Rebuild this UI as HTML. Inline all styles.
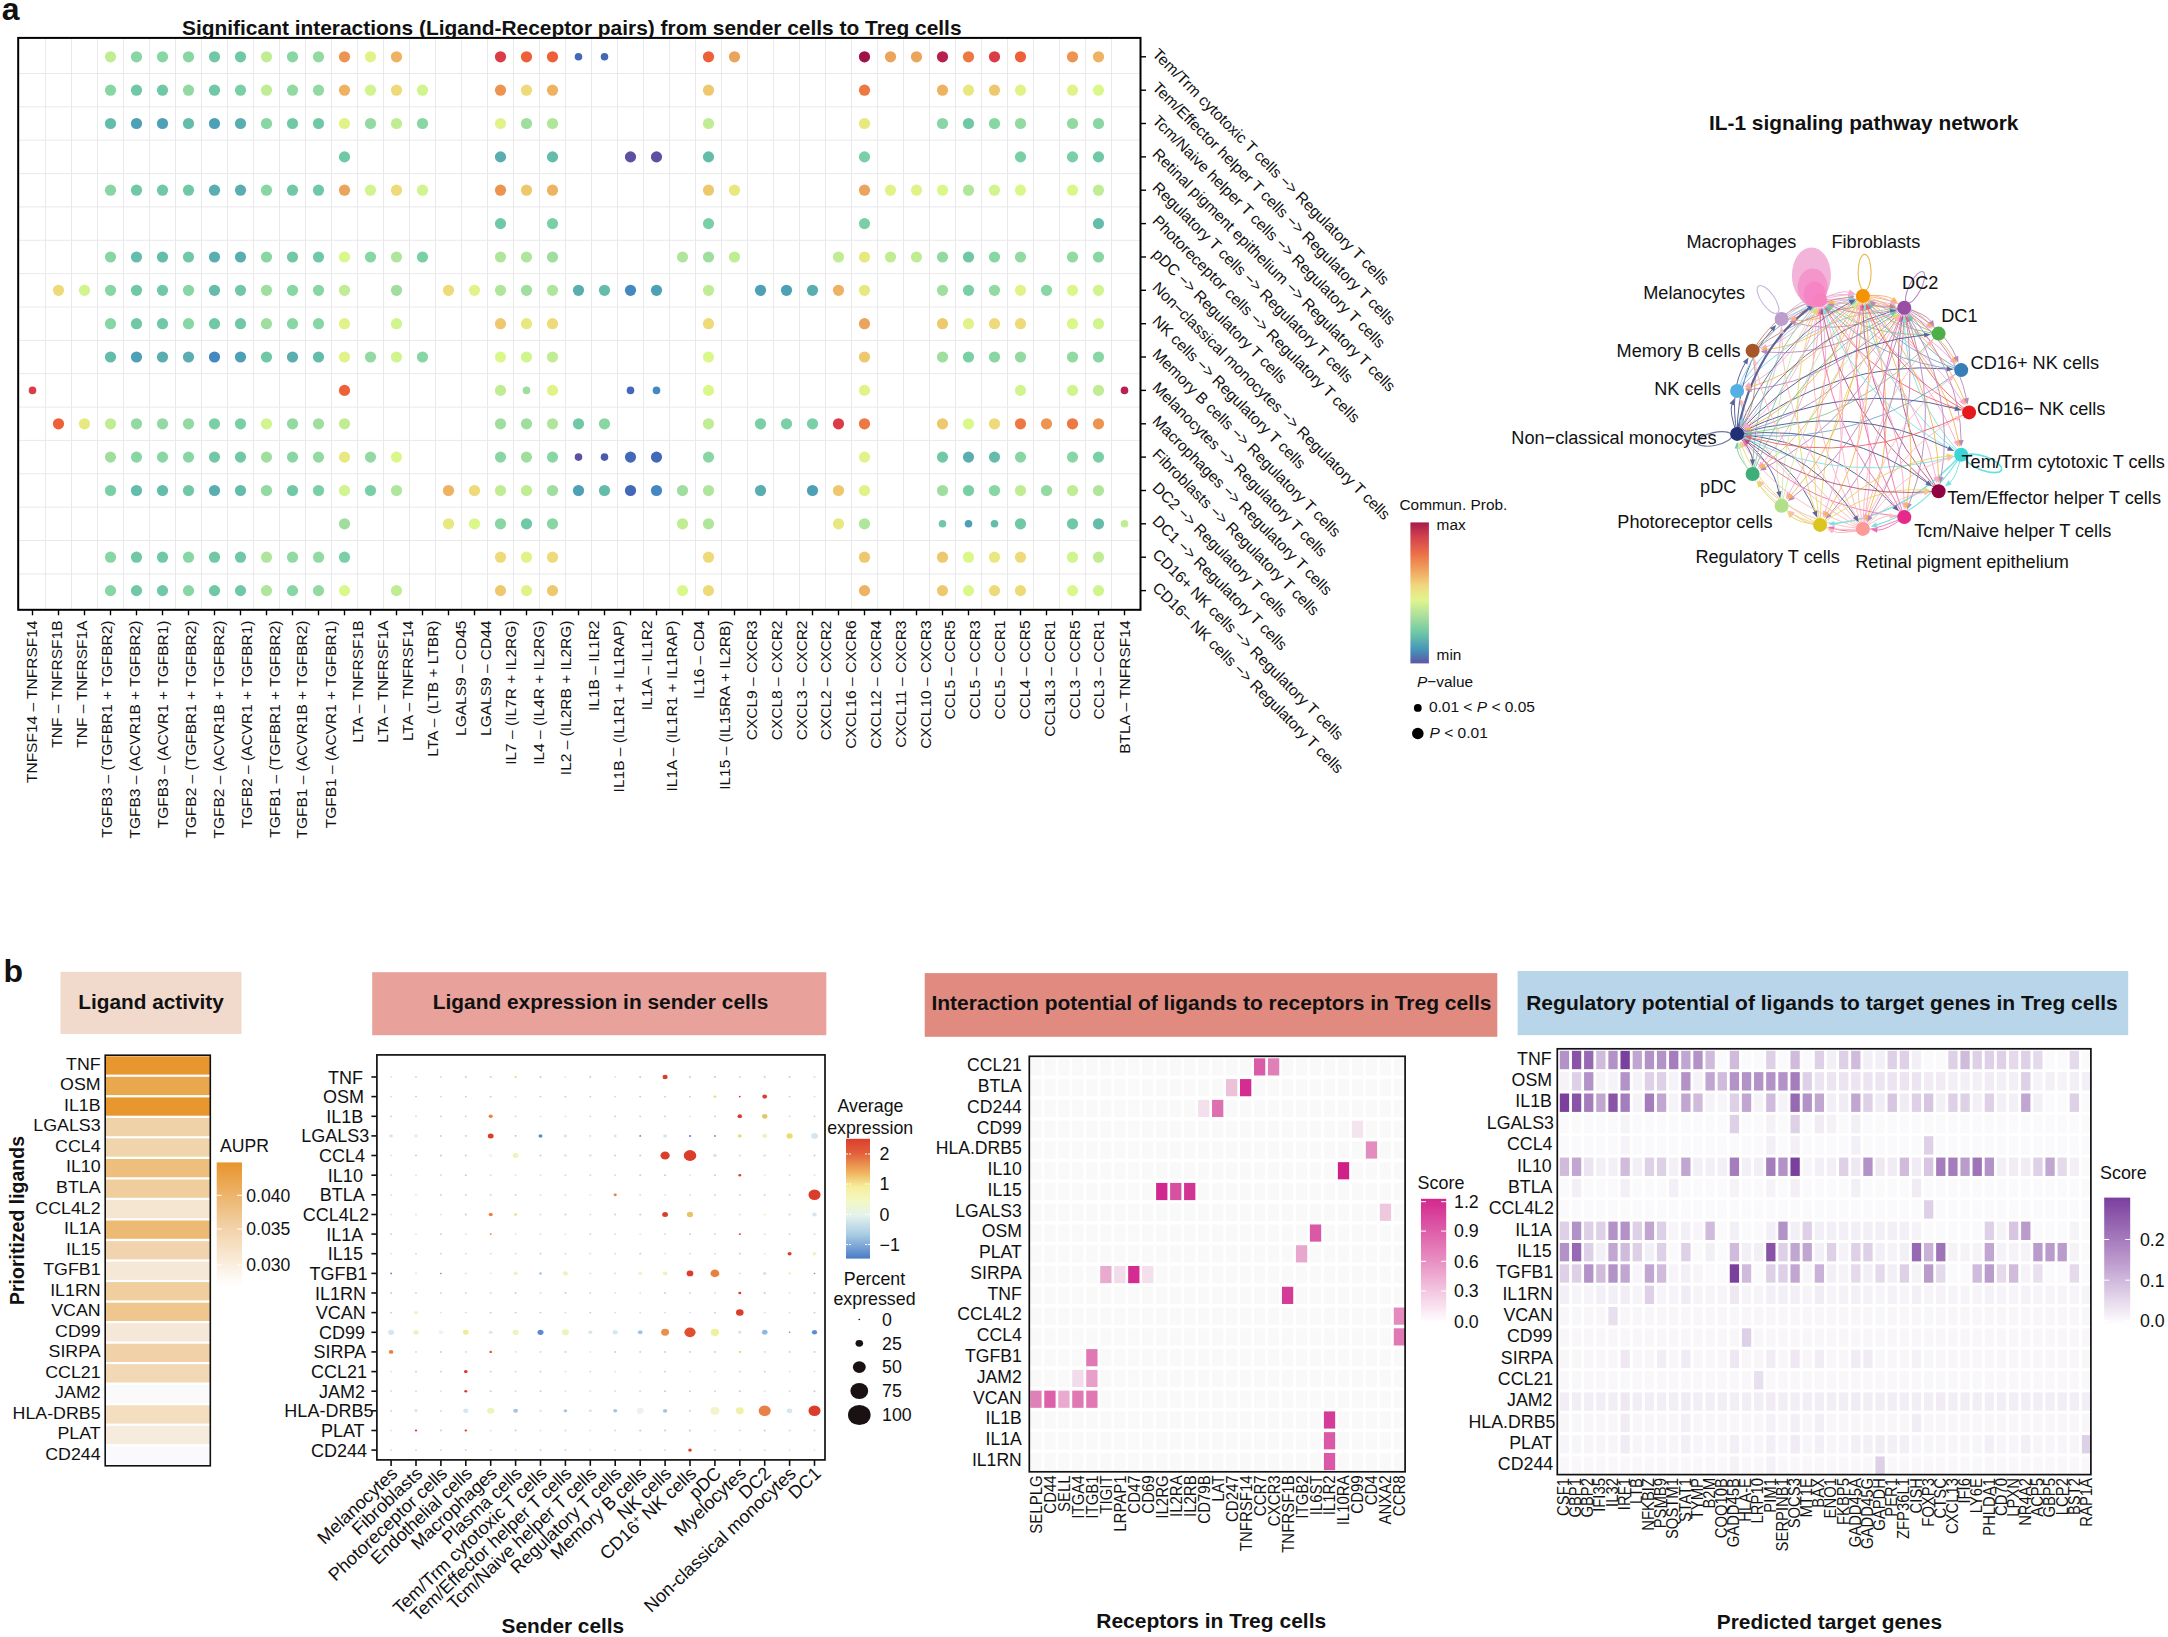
<!DOCTYPE html>
<html lang="en"><head><meta charset="utf-8"><title>Figure</title>
<style>
html,body{margin:0;padding:0;background:#fff}
svg{display:block}
svg text{font-family:"Liberation Sans",sans-serif;fill:#111}
</style></head><body>
<svg width="2168" height="1637" viewBox="0 0 2168 1637">
<rect width="2168" height="1637" fill="#fff"/>
<g id="gen_a">
<g stroke="#e9e9eb" stroke-width="1"><line x1="45.5" y1="37.9" x2="45.5" y2="609.8"/><line x1="71.5" y1="37.9" x2="71.5" y2="609.8"/><line x1="97.5" y1="37.9" x2="97.5" y2="609.8"/><line x1="123.5" y1="37.9" x2="123.5" y2="609.8"/><line x1="149.5" y1="37.9" x2="149.5" y2="609.8"/><line x1="175.5" y1="37.9" x2="175.5" y2="609.8"/><line x1="201.5" y1="37.9" x2="201.5" y2="609.8"/><line x1="227.5" y1="37.9" x2="227.5" y2="609.8"/><line x1="253.5" y1="37.9" x2="253.5" y2="609.8"/><line x1="279.5" y1="37.9" x2="279.5" y2="609.8"/><line x1="305.5" y1="37.9" x2="305.5" y2="609.8"/><line x1="331.5" y1="37.9" x2="331.5" y2="609.8"/><line x1="357.5" y1="37.9" x2="357.5" y2="609.8"/><line x1="383.5" y1="37.9" x2="383.5" y2="609.8"/><line x1="409.5" y1="37.9" x2="409.5" y2="609.8"/><line x1="435.5" y1="37.9" x2="435.5" y2="609.8"/><line x1="461.5" y1="37.9" x2="461.5" y2="609.8"/><line x1="487.5" y1="37.9" x2="487.5" y2="609.8"/><line x1="513.5" y1="37.9" x2="513.5" y2="609.8"/><line x1="539.5" y1="37.9" x2="539.5" y2="609.8"/><line x1="565.5" y1="37.9" x2="565.5" y2="609.8"/><line x1="591.5" y1="37.9" x2="591.5" y2="609.8"/><line x1="617.5" y1="37.9" x2="617.5" y2="609.8"/><line x1="643.5" y1="37.9" x2="643.5" y2="609.8"/><line x1="669.5" y1="37.9" x2="669.5" y2="609.8"/><line x1="695.5" y1="37.9" x2="695.5" y2="609.8"/><line x1="721.5" y1="37.9" x2="721.5" y2="609.8"/><line x1="747.5" y1="37.9" x2="747.5" y2="609.8"/><line x1="773.5" y1="37.9" x2="773.5" y2="609.8"/><line x1="799.5" y1="37.9" x2="799.5" y2="609.8"/><line x1="825.5" y1="37.9" x2="825.5" y2="609.8"/><line x1="851.5" y1="37.9" x2="851.5" y2="609.8"/><line x1="877.5" y1="37.9" x2="877.5" y2="609.8"/><line x1="903.5" y1="37.9" x2="903.5" y2="609.8"/><line x1="929.5" y1="37.9" x2="929.5" y2="609.8"/><line x1="955.5" y1="37.9" x2="955.5" y2="609.8"/><line x1="981.5" y1="37.9" x2="981.5" y2="609.8"/><line x1="1007.5" y1="37.9" x2="1007.5" y2="609.8"/><line x1="1033.5" y1="37.9" x2="1033.5" y2="609.8"/><line x1="1059.5" y1="37.9" x2="1059.5" y2="609.8"/><line x1="1085.5" y1="37.9" x2="1085.5" y2="609.8"/><line x1="1111.5" y1="37.9" x2="1111.5" y2="609.8"/><line x1="18.2" y1="73.5" x2="1140.5" y2="73.5"/><line x1="18.2" y1="106.8" x2="1140.5" y2="106.8"/><line x1="18.2" y1="140.2" x2="1140.5" y2="140.2"/><line x1="18.2" y1="173.6" x2="1140.5" y2="173.6"/><line x1="18.2" y1="206.9" x2="1140.5" y2="206.9"/><line x1="18.2" y1="240.3" x2="1140.5" y2="240.3"/><line x1="18.2" y1="273.6" x2="1140.5" y2="273.6"/><line x1="18.2" y1="307.0" x2="1140.5" y2="307.0"/><line x1="18.2" y1="340.4" x2="1140.5" y2="340.4"/><line x1="18.2" y1="373.7" x2="1140.5" y2="373.7"/><line x1="18.2" y1="407.1" x2="1140.5" y2="407.1"/><line x1="18.2" y1="440.4" x2="1140.5" y2="440.4"/><line x1="18.2" y1="473.8" x2="1140.5" y2="473.8"/><line x1="18.2" y1="507.2" x2="1140.5" y2="507.2"/><line x1="18.2" y1="540.5" x2="1140.5" y2="540.5"/><line x1="18.2" y1="573.9" x2="1140.5" y2="573.9"/></g>
<circle cx="110.5" cy="56.8" r="5.6" fill="#C0EC94"/><circle cx="136.5" cy="56.8" r="5.6" fill="#88D6A3"/><circle cx="162.5" cy="56.8" r="5.6" fill="#88D6A3"/><circle cx="188.5" cy="56.8" r="5.6" fill="#88D6A3"/><circle cx="214.5" cy="56.8" r="5.6" fill="#70C8A6"/><circle cx="240.5" cy="56.8" r="5.6" fill="#70C8A6"/><circle cx="266.5" cy="56.8" r="5.6" fill="#C0EC94"/><circle cx="292.5" cy="56.8" r="5.6" fill="#88D6A3"/><circle cx="318.5" cy="56.8" r="5.6" fill="#92D9A2"/><circle cx="344.5" cy="56.8" r="5.6" fill="#EC9450"/><circle cx="370.5" cy="56.8" r="5.6" fill="#E2F288"/><circle cx="396.5" cy="56.8" r="5.6" fill="#EDB262"/><circle cx="500.5" cy="56.8" r="5.6" fill="#DC3C48"/><circle cx="526.5" cy="56.8" r="5.6" fill="#EE6038"/><circle cx="552.5" cy="56.8" r="5.6" fill="#EE6038"/><circle cx="578.5" cy="56.8" r="3.8" fill="#4468B8"/><circle cx="604.5" cy="56.8" r="3.8" fill="#4468B8"/><circle cx="708.5" cy="56.8" r="5.6" fill="#EE6038"/><circle cx="734.5" cy="56.8" r="5.6" fill="#EAA45C"/><circle cx="864.5" cy="56.8" r="5.6" fill="#9E1248"/><circle cx="890.5" cy="56.8" r="5.6" fill="#EAA45C"/><circle cx="916.5" cy="56.8" r="5.6" fill="#EAA45C"/><circle cx="942.5" cy="56.8" r="5.6" fill="#B82050"/><circle cx="968.5" cy="56.8" r="5.6" fill="#EE7842"/><circle cx="994.5" cy="56.8" r="5.6" fill="#DC3C48"/><circle cx="1020.5" cy="56.8" r="5.6" fill="#EE6038"/><circle cx="1072.5" cy="56.8" r="5.6" fill="#EC9450"/><circle cx="1098.5" cy="56.8" r="5.6" fill="#EDB262"/><circle cx="110.5" cy="90.2" r="5.6" fill="#88D6A3"/><circle cx="136.5" cy="90.2" r="5.6" fill="#70C8A6"/><circle cx="162.5" cy="90.2" r="5.6" fill="#70C8A6"/><circle cx="188.5" cy="90.2" r="5.6" fill="#92D9A2"/><circle cx="214.5" cy="90.2" r="5.6" fill="#70C8A6"/><circle cx="240.5" cy="90.2" r="5.6" fill="#7AD0A6"/><circle cx="266.5" cy="90.2" r="5.6" fill="#C0EC94"/><circle cx="292.5" cy="90.2" r="5.6" fill="#92D9A2"/><circle cx="318.5" cy="90.2" r="5.6" fill="#92D9A2"/><circle cx="344.5" cy="90.2" r="5.6" fill="#EDB262"/><circle cx="370.5" cy="90.2" r="5.6" fill="#D0F48E"/><circle cx="396.5" cy="90.2" r="5.6" fill="#EEDA78"/><circle cx="422.5" cy="90.2" r="5.6" fill="#D0F48E"/><circle cx="500.5" cy="90.2" r="5.6" fill="#EC9450"/><circle cx="526.5" cy="90.2" r="5.6" fill="#EEDA78"/><circle cx="552.5" cy="90.2" r="5.6" fill="#EDB262"/><circle cx="708.5" cy="90.2" r="5.6" fill="#EEC86E"/><circle cx="864.5" cy="90.2" r="5.6" fill="#EE7842"/><circle cx="942.5" cy="90.2" r="5.6" fill="#EDB262"/><circle cx="968.5" cy="90.2" r="5.6" fill="#E8E880"/><circle cx="994.5" cy="90.2" r="5.6" fill="#EEC86E"/><circle cx="1020.5" cy="90.2" r="5.6" fill="#E2F288"/><circle cx="1072.5" cy="90.2" r="5.6" fill="#E2F288"/><circle cx="1098.5" cy="90.2" r="5.6" fill="#DAF88A"/><circle cx="110.5" cy="123.5" r="5.6" fill="#64BCAA"/><circle cx="136.5" cy="123.5" r="5.6" fill="#4EA0B6"/><circle cx="162.5" cy="123.5" r="5.6" fill="#4EA0B6"/><circle cx="188.5" cy="123.5" r="5.6" fill="#64BCAA"/><circle cx="214.5" cy="123.5" r="5.6" fill="#4EA0B6"/><circle cx="240.5" cy="123.5" r="5.6" fill="#5AAEB0"/><circle cx="266.5" cy="123.5" r="5.6" fill="#88D6A3"/><circle cx="292.5" cy="123.5" r="5.6" fill="#70C8A6"/><circle cx="318.5" cy="123.5" r="5.6" fill="#70C8A6"/><circle cx="344.5" cy="123.5" r="5.6" fill="#E2F288"/><circle cx="370.5" cy="123.5" r="5.6" fill="#92D9A2"/><circle cx="396.5" cy="123.5" r="5.6" fill="#C0EC94"/><circle cx="422.5" cy="123.5" r="5.6" fill="#88D6A3"/><circle cx="500.5" cy="123.5" r="5.6" fill="#E2F288"/><circle cx="526.5" cy="123.5" r="5.6" fill="#A0DEA0"/><circle cx="552.5" cy="123.5" r="5.6" fill="#B0E69C"/><circle cx="708.5" cy="123.5" r="5.6" fill="#C0EC94"/><circle cx="864.5" cy="123.5" r="5.6" fill="#E8E880"/><circle cx="942.5" cy="123.5" r="5.6" fill="#88D6A3"/><circle cx="968.5" cy="123.5" r="5.6" fill="#70C8A6"/><circle cx="994.5" cy="123.5" r="5.6" fill="#88D6A3"/><circle cx="1020.5" cy="123.5" r="5.6" fill="#92D9A2"/><circle cx="1072.5" cy="123.5" r="5.6" fill="#92D9A2"/><circle cx="1098.5" cy="123.5" r="5.6" fill="#88D6A3"/><circle cx="344.5" cy="156.9" r="5.6" fill="#70C8A6"/><circle cx="500.5" cy="156.9" r="5.6" fill="#5AAEB0"/><circle cx="552.5" cy="156.9" r="5.6" fill="#64BCAA"/><circle cx="630.5" cy="156.9" r="5.6" fill="#5E4FA2"/><circle cx="656.5" cy="156.9" r="5.6" fill="#5E4FA2"/><circle cx="708.5" cy="156.9" r="5.6" fill="#64BCAA"/><circle cx="864.5" cy="156.9" r="5.6" fill="#7AD0A6"/><circle cx="1020.5" cy="156.9" r="5.6" fill="#7AD0A6"/><circle cx="1072.5" cy="156.9" r="5.6" fill="#7AD0A6"/><circle cx="1098.5" cy="156.9" r="5.6" fill="#70C8A6"/><circle cx="110.5" cy="190.2" r="5.6" fill="#88D6A3"/><circle cx="136.5" cy="190.2" r="5.6" fill="#70C8A6"/><circle cx="162.5" cy="190.2" r="5.6" fill="#70C8A6"/><circle cx="188.5" cy="190.2" r="5.6" fill="#70C8A6"/><circle cx="214.5" cy="190.2" r="5.6" fill="#5AAEB0"/><circle cx="240.5" cy="190.2" r="5.6" fill="#5AAEB0"/><circle cx="266.5" cy="190.2" r="5.6" fill="#88D6A3"/><circle cx="292.5" cy="190.2" r="5.6" fill="#70C8A6"/><circle cx="318.5" cy="190.2" r="5.6" fill="#70C8A6"/><circle cx="344.5" cy="190.2" r="5.6" fill="#EAA45C"/><circle cx="370.5" cy="190.2" r="5.6" fill="#D0F48E"/><circle cx="396.5" cy="190.2" r="5.6" fill="#EEDA78"/><circle cx="422.5" cy="190.2" r="5.6" fill="#D0F48E"/><circle cx="500.5" cy="190.2" r="5.6" fill="#EC9450"/><circle cx="526.5" cy="190.2" r="5.6" fill="#EEC86E"/><circle cx="552.5" cy="190.2" r="5.6" fill="#EDB262"/><circle cx="708.5" cy="190.2" r="5.6" fill="#EEC86E"/><circle cx="734.5" cy="190.2" r="5.6" fill="#E8E880"/><circle cx="864.5" cy="190.2" r="5.6" fill="#EAA45C"/><circle cx="890.5" cy="190.2" r="5.6" fill="#E2F288"/><circle cx="916.5" cy="190.2" r="5.6" fill="#E2F288"/><circle cx="942.5" cy="190.2" r="5.6" fill="#DAF88A"/><circle cx="968.5" cy="190.2" r="5.6" fill="#B0E69C"/><circle cx="994.5" cy="190.2" r="5.6" fill="#D0F48E"/><circle cx="1020.5" cy="190.2" r="5.6" fill="#DAF88A"/><circle cx="1072.5" cy="190.2" r="5.6" fill="#DAF88A"/><circle cx="1098.5" cy="190.2" r="5.6" fill="#C0EC94"/><circle cx="500.5" cy="223.6" r="5.6" fill="#70C8A6"/><circle cx="552.5" cy="223.6" r="5.6" fill="#7AD0A6"/><circle cx="708.5" cy="223.6" r="5.6" fill="#7AD0A6"/><circle cx="864.5" cy="223.6" r="5.6" fill="#7AD0A6"/><circle cx="1098.5" cy="223.6" r="5.6" fill="#64BCAA"/><circle cx="110.5" cy="257.0" r="5.6" fill="#88D6A3"/><circle cx="136.5" cy="257.0" r="5.6" fill="#64BCAA"/><circle cx="162.5" cy="257.0" r="5.6" fill="#64BCAA"/><circle cx="188.5" cy="257.0" r="5.6" fill="#70C8A6"/><circle cx="214.5" cy="257.0" r="5.6" fill="#5AAEB0"/><circle cx="240.5" cy="257.0" r="5.6" fill="#5AAEB0"/><circle cx="266.5" cy="257.0" r="5.6" fill="#88D6A3"/><circle cx="292.5" cy="257.0" r="5.6" fill="#70C8A6"/><circle cx="318.5" cy="257.0" r="5.6" fill="#70C8A6"/><circle cx="344.5" cy="257.0" r="5.6" fill="#DAF88A"/><circle cx="370.5" cy="257.0" r="5.6" fill="#88D6A3"/><circle cx="396.5" cy="257.0" r="5.6" fill="#B0E69C"/><circle cx="422.5" cy="257.0" r="5.6" fill="#7AD0A6"/><circle cx="500.5" cy="257.0" r="5.6" fill="#B0E69C"/><circle cx="526.5" cy="257.0" r="5.6" fill="#B0E69C"/><circle cx="552.5" cy="257.0" r="5.6" fill="#A0DEA0"/><circle cx="682.5" cy="257.0" r="5.6" fill="#B0E69C"/><circle cx="708.5" cy="257.0" r="5.6" fill="#A0DEA0"/><circle cx="734.5" cy="257.0" r="5.6" fill="#C0EC94"/><circle cx="838.5" cy="257.0" r="5.6" fill="#C0EC94"/><circle cx="864.5" cy="257.0" r="5.6" fill="#E8E880"/><circle cx="890.5" cy="257.0" r="5.6" fill="#C0EC94"/><circle cx="916.5" cy="257.0" r="5.6" fill="#C0EC94"/><circle cx="942.5" cy="257.0" r="5.6" fill="#92D9A2"/><circle cx="968.5" cy="257.0" r="5.6" fill="#70C8A6"/><circle cx="994.5" cy="257.0" r="5.6" fill="#88D6A3"/><circle cx="1020.5" cy="257.0" r="5.6" fill="#92D9A2"/><circle cx="1072.5" cy="257.0" r="5.6" fill="#92D9A2"/><circle cx="1098.5" cy="257.0" r="5.6" fill="#88D6A3"/><circle cx="58.5" cy="290.3" r="5.6" fill="#EEDA78"/><circle cx="84.5" cy="290.3" r="5.6" fill="#D0F48E"/><circle cx="110.5" cy="290.3" r="5.6" fill="#88D6A3"/><circle cx="136.5" cy="290.3" r="5.6" fill="#70C8A6"/><circle cx="162.5" cy="290.3" r="5.6" fill="#70C8A6"/><circle cx="188.5" cy="290.3" r="5.6" fill="#88D6A3"/><circle cx="214.5" cy="290.3" r="5.6" fill="#64BCAA"/><circle cx="240.5" cy="290.3" r="5.6" fill="#70C8A6"/><circle cx="266.5" cy="290.3" r="5.6" fill="#A0DEA0"/><circle cx="292.5" cy="290.3" r="5.6" fill="#88D6A3"/><circle cx="318.5" cy="290.3" r="5.6" fill="#88D6A3"/><circle cx="344.5" cy="290.3" r="5.6" fill="#C0EC94"/><circle cx="396.5" cy="290.3" r="5.6" fill="#A0DEA0"/><circle cx="448.5" cy="290.3" r="5.6" fill="#EEDA78"/><circle cx="474.5" cy="290.3" r="5.6" fill="#E2F288"/><circle cx="500.5" cy="290.3" r="5.6" fill="#B0E69C"/><circle cx="526.5" cy="290.3" r="5.6" fill="#A0DEA0"/><circle cx="552.5" cy="290.3" r="5.6" fill="#B0E69C"/><circle cx="578.5" cy="290.3" r="5.6" fill="#5AAEB0"/><circle cx="604.5" cy="290.3" r="5.6" fill="#64BCAA"/><circle cx="630.5" cy="290.3" r="5.6" fill="#4488C2"/><circle cx="656.5" cy="290.3" r="5.6" fill="#4EA0B6"/><circle cx="708.5" cy="290.3" r="5.6" fill="#C0EC94"/><circle cx="760.5" cy="290.3" r="5.6" fill="#4EA0B6"/><circle cx="786.5" cy="290.3" r="5.6" fill="#4EA0B6"/><circle cx="812.5" cy="290.3" r="5.6" fill="#5AAEB0"/><circle cx="838.5" cy="290.3" r="5.6" fill="#EDB262"/><circle cx="864.5" cy="290.3" r="5.6" fill="#E8E880"/><circle cx="942.5" cy="290.3" r="5.6" fill="#A0DEA0"/><circle cx="968.5" cy="290.3" r="5.6" fill="#7AD0A6"/><circle cx="994.5" cy="290.3" r="5.6" fill="#92D9A2"/><circle cx="1020.5" cy="290.3" r="5.6" fill="#E2F288"/><circle cx="1046.5" cy="290.3" r="5.6" fill="#88D6A3"/><circle cx="1072.5" cy="290.3" r="5.6" fill="#DAF88A"/><circle cx="1098.5" cy="290.3" r="5.6" fill="#D0F48E"/><circle cx="110.5" cy="323.7" r="5.6" fill="#88D6A3"/><circle cx="136.5" cy="323.7" r="5.6" fill="#70C8A6"/><circle cx="162.5" cy="323.7" r="5.6" fill="#70C8A6"/><circle cx="188.5" cy="323.7" r="5.6" fill="#88D6A3"/><circle cx="214.5" cy="323.7" r="5.6" fill="#70C8A6"/><circle cx="240.5" cy="323.7" r="5.6" fill="#70C8A6"/><circle cx="266.5" cy="323.7" r="5.6" fill="#A0DEA0"/><circle cx="292.5" cy="323.7" r="5.6" fill="#88D6A3"/><circle cx="318.5" cy="323.7" r="5.6" fill="#88D6A3"/><circle cx="344.5" cy="323.7" r="5.6" fill="#E2F288"/><circle cx="396.5" cy="323.7" r="5.6" fill="#D0F48E"/><circle cx="500.5" cy="323.7" r="5.6" fill="#EEC86E"/><circle cx="526.5" cy="323.7" r="5.6" fill="#E8E880"/><circle cx="552.5" cy="323.7" r="5.6" fill="#EEDA78"/><circle cx="708.5" cy="323.7" r="5.6" fill="#EEDA78"/><circle cx="864.5" cy="323.7" r="5.6" fill="#EAA45C"/><circle cx="942.5" cy="323.7" r="5.6" fill="#EEC86E"/><circle cx="968.5" cy="323.7" r="5.6" fill="#E2F288"/><circle cx="994.5" cy="323.7" r="5.6" fill="#EEDA78"/><circle cx="1020.5" cy="323.7" r="5.6" fill="#EEDA78"/><circle cx="1072.5" cy="323.7" r="5.6" fill="#DAF88A"/><circle cx="1098.5" cy="323.7" r="5.6" fill="#D0F48E"/><circle cx="110.5" cy="357.0" r="5.6" fill="#64BCAA"/><circle cx="136.5" cy="357.0" r="5.6" fill="#4EA0B6"/><circle cx="162.5" cy="357.0" r="5.6" fill="#5AAEB0"/><circle cx="188.5" cy="357.0" r="5.6" fill="#5AAEB0"/><circle cx="214.5" cy="357.0" r="5.6" fill="#4488C2"/><circle cx="240.5" cy="357.0" r="5.6" fill="#4EA0B6"/><circle cx="266.5" cy="357.0" r="5.6" fill="#70C8A6"/><circle cx="292.5" cy="357.0" r="5.6" fill="#5AAEB0"/><circle cx="318.5" cy="357.0" r="5.6" fill="#64BCAA"/><circle cx="344.5" cy="357.0" r="5.6" fill="#E2F288"/><circle cx="370.5" cy="357.0" r="5.6" fill="#92D9A2"/><circle cx="396.5" cy="357.0" r="5.6" fill="#D0F48E"/><circle cx="422.5" cy="357.0" r="5.6" fill="#88D6A3"/><circle cx="500.5" cy="357.0" r="5.6" fill="#DAF88A"/><circle cx="526.5" cy="357.0" r="5.6" fill="#D0F48E"/><circle cx="552.5" cy="357.0" r="5.6" fill="#C0EC94"/><circle cx="708.5" cy="357.0" r="5.6" fill="#DAF88A"/><circle cx="864.5" cy="357.0" r="5.6" fill="#EEC86E"/><circle cx="942.5" cy="357.0" r="5.6" fill="#A0DEA0"/><circle cx="968.5" cy="357.0" r="5.6" fill="#7AD0A6"/><circle cx="994.5" cy="357.0" r="5.6" fill="#88D6A3"/><circle cx="1020.5" cy="357.0" r="5.6" fill="#92D9A2"/><circle cx="1072.5" cy="357.0" r="5.6" fill="#92D9A2"/><circle cx="1098.5" cy="357.0" r="5.6" fill="#88D6A3"/><circle cx="32.5" cy="390.4" r="3.8" fill="#DC3C48"/><circle cx="344.5" cy="390.4" r="5.6" fill="#EE6038"/><circle cx="500.5" cy="390.4" r="5.6" fill="#C0EC94"/><circle cx="526.5" cy="390.4" r="3.8" fill="#A0DEA0"/><circle cx="552.5" cy="390.4" r="5.6" fill="#E2F288"/><circle cx="630.5" cy="390.4" r="3.8" fill="#4468B8"/><circle cx="656.5" cy="390.4" r="3.8" fill="#4488C2"/><circle cx="708.5" cy="390.4" r="5.6" fill="#DAF88A"/><circle cx="864.5" cy="390.4" r="5.6" fill="#E2F288"/><circle cx="1020.5" cy="390.4" r="5.6" fill="#D0F48E"/><circle cx="1072.5" cy="390.4" r="5.6" fill="#D0F48E"/><circle cx="1098.5" cy="390.4" r="5.6" fill="#C0EC94"/><circle cx="1124.5" cy="390.4" r="3.8" fill="#B82050"/><circle cx="58.5" cy="423.8" r="5.6" fill="#EE6038"/><circle cx="84.5" cy="423.8" r="5.6" fill="#E8E880"/><circle cx="110.5" cy="423.8" r="5.6" fill="#C0EC94"/><circle cx="136.5" cy="423.8" r="5.6" fill="#92D9A2"/><circle cx="162.5" cy="423.8" r="5.6" fill="#92D9A2"/><circle cx="188.5" cy="423.8" r="5.6" fill="#92D9A2"/><circle cx="214.5" cy="423.8" r="5.6" fill="#7AD0A6"/><circle cx="240.5" cy="423.8" r="5.6" fill="#7AD0A6"/><circle cx="266.5" cy="423.8" r="5.6" fill="#D0F48E"/><circle cx="292.5" cy="423.8" r="5.6" fill="#92D9A2"/><circle cx="318.5" cy="423.8" r="5.6" fill="#A0DEA0"/><circle cx="344.5" cy="423.8" r="5.6" fill="#C0EC94"/><circle cx="500.5" cy="423.8" r="5.6" fill="#A0DEA0"/><circle cx="526.5" cy="423.8" r="5.6" fill="#A0DEA0"/><circle cx="552.5" cy="423.8" r="5.6" fill="#B0E69C"/><circle cx="578.5" cy="423.8" r="5.6" fill="#70C8A6"/><circle cx="604.5" cy="423.8" r="5.6" fill="#88D6A3"/><circle cx="708.5" cy="423.8" r="5.6" fill="#C0EC94"/><circle cx="760.5" cy="423.8" r="5.6" fill="#7AD0A6"/><circle cx="786.5" cy="423.8" r="5.6" fill="#7AD0A6"/><circle cx="812.5" cy="423.8" r="5.6" fill="#7AD0A6"/><circle cx="838.5" cy="423.8" r="5.6" fill="#DC3C48"/><circle cx="864.5" cy="423.8" r="5.6" fill="#EE7842"/><circle cx="942.5" cy="423.8" r="5.6" fill="#EEC86E"/><circle cx="968.5" cy="423.8" r="5.6" fill="#DAF88A"/><circle cx="994.5" cy="423.8" r="5.6" fill="#EEDA78"/><circle cx="1020.5" cy="423.8" r="5.6" fill="#EE7842"/><circle cx="1046.5" cy="423.8" r="5.6" fill="#EC9450"/><circle cx="1072.5" cy="423.8" r="5.6" fill="#EE7842"/><circle cx="1098.5" cy="423.8" r="5.6" fill="#EC9450"/><circle cx="110.5" cy="457.1" r="5.6" fill="#A0DEA0"/><circle cx="136.5" cy="457.1" r="5.6" fill="#88D6A3"/><circle cx="162.5" cy="457.1" r="5.6" fill="#88D6A3"/><circle cx="188.5" cy="457.1" r="5.6" fill="#88D6A3"/><circle cx="214.5" cy="457.1" r="5.6" fill="#70C8A6"/><circle cx="240.5" cy="457.1" r="5.6" fill="#70C8A6"/><circle cx="266.5" cy="457.1" r="5.6" fill="#A0DEA0"/><circle cx="292.5" cy="457.1" r="5.6" fill="#88D6A3"/><circle cx="318.5" cy="457.1" r="5.6" fill="#92D9A2"/><circle cx="344.5" cy="457.1" r="5.6" fill="#E8E880"/><circle cx="370.5" cy="457.1" r="5.6" fill="#92D9A2"/><circle cx="396.5" cy="457.1" r="5.6" fill="#DAF88A"/><circle cx="500.5" cy="457.1" r="5.6" fill="#88D6A3"/><circle cx="526.5" cy="457.1" r="5.6" fill="#A0DEA0"/><circle cx="552.5" cy="457.1" r="5.6" fill="#88D6A3"/><circle cx="578.5" cy="457.1" r="3.8" fill="#5E4FA2"/><circle cx="604.5" cy="457.1" r="3.8" fill="#4C5AAE"/><circle cx="630.5" cy="457.1" r="5.6" fill="#4468B8"/><circle cx="656.5" cy="457.1" r="5.6" fill="#4468B8"/><circle cx="708.5" cy="457.1" r="5.6" fill="#88D6A3"/><circle cx="864.5" cy="457.1" r="5.6" fill="#E2F288"/><circle cx="942.5" cy="457.1" r="5.6" fill="#70C8A6"/><circle cx="968.5" cy="457.1" r="5.6" fill="#5AAEB0"/><circle cx="994.5" cy="457.1" r="5.6" fill="#64BCAA"/><circle cx="1020.5" cy="457.1" r="5.6" fill="#88D6A3"/><circle cx="1072.5" cy="457.1" r="5.6" fill="#88D6A3"/><circle cx="1098.5" cy="457.1" r="5.6" fill="#7AD0A6"/><circle cx="110.5" cy="490.5" r="5.6" fill="#7AD0A6"/><circle cx="136.5" cy="490.5" r="5.6" fill="#64BCAA"/><circle cx="162.5" cy="490.5" r="5.6" fill="#64BCAA"/><circle cx="188.5" cy="490.5" r="5.6" fill="#70C8A6"/><circle cx="214.5" cy="490.5" r="5.6" fill="#5AAEB0"/><circle cx="240.5" cy="490.5" r="5.6" fill="#64BCAA"/><circle cx="266.5" cy="490.5" r="5.6" fill="#92D9A2"/><circle cx="292.5" cy="490.5" r="5.6" fill="#70C8A6"/><circle cx="318.5" cy="490.5" r="5.6" fill="#7AD0A6"/><circle cx="344.5" cy="490.5" r="5.6" fill="#D0F48E"/><circle cx="370.5" cy="490.5" r="5.6" fill="#7AD0A6"/><circle cx="396.5" cy="490.5" r="5.6" fill="#B0E69C"/><circle cx="448.5" cy="490.5" r="5.6" fill="#EDB262"/><circle cx="474.5" cy="490.5" r="5.6" fill="#EEDA78"/><circle cx="500.5" cy="490.5" r="5.6" fill="#C0EC94"/><circle cx="526.5" cy="490.5" r="5.6" fill="#C0EC94"/><circle cx="552.5" cy="490.5" r="5.6" fill="#A0DEA0"/><circle cx="578.5" cy="490.5" r="5.6" fill="#4EA0B6"/><circle cx="604.5" cy="490.5" r="5.6" fill="#64BCAA"/><circle cx="630.5" cy="490.5" r="5.6" fill="#4468B8"/><circle cx="656.5" cy="490.5" r="5.6" fill="#4488C2"/><circle cx="682.5" cy="490.5" r="5.6" fill="#A0DEA0"/><circle cx="708.5" cy="490.5" r="5.6" fill="#B0E69C"/><circle cx="760.5" cy="490.5" r="5.6" fill="#5AAEB0"/><circle cx="812.5" cy="490.5" r="5.6" fill="#4EA0B6"/><circle cx="838.5" cy="490.5" r="5.6" fill="#EEC86E"/><circle cx="864.5" cy="490.5" r="5.6" fill="#E2F288"/><circle cx="942.5" cy="490.5" r="5.6" fill="#A0DEA0"/><circle cx="968.5" cy="490.5" r="5.6" fill="#7AD0A6"/><circle cx="994.5" cy="490.5" r="5.6" fill="#88D6A3"/><circle cx="1020.5" cy="490.5" r="5.6" fill="#C0EC94"/><circle cx="1046.5" cy="490.5" r="5.6" fill="#92D9A2"/><circle cx="1072.5" cy="490.5" r="5.6" fill="#C0EC94"/><circle cx="1098.5" cy="490.5" r="5.6" fill="#B0E69C"/><circle cx="344.5" cy="523.8" r="5.6" fill="#A0DEA0"/><circle cx="448.5" cy="523.8" r="5.6" fill="#E8E880"/><circle cx="474.5" cy="523.8" r="5.6" fill="#DAF88A"/><circle cx="500.5" cy="523.8" r="5.6" fill="#88D6A3"/><circle cx="526.5" cy="523.8" r="5.6" fill="#70C8A6"/><circle cx="552.5" cy="523.8" r="5.6" fill="#88D6A3"/><circle cx="682.5" cy="523.8" r="5.6" fill="#C0EC94"/><circle cx="708.5" cy="523.8" r="5.6" fill="#B0E69C"/><circle cx="838.5" cy="523.8" r="5.6" fill="#E8E880"/><circle cx="864.5" cy="523.8" r="5.6" fill="#B0E69C"/><circle cx="942.5" cy="523.8" r="3.8" fill="#70C8A6"/><circle cx="968.5" cy="523.8" r="3.8" fill="#4EA0B6"/><circle cx="994.5" cy="523.8" r="3.8" fill="#64BCAA"/><circle cx="1020.5" cy="523.8" r="5.6" fill="#70C8A6"/><circle cx="1072.5" cy="523.8" r="5.6" fill="#70C8A6"/><circle cx="1098.5" cy="523.8" r="5.6" fill="#64BCAA"/><circle cx="1124.5" cy="523.8" r="3.8" fill="#C0EC94"/><circle cx="110.5" cy="557.2" r="5.6" fill="#88D6A3"/><circle cx="136.5" cy="557.2" r="5.6" fill="#70C8A6"/><circle cx="162.5" cy="557.2" r="5.6" fill="#70C8A6"/><circle cx="188.5" cy="557.2" r="5.6" fill="#88D6A3"/><circle cx="214.5" cy="557.2" r="5.6" fill="#70C8A6"/><circle cx="240.5" cy="557.2" r="5.6" fill="#70C8A6"/><circle cx="266.5" cy="557.2" r="5.6" fill="#B0E69C"/><circle cx="292.5" cy="557.2" r="5.6" fill="#92D9A2"/><circle cx="318.5" cy="557.2" r="5.6" fill="#92D9A2"/><circle cx="344.5" cy="557.2" r="5.6" fill="#7AD0A6"/><circle cx="500.5" cy="557.2" r="5.6" fill="#EEDA78"/><circle cx="526.5" cy="557.2" r="5.6" fill="#E2F288"/><circle cx="552.5" cy="557.2" r="5.6" fill="#EEDA78"/><circle cx="708.5" cy="557.2" r="5.6" fill="#EEDA78"/><circle cx="864.5" cy="557.2" r="5.6" fill="#EEC86E"/><circle cx="942.5" cy="557.2" r="5.6" fill="#EEC86E"/><circle cx="968.5" cy="557.2" r="5.6" fill="#DAF88A"/><circle cx="994.5" cy="557.2" r="5.6" fill="#E8E880"/><circle cx="1020.5" cy="557.2" r="5.6" fill="#EEDA78"/><circle cx="1072.5" cy="557.2" r="5.6" fill="#D0F48E"/><circle cx="1098.5" cy="557.2" r="5.6" fill="#C0EC94"/><circle cx="110.5" cy="590.6" r="5.6" fill="#88D6A3"/><circle cx="136.5" cy="590.6" r="5.6" fill="#70C8A6"/><circle cx="162.5" cy="590.6" r="5.6" fill="#70C8A6"/><circle cx="188.5" cy="590.6" r="5.6" fill="#88D6A3"/><circle cx="214.5" cy="590.6" r="5.6" fill="#70C8A6"/><circle cx="240.5" cy="590.6" r="5.6" fill="#70C8A6"/><circle cx="266.5" cy="590.6" r="5.6" fill="#B0E69C"/><circle cx="292.5" cy="590.6" r="5.6" fill="#88D6A3"/><circle cx="318.5" cy="590.6" r="5.6" fill="#92D9A2"/><circle cx="344.5" cy="590.6" r="5.6" fill="#DAF88A"/><circle cx="396.5" cy="590.6" r="5.6" fill="#C0EC94"/><circle cx="500.5" cy="590.6" r="5.6" fill="#EEC86E"/><circle cx="526.5" cy="590.6" r="5.6" fill="#E2F288"/><circle cx="552.5" cy="590.6" r="5.6" fill="#EEC86E"/><circle cx="682.5" cy="590.6" r="5.6" fill="#DAF88A"/><circle cx="708.5" cy="590.6" r="5.6" fill="#EEDA78"/><circle cx="864.5" cy="590.6" r="5.6" fill="#EDB262"/><circle cx="942.5" cy="590.6" r="5.6" fill="#EEC86E"/><circle cx="968.5" cy="590.6" r="5.6" fill="#DAF88A"/><circle cx="994.5" cy="590.6" r="5.6" fill="#EEDA78"/><circle cx="1020.5" cy="590.6" r="5.6" fill="#EEDA78"/><circle cx="1072.5" cy="590.6" r="5.6" fill="#DAF88A"/><circle cx="1098.5" cy="590.6" r="5.6" fill="#D0F48E"/>
<rect x="18.2" y="37.9" width="1122.3" height="571.9" fill="none" stroke="#000" stroke-width="2"/>
<g stroke="#000" stroke-width="1.4"><line x1="32.5" y1="609.8" x2="32.5" y2="615.3"/><line x1="58.5" y1="609.8" x2="58.5" y2="615.3"/><line x1="84.5" y1="609.8" x2="84.5" y2="615.3"/><line x1="110.5" y1="609.8" x2="110.5" y2="615.3"/><line x1="136.5" y1="609.8" x2="136.5" y2="615.3"/><line x1="162.5" y1="609.8" x2="162.5" y2="615.3"/><line x1="188.5" y1="609.8" x2="188.5" y2="615.3"/><line x1="214.5" y1="609.8" x2="214.5" y2="615.3"/><line x1="240.5" y1="609.8" x2="240.5" y2="615.3"/><line x1="266.5" y1="609.8" x2="266.5" y2="615.3"/><line x1="292.5" y1="609.8" x2="292.5" y2="615.3"/><line x1="318.5" y1="609.8" x2="318.5" y2="615.3"/><line x1="344.5" y1="609.8" x2="344.5" y2="615.3"/><line x1="370.5" y1="609.8" x2="370.5" y2="615.3"/><line x1="396.5" y1="609.8" x2="396.5" y2="615.3"/><line x1="422.5" y1="609.8" x2="422.5" y2="615.3"/><line x1="448.5" y1="609.8" x2="448.5" y2="615.3"/><line x1="474.5" y1="609.8" x2="474.5" y2="615.3"/><line x1="500.5" y1="609.8" x2="500.5" y2="615.3"/><line x1="526.5" y1="609.8" x2="526.5" y2="615.3"/><line x1="552.5" y1="609.8" x2="552.5" y2="615.3"/><line x1="578.5" y1="609.8" x2="578.5" y2="615.3"/><line x1="604.5" y1="609.8" x2="604.5" y2="615.3"/><line x1="630.5" y1="609.8" x2="630.5" y2="615.3"/><line x1="656.5" y1="609.8" x2="656.5" y2="615.3"/><line x1="682.5" y1="609.8" x2="682.5" y2="615.3"/><line x1="708.5" y1="609.8" x2="708.5" y2="615.3"/><line x1="734.5" y1="609.8" x2="734.5" y2="615.3"/><line x1="760.5" y1="609.8" x2="760.5" y2="615.3"/><line x1="786.5" y1="609.8" x2="786.5" y2="615.3"/><line x1="812.5" y1="609.8" x2="812.5" y2="615.3"/><line x1="838.5" y1="609.8" x2="838.5" y2="615.3"/><line x1="864.5" y1="609.8" x2="864.5" y2="615.3"/><line x1="890.5" y1="609.8" x2="890.5" y2="615.3"/><line x1="916.5" y1="609.8" x2="916.5" y2="615.3"/><line x1="942.5" y1="609.8" x2="942.5" y2="615.3"/><line x1="968.5" y1="609.8" x2="968.5" y2="615.3"/><line x1="994.5" y1="609.8" x2="994.5" y2="615.3"/><line x1="1020.5" y1="609.8" x2="1020.5" y2="615.3"/><line x1="1046.5" y1="609.8" x2="1046.5" y2="615.3"/><line x1="1072.5" y1="609.8" x2="1072.5" y2="615.3"/><line x1="1098.5" y1="609.8" x2="1098.5" y2="615.3"/><line x1="1124.5" y1="609.8" x2="1124.5" y2="615.3"/><line x1="1140.5" y1="56.8" x2="1146.0" y2="56.8"/><line x1="1140.5" y1="90.2" x2="1146.0" y2="90.2"/><line x1="1140.5" y1="123.5" x2="1146.0" y2="123.5"/><line x1="1140.5" y1="156.9" x2="1146.0" y2="156.9"/><line x1="1140.5" y1="190.2" x2="1146.0" y2="190.2"/><line x1="1140.5" y1="223.6" x2="1146.0" y2="223.6"/><line x1="1140.5" y1="257.0" x2="1146.0" y2="257.0"/><line x1="1140.5" y1="290.3" x2="1146.0" y2="290.3"/><line x1="1140.5" y1="323.7" x2="1146.0" y2="323.7"/><line x1="1140.5" y1="357.0" x2="1146.0" y2="357.0"/><line x1="1140.5" y1="390.4" x2="1146.0" y2="390.4"/><line x1="1140.5" y1="423.8" x2="1146.0" y2="423.8"/><line x1="1140.5" y1="457.1" x2="1146.0" y2="457.1"/><line x1="1140.5" y1="490.5" x2="1146.0" y2="490.5"/><line x1="1140.5" y1="523.8" x2="1146.0" y2="523.8"/><line x1="1140.5" y1="557.2" x2="1146.0" y2="557.2"/><line x1="1140.5" y1="590.6" x2="1146.0" y2="590.6"/></g>
<text transform="translate(37.3,620.5) rotate(-90)" font-size="15.5" text-anchor="end">TNFSF14 – TNFRSF14</text>
<text transform="translate(62.3,620.5) rotate(-90)" font-size="15.5" text-anchor="end">TNF – TNFRSF1B</text>
<text transform="translate(87.1,620.5) rotate(-90)" font-size="15.5" text-anchor="end">TNF – TNFRSF1A</text>
<text transform="translate(111.8,620.5) rotate(-90)" font-size="15.5" text-anchor="end">TGFB3 – (TGFBR1 + TGFBR2)</text>
<text transform="translate(140.2,620.5) rotate(-90)" font-size="15.5" text-anchor="end">TGFB3 – (ACVR1B + TGFBR2)</text>
<text transform="translate(168.0,620.5) rotate(-90)" font-size="15.5" text-anchor="end">TGFB3 – (ACVR1 + TGFBR1)</text>
<text transform="translate(196.1,620.5) rotate(-90)" font-size="15.5" text-anchor="end">TGFB2 – (TGFBR1 + TGFBR2)</text>
<text transform="translate(223.6,620.5) rotate(-90)" font-size="15.5" text-anchor="end">TGFB2 – (ACVR1B + TGFBR2)</text>
<text transform="translate(252.3,620.5) rotate(-90)" font-size="15.5" text-anchor="end">TGFB2 – (ACVR1 + TGFBR1)</text>
<text transform="translate(279.5,620.5) rotate(-90)" font-size="15.5" text-anchor="end">TGFB1 – (TGFBR1 + TGFBR2)</text>
<text transform="translate(307.4,620.5) rotate(-90)" font-size="15.5" text-anchor="end">TGFB1 – (ACVR1B + TGFBR2)</text>
<text transform="translate(335.7,620.5) rotate(-90)" font-size="15.5" text-anchor="end">TGFB1 – (ACVR1 + TGFBR1)</text>
<text transform="translate(363.3,620.5) rotate(-90)" font-size="15.5" text-anchor="end">LTA – TNFRSF1B</text>
<text transform="translate(388.4,620.5) rotate(-90)" font-size="15.5" text-anchor="end">LTA – TNFRSF1A</text>
<text transform="translate(412.8,620.5) rotate(-90)" font-size="15.5" text-anchor="end">LTA – TNFRSF14</text>
<text transform="translate(438.2,620.5) rotate(-90)" font-size="15.5" text-anchor="end">LTA – (LTB + LTBR)</text>
<text transform="translate(466.0,620.5) rotate(-90)" font-size="15.5" text-anchor="end">LGALS9 – CD45</text>
<text transform="translate(490.6,620.5) rotate(-90)" font-size="15.5" text-anchor="end">LGALS9 – CD44</text>
<text transform="translate(515.8,620.5) rotate(-90)" font-size="15.5" text-anchor="end">IL7 – (IL7R + IL2RG)</text>
<text transform="translate(543.9,620.5) rotate(-90)" font-size="15.5" text-anchor="end">IL4 – (IL4R + IL2RG)</text>
<text transform="translate(571.1,620.5) rotate(-90)" font-size="15.5" text-anchor="end">IL2 – (IL2RB + IL2RG)</text>
<text transform="translate(599.0,620.5) rotate(-90)" font-size="15.5" text-anchor="end">IL1B – IL1R2</text>
<text transform="translate(624.2,620.5) rotate(-90)" font-size="15.5" text-anchor="end">IL1B – (IL1R1 + IL1RAP)</text>
<text transform="translate(651.7,620.5) rotate(-90)" font-size="15.5" text-anchor="end">IL1A – IL1R2</text>
<text transform="translate(676.6,620.5) rotate(-90)" font-size="15.5" text-anchor="end">IL1A – (IL1R1 + IL1RAP)</text>
<text transform="translate(703.9,620.5) rotate(-90)" font-size="15.5" text-anchor="end">IL16 – CD4</text>
<text transform="translate(729.6,620.5) rotate(-90)" font-size="15.5" text-anchor="end">IL15 – (IL15RA + IL2RB)</text>
<text transform="translate(756.9,620.5) rotate(-90)" font-size="15.5" text-anchor="end">CXCL9 – CXCR3</text>
<text transform="translate(781.8,620.5) rotate(-90)" font-size="15.5" text-anchor="end">CXCL8 – CXCR2</text>
<text transform="translate(806.6,620.5) rotate(-90)" font-size="15.5" text-anchor="end">CXCL3 – CXCR2</text>
<text transform="translate(831.3,620.5) rotate(-90)" font-size="15.5" text-anchor="end">CXCL2 – CXCR2</text>
<text transform="translate(856.1,620.5) rotate(-90)" font-size="15.5" text-anchor="end">CXCL16 – CXCR6</text>
<text transform="translate(880.7,620.5) rotate(-90)" font-size="15.5" text-anchor="end">CXCL12 – CXCR4</text>
<text transform="translate(905.6,620.5) rotate(-90)" font-size="15.5" text-anchor="end">CXCL11 – CXCR3</text>
<text transform="translate(930.5,620.5) rotate(-90)" font-size="15.5" text-anchor="end">CXCL10 – CXCR3</text>
<text transform="translate(955.1,620.5) rotate(-90)" font-size="15.5" text-anchor="end">CCL5 – CCR5</text>
<text transform="translate(980.3,620.5) rotate(-90)" font-size="15.5" text-anchor="end">CCL5 – CCR3</text>
<text transform="translate(1005.1,620.5) rotate(-90)" font-size="15.5" text-anchor="end">CCL5 – CCR1</text>
<text transform="translate(1030.0,620.5) rotate(-90)" font-size="15.5" text-anchor="end">CCL4 – CCR5</text>
<text transform="translate(1054.6,620.5) rotate(-90)" font-size="15.5" text-anchor="end">CCL3L3 – CCR1</text>
<text transform="translate(1079.5,620.5) rotate(-90)" font-size="15.5" text-anchor="end">CCL3 – CCR5</text>
<text transform="translate(1104.1,620.5) rotate(-90)" font-size="15.5" text-anchor="end">CCL3 – CCR1</text>
<text transform="translate(1129.5,620.5) rotate(-90)" font-size="15.5" text-anchor="end">BTLA – TNFRSF14</text>
<text transform="translate(1155.4,51.2) rotate(45)" y="5.4" font-size="15.65">Tem/Trm cytotoxic T cells −&gt; Regulatory T cells</text>
<text transform="translate(1155.4,84.6) rotate(45)" y="5.4" font-size="15.65">Tem/Effector helper T cells −&gt; Regulatory T cells</text>
<text transform="translate(1155.4,117.9) rotate(45)" y="5.4" font-size="15.65">Tcm/Naive helper T cells −&gt; Regulatory T cells</text>
<text transform="translate(1155.4,151.3) rotate(45)" y="5.4" font-size="15.65">Retinal pigment epithelium −&gt; Regulatory T cells</text>
<text transform="translate(1155.4,184.6) rotate(45)" y="5.4" font-size="15.65">Regulatory T cells −&gt; Regulatory T cells</text>
<text transform="translate(1155.4,218.0) rotate(45)" y="5.4" font-size="15.65">Photoreceptor cells −&gt; Regulatory T cells</text>
<text transform="translate(1155.4,251.4) rotate(45)" y="5.4" font-size="15.65">pDC −&gt; Regulatory T cells</text>
<text transform="translate(1155.4,284.7) rotate(45)" y="5.4" font-size="15.65">Non−classical monocytes −&gt; Regulatory T cells</text>
<text transform="translate(1155.4,318.1) rotate(45)" y="5.4" font-size="15.65">NK cells −&gt; Regulatory T cells</text>
<text transform="translate(1155.4,351.4) rotate(45)" y="5.4" font-size="15.65">Memory B cells −&gt; Regulatory T cells</text>
<text transform="translate(1155.4,384.8) rotate(45)" y="5.4" font-size="15.65">Melanocytes −&gt; Regulatory T cells</text>
<text transform="translate(1155.4,418.2) rotate(45)" y="5.4" font-size="15.65">Macrophages −&gt; Regulatory T cells</text>
<text transform="translate(1155.4,451.5) rotate(45)" y="5.4" font-size="15.65">Fibroblasts −&gt; Regulatory T cells</text>
<text transform="translate(1155.4,484.9) rotate(45)" y="5.4" font-size="15.65">DC2 −&gt; Regulatory T cells</text>
<text transform="translate(1155.4,518.2) rotate(45)" y="5.4" font-size="15.65">DC1 −&gt; Regulatory T cells</text>
<text transform="translate(1155.4,551.6) rotate(45)" y="5.4" font-size="15.65">CD16+ NK cells −&gt; Regulatory T cells</text>
<text transform="translate(1155.4,585.0) rotate(45)" y="5.4" font-size="15.65">CD16− NK cells −&gt; Regulatory T cells</text>
<text transform="translate(182.0,34.6)" font-size="20.92" font-weight="bold">Significant interactions (Ligand-Receptor pairs) from sender cells to Treg cells</text>
<text transform="translate(1.7,20.2)" font-size="32" font-weight="bold" fill="#000">a</text>
<text transform="translate(1399.5,509.5)" font-size="15.4">Commun. Prob.</text>
<defs><linearGradient id="spec" x1="0" y1="0" x2="0" y2="1"><stop offset="0" stop-color="#A51C4C"/><stop offset="0.1" stop-color="#D2404E"/><stop offset="0.22" stop-color="#EC6E48"/><stop offset="0.34" stop-color="#F0A45E"/><stop offset="0.45" stop-color="#F0D880"/><stop offset="0.55" stop-color="#E0F58C"/><stop offset="0.66" stop-color="#ACE09C"/><stop offset="0.78" stop-color="#70C8A6"/><stop offset="0.9" stop-color="#4596B8"/><stop offset="1" stop-color="#5E55A6"/></linearGradient></defs>
<rect x="1410.4" y="522.4" width="18.5" height="141" fill="url(#spec)"/>
<text transform="translate(1436.6,529.8)" font-size="15.4">max</text>
<text transform="translate(1436.6,660.0)" font-size="15.4">min</text>
<text x="1417" y="687.3" font-size="15.4"><tspan font-style="italic">P</tspan>−value</text>
<circle cx="1417.8" cy="707.9" r="3.9" fill="#000"/>
<text x="1428.9" y="712.4" font-size="15.5">0.01 &lt; <tspan font-style="italic">P</tspan> &lt; 0.05</text>
<circle cx="1417.8" cy="733.5" r="5.8" fill="#000"/>
<text x="1429.6" y="737.6" font-size="15.5"><tspan font-style="italic">P</tspan> &lt; 0.01</text>
</g>
<g id="gen_net">
<g fill="none" stroke-linecap="round"><path d="M1820.1 524.9Q1761.3 495.2 1742.4 447.4" stroke="#E8D867" stroke-width="0.9"/><path d="M1737.1 390.9Q1804.9 317.5 1889.8 309.1" stroke="#8BC9ED" stroke-width="0.9"/><path d="M1820.1 299.9Q1804.5 316.8 1796.0 317.6" stroke="#FAA9D3" stroke-width="0.95"/><path d="M1737.1 433.9Q1773.0 461.4 1778.8 491.5" stroke="#5B6599" stroke-width="1.0"/><path d="M1820.1 299.9Q1920.1 350.5 1955.9 441.2" stroke="#FAA9D3" stroke-width="0.95"/><path d="M1781.6 319.0Q1840.8 290.0 1890.3 303.8" stroke="#D1BCDC" stroke-width="0.9"/><path d="M1820.1 299.9Q1819.4 399.7 1762.3 463.2" stroke="#FAA9D3" stroke-width="0.95"/><path d="M1938.6 491.2Q1886.5 406.0 1901.7 321.9" stroke="#B4537E" stroke-width="0.9"/><path d="M1904.3 517.1Q1863.6 537.0 1834.1 528.8" stroke="#EF6DAF" stroke-width="0.9"/><path d="M1862.9 528.9Q1797.3 522.4 1762.5 484.6" stroke="#FCBABA" stroke-width="0.9"/><path d="M1820.1 524.9Q1798.0 402.3 1855.3 308.3" stroke="#E8D867" stroke-width="0.9"/><path d="M1820.1 299.9Q1885.0 406.2 1865.5 514.6" stroke="#FAA9D3" stroke-width="0.95"/><path d="M1752.6 350.8Q1776.7 312.5 1806.2 303.9" stroke="#C28C6D" stroke-width="0.9"/><path d="M1938.6 491.2Q1863.6 407.9 1863.0 310.4" stroke="#B4537E" stroke-width="0.9"/><path d="M1904.3 307.7Q1844.7 402.5 1751.0 429.8" stroke="#B987C0" stroke-width="0.9"/><path d="M1737.1 433.9Q1737.5 368.0 1771.9 329.8" stroke="#5B6599" stroke-width="1.0"/><path d="M1938.6 333.6Q1856.9 422.0 1751.5 432.5" stroke="#86C984" stroke-width="0.9"/><path d="M1862.9 528.9Q1798.0 422.5 1817.5 314.1" stroke="#FCBABA" stroke-width="0.9"/><path d="M1938.6 333.6Q1916.5 327.1 1912.0 319.9" stroke="#86C984" stroke-width="0.9"/><path d="M1820.1 299.9Q1903.4 392.5 1904.2 502.6" stroke="#FAA9D3" stroke-width="0.95"/><path d="M1737.1 433.9Q1795.9 463.6 1814.8 511.4" stroke="#5B6599" stroke-width="1.0"/><path d="M1862.9 295.9Q1826.6 322.9 1796.0 320.3" stroke="#F6B654" stroke-width="0.9"/><path d="M1752.6 350.8Q1760.6 395.3 1744.6 421.5" stroke="#C28C6D" stroke-width="0.9"/><path d="M1904.3 307.7Q1845.1 336.7 1795.6 322.9" stroke="#B987C0" stroke-width="0.9"/><path d="M1737.1 433.9Q1837.0 359.4 1946.8 368.9" stroke="#5B6599" stroke-width="1.0"/><path d="M1961.2 370.1Q1920.9 349.7 1909.6 321.2" stroke="#77A7CF" stroke-width="0.9"/><path d="M1904.3 307.7Q1860.0 419.6 1765.6 467.4" stroke="#B987C0" stroke-width="0.9"/><path d="M1752.6 474.0Q1753.3 374.1 1810.4 310.6" stroke="#7CC8A5" stroke-width="0.9"/><path d="M1781.6 505.8Q1805.3 383.4 1892.7 316.5" stroke="#CBE9AF" stroke-width="0.9"/><path d="M1862.9 528.9Q1840.7 535.1 1833.1 531.3" stroke="#FCBABA" stroke-width="0.9"/><path d="M1862.9 295.9Q1942.2 356.6 1958.4 440.4" stroke="#F6B654" stroke-width="0.9"/><path d="M1969.1 412.4Q1873.2 384.4 1827.8 312.1" stroke="#ED6365" stroke-width="0.9"/><path d="M1862.9 295.9Q1937.8 379.2 1938.5 476.7" stroke="#F6B654" stroke-width="0.9"/><path d="M1862.9 295.9Q1907.2 412.4 1868.0 515.3" stroke="#F6B654" stroke-width="0.9"/><path d="M1862.9 295.9Q1842.2 306.0 1834.1 303.7" stroke="#F6B654" stroke-width="0.9"/><path d="M1737.1 390.9Q1745.3 412.4 1742.2 420.3" stroke="#8BC9ED" stroke-width="0.9"/><path d="M1820.1 299.9Q1840.0 410.1 1789.1 493.4" stroke="#FAA9D3" stroke-width="0.95"/><path d="M1862.9 295.9Q1938.1 334.0 1963.8 398.9" stroke="#F6B654" stroke-width="0.9"/><path d="M1781.6 319.0Q1797.2 302.1 1805.7 301.3" stroke="#D1BCDC" stroke-width="0.9"/><path d="M1752.6 474.0Q1773.9 364.0 1851.4 304.7" stroke="#7CC8A5" stroke-width="0.9"/><path d="M1781.6 319.0Q1781.2 384.9 1746.8 423.1" stroke="#D1BCDC" stroke-width="0.9"/><path d="M1737.1 433.9Q1836.5 443.8 1894.4 506.5" stroke="#5B6599" stroke-width="1.0"/><path d="M1752.6 474.0Q1737.2 456.9 1737.2 448.4" stroke="#7CC8A5" stroke-width="0.9"/><path d="M1820.1 299.9Q1885.7 294.2 1926.9 324.9" stroke="#FAA9D3" stroke-width="0.95"/><path d="M1969.1 412.4Q1916.8 372.4 1907.0 321.9" stroke="#ED6365" stroke-width="0.9"/><path d="M1961.2 454.7Q1881.9 394.0 1865.7 310.1" stroke="#79E3E3" stroke-width="0.9"/><path d="M1820.1 299.9Q1904.0 308.2 1951.4 359.5" stroke="#FAA9D3" stroke-width="0.95"/><path d="M1820.1 299.9Q1916.0 327.8 1961.4 400.1" stroke="#FAA9D3" stroke-width="0.95"/><path d="M1961.2 454.7Q1904.8 392.0 1904.3 322.2" stroke="#79E3E3" stroke-width="0.9"/><path d="M1862.9 295.9Q1841.6 405.9 1764.1 465.2" stroke="#F6B654" stroke-width="0.9"/><path d="M1938.6 333.6Q1893.6 329.1 1872.7 306.6" stroke="#86C984" stroke-width="0.9"/><path d="M1752.6 350.8Q1797.3 302.4 1848.5 297.3" stroke="#C28C6D" stroke-width="0.9"/><path d="M1862.9 295.9Q1926.2 314.3 1953.5 357.9" stroke="#F6B654" stroke-width="0.9"/><path d="M1862.9 528.9Q1781.9 505.3 1744.8 446.2" stroke="#FCBABA" stroke-width="0.9"/><path d="M1781.6 319.0Q1817.8 292.0 1848.4 294.7" stroke="#D1BCDC" stroke-width="0.9"/><path d="M1904.3 307.7Q1960.7 370.3 1961.1 440.2" stroke="#B987C0" stroke-width="0.9"/><path d="M1961.2 454.7Q1904.0 516.6 1834.5 523.5" stroke="#79E3E3" stroke-width="1.6"/><path d="M1781.6 505.8Q1761.7 395.5 1812.5 312.2" stroke="#CBE9AF" stroke-width="0.9"/><path d="M1904.3 307.7Q1836.5 381.0 1751.5 389.5" stroke="#B987C0" stroke-width="0.9"/><path d="M1737.1 390.9Q1781.9 319.5 1849.0 300.0" stroke="#8BC9ED" stroke-width="0.9"/><path d="M1862.9 295.9Q1818.0 367.3 1751.0 386.8" stroke="#F6B654" stroke-width="0.9"/><path d="M1961.2 370.1Q1861.3 444.6 1751.5 435.1" stroke="#77A7CF" stroke-width="0.9"/><path d="M1820.1 299.9Q1840.7 289.7 1848.9 292.0" stroke="#FAA9D3" stroke-width="0.9"/><path d="M1904.3 307.7Q1903.4 432.3 1829.8 514.2" stroke="#B987C0" stroke-width="0.9"/><path d="M1820.1 299.9Q1795.9 361.2 1750.0 384.4" stroke="#FAA9D3" stroke-width="0.95"/><path d="M1904.3 307.7Q1881.3 309.6 1874.5 304.6" stroke="#B987C0" stroke-width="0.9"/><path d="M1781.6 505.8Q1782.4 385.4 1853.2 306.7" stroke="#CBE9AF" stroke-width="0.9"/><path d="M1862.9 295.9Q1907.9 300.4 1928.7 322.9" stroke="#F6B654" stroke-width="0.9"/><path d="M1737.1 433.9Q1796.7 339.0 1890.3 311.7" stroke="#5B6599" stroke-width="0.9"/><path d="M1904.3 307.7Q1944.1 412.4 1909.4 503.6" stroke="#B987C0" stroke-width="0.9"/><path d="M1781.6 505.8Q1745.7 478.3 1739.8 448.1" stroke="#CBE9AF" stroke-width="0.9"/><path d="M1862.9 528.9Q1893.9 450.5 1956.2 418.9" stroke="#FCBABA" stroke-width="0.9"/><path d="M1904.3 517.1Q1820.9 424.5 1820.2 314.4" stroke="#EF6DAF" stroke-width="0.9"/><path d="M1737.1 433.9Q1729.1 389.4 1745.1 363.2" stroke="#5B6599" stroke-width="1.0"/><path d="M1820.1 524.9Q1777.3 412.4 1814.9 313.4" stroke="#E8D867" stroke-width="0.9"/><path d="M1904.3 307.7Q1956.6 347.7 1966.3 398.2" stroke="#B987C0" stroke-width="0.9"/><path d="M1862.9 528.9Q1863.6 416.9 1928.9 344.4" stroke="#FCBABA" stroke-width="0.9"/><path d="M1737.1 433.9Q1849.0 379.1 1955.1 408.5" stroke="#5B6599" stroke-width="1.0"/><path d="M1904.3 517.1Q1841.5 414.4 1860.3 310.2" stroke="#EF6DAF" stroke-width="0.9"/><path d="M1904.3 307.7Q1956.3 392.9 1941.1 477.0" stroke="#B987C0" stroke-width="0.9"/><path d="M1904.3 517.1Q1804.9 507.3 1746.9 444.6" stroke="#EF6DAF" stroke-width="0.9"/><path d="M1820.1 524.9Q1877.3 463.0 1946.8 456.1" stroke="#E8D867" stroke-width="1.0"/><path d="M1752.6 350.8Q1820.2 300.4 1889.8 306.4" stroke="#C28C6D" stroke-width="0.9"/><path d="M1961.2 454.7Q1845.2 486.9 1750.1 440.3" stroke="#79E3E3" stroke-width="0.9"/><path d="M1820.1 299.9Q1915.7 373.0 1935.8 477.0" stroke="#FAA9D3" stroke-width="0.95"/><path d="M1961.2 370.1Q1877.3 361.8 1829.9 310.5" stroke="#77A7CF" stroke-width="0.9"/><path d="M1904.3 307.7Q1860.7 319.8 1833.1 306.2" stroke="#B987C0" stroke-width="0.9"/><path d="M1820.1 524.9Q1820.9 400.3 1894.6 318.4" stroke="#E8D867" stroke-width="0.9"/><path d="M1862.9 295.9Q1826.2 388.8 1750.0 427.4" stroke="#F6B654" stroke-width="0.9"/><path d="M1938.6 491.2Q1843.0 418.1 1822.8 314.1" stroke="#B4537E" stroke-width="0.9"/><path d="M1737.1 433.9Q1818.0 457.5 1855.2 516.6" stroke="#5B6599" stroke-width="1.0"/><path d="M1820.1 524.9Q1797.2 522.7 1791.4 516.4" stroke="#E8D867" stroke-width="1.0"/><path d="M1904.3 517.1Q1864.5 412.4 1899.1 321.2" stroke="#EF6DAF" stroke-width="0.9"/><path d="M1862.9 528.9Q1893.6 495.7 1924.1 492.7" stroke="#FCBABA" stroke-width="0.9"/><path d="M1862.9 295.9Q1925.6 398.7 1906.8 502.9" stroke="#F6B654" stroke-width="0.9"/><path d="M1904.3 307.7Q1926.3 314.1 1930.9 321.3" stroke="#B987C0" stroke-width="0.9"/><path d="M1737.1 433.9Q1853.1 401.7 1948.2 448.3" stroke="#5B6599" stroke-width="1.0"/><path d="M1904.3 517.1Q1885.8 530.9 1877.3 530.1" stroke="#EF6DAF" stroke-width="0.9"/><path d="M1737.1 433.9Q1773.8 341.0 1850.0 302.4" stroke="#5B6599" stroke-width="0.9"/><path d="M1820.1 524.9Q1776.7 512.3 1760.3 486.3" stroke="#E8D867" stroke-width="0.9"/><path d="M1862.9 528.9Q1817.8 532.8 1793.2 514.4" stroke="#FCBABA" stroke-width="0.9"/><path d="M1752.6 474.0Q1796.8 362.0 1891.3 314.2" stroke="#7CC8A5" stroke-width="0.9"/><path d="M1961.2 370.1Q1897.9 351.7 1870.6 308.2" stroke="#77A7CF" stroke-width="0.9"/><path d="M1737.1 433.9Q1848.7 424.3 1926.9 482.6" stroke="#5B6599" stroke-width="1.0"/><path d="M1904.3 307.7Q1880.6 430.0 1793.1 497.0" stroke="#B987C0" stroke-width="0.9"/><path d="M1820.1 299.9Q1804.1 382.7 1748.6 425.1" stroke="#FAA9D3" stroke-width="0.9"/><path d="M1938.6 333.6Q1872.9 339.2 1831.7 308.5" stroke="#86C984" stroke-width="0.9"/><path d="M1904.3 307.7Q1925.6 426.1 1870.4 516.5" stroke="#B987C0" stroke-width="0.9"/><path d="M1820.1 299.9Q1862.8 412.4 1825.2 511.4" stroke="#FAA9D3" stroke-width="0.95"/><path d="M1969.1 412.4Q1893.9 374.3 1868.2 309.4" stroke="#ED6365" stroke-width="0.9"/><path d="M1961.2 454.7Q1956.8 477.2 1950.1 482.4" stroke="#79E3E3" stroke-width="1.0"/><path d="M1862.9 528.9Q1897.9 473.1 1947.3 458.7" stroke="#FCBABA" stroke-width="0.9"/><path d="M1961.2 454.7Q1926.2 510.5 1876.8 524.8" stroke="#79E3E3" stroke-width="1.2"/><path d="M1862.9 295.9Q1885.0 418.6 1827.6 512.6" stroke="#F6B654" stroke-width="0.9"/><path d="M1862.9 528.9Q1881.9 430.8 1949.7 378.9" stroke="#FCBABA" stroke-width="0.9"/><path d="M1862.9 528.9Q1782.4 439.4 1781.7 333.5" stroke="#FCBABA" stroke-width="0.9"/><path d="M1737.1 390.9Q1761.3 329.6 1807.1 306.4" stroke="#8BC9ED" stroke-width="0.9"/><path d="M1820.1 299.9Q1863.6 287.8 1891.2 301.3" stroke="#FAA9D3" stroke-width="0.9"/><path d="M1862.9 295.9Q1862.1 416.3 1791.3 495.0" stroke="#F6B654" stroke-width="0.9"/><path d="M1820.1 299.9Q1796.0 338.2 1766.5 346.7" stroke="#FAA9D3" stroke-width="0.95"/><path d="M1862.9 528.9Q1841.5 410.4 1896.7 320.0" stroke="#FCBABA" stroke-width="0.9"/><path d="M1862.9 528.9Q1881.3 515.2 1889.8 515.9" stroke="#FCBABA" stroke-width="0.9"/><path d="M1737.1 433.9Q1752.5 451.0 1752.5 459.5" stroke="#5B6599" stroke-width="1.0"/><path d="M1862.9 295.9Q1818.2 344.3 1767.1 349.4" stroke="#F6B654" stroke-width="0.9"/><path d="M1737.1 433.9Q1728.9 412.4 1731.9 404.5" stroke="#5B6599" stroke-width="1.0"/><path d="M1820.1 524.9Q1872.9 485.6 1924.1 490.0" stroke="#E8D867" stroke-width="0.9"/><path d="M1904.3 307.7Q1944.6 328.1 1955.9 356.6" stroke="#B987C0" stroke-width="0.9"/><path d="M1862.9 528.9Q1818.6 412.4 1857.7 309.5" stroke="#FCBABA" stroke-width="0.9"/><path d="M1938.6 491.2Q1826.9 500.8 1748.7 442.6" stroke="#B4537E" stroke-width="0.9"/><path d="M1737.1 433.9Q1818.8 345.5 1924.1 335.0" stroke="#5B6599" stroke-width="1.0"/><path d="M1862.9 528.9Q1773.9 460.8 1755.4 365.0" stroke="#FCBABA" stroke-width="0.9"/><path d="M1969.1 412.4Q1857.2 467.2 1751.1 437.8" stroke="#ED6365" stroke-width="0.9"/><path d="M1862.9 295.9Q1885.8 293.9 1892.6 299.0" stroke="#F6B654" stroke-width="0.9"/><path d="M1862.9 528.9Q1773.8 483.8 1742.4 404.4" stroke="#FCBABA" stroke-width="0.9"/><path d="M1904.3 307.7Q1836.6 358.0 1767.1 352.1" stroke="#B987C0" stroke-width="0.9"/><path d="M1737.1 433.9Q1753.1 351.1 1808.6 308.7" stroke="#5B6599" stroke-width="2.2"/><path d="M1961.2 454.7Q1861.2 404.1 1825.4 313.4" stroke="#79E3E3" stroke-width="0.9"/></g>
<g><path d="M1740.0 441.3L1744.8 446.4L1740.0 448.3Z" fill="#E8D867"/><path d="M1896.3 308.5L1890.1 311.7L1889.6 306.5Z" fill="#8BC9ED"/><path d="M1789.6 318.2L1795.8 315.0L1796.3 320.2Z" fill="#FAA9D3"/><path d="M1780.1 497.9L1776.3 492.0L1781.4 491.0Z" fill="#5B6599"/><path d="M1958.3 447.2L1953.5 442.1L1958.3 440.2Z" fill="#FAA9D3"/><path d="M1896.5 305.5L1889.6 306.3L1891.0 301.3Z" fill="#D1BCDC"/><path d="M1758.0 468.0L1760.4 461.5L1764.3 465.0Z" fill="#FAA9D3"/><path d="M1902.8 315.5L1904.2 322.4L1899.1 321.5Z" fill="#B4537E"/><path d="M1827.8 527.1L1834.7 526.3L1833.4 531.3Z" fill="#EF6DAF"/><path d="M1758.1 479.9L1764.4 482.9L1760.6 486.4Z" fill="#FCBABA"/><path d="M1858.7 302.7L1857.6 309.6L1853.1 306.9Z" fill="#E8D867"/><path d="M1864.3 521.0L1862.9 514.2L1868.0 515.1Z" fill="#FAA9D3"/><path d="M1812.4 302.1L1806.9 306.4L1805.4 301.4Z" fill="#C28C6D"/><path d="M1862.9 303.9L1865.6 310.4L1860.4 310.4Z" fill="#B4537E"/><path d="M1744.8 431.7L1750.3 427.3L1751.7 432.3Z" fill="#B987C0"/><path d="M1776.2 325.0L1773.8 331.5L1770.0 328.1Z" fill="#5B6599"/><path d="M1745.1 433.1L1751.3 429.9L1751.8 435.1Z" fill="#86C984"/><path d="M1818.7 307.7L1820.1 314.6L1815.0 313.7Z" fill="#FCBABA"/><path d="M1908.5 314.4L1914.2 318.6L1909.8 321.3Z" fill="#86C984"/><path d="M1904.2 509.1L1901.6 502.7L1906.8 502.6Z" fill="#FAA9D3"/><path d="M1817.1 517.5L1812.3 512.4L1817.2 510.5Z" fill="#5B6599"/><path d="M1789.6 319.7L1796.3 317.7L1795.8 322.9Z" fill="#F6B654"/><path d="M1741.3 427.1L1742.4 420.2L1746.9 422.9Z" fill="#C28C6D"/><path d="M1789.3 321.2L1796.3 320.4L1794.9 325.4Z" fill="#B987C0"/><path d="M1953.2 369.4L1946.5 371.5L1947.0 366.3Z" fill="#5B6599"/><path d="M1907.2 315.1L1912.0 320.2L1907.2 322.1Z" fill="#77A7CF"/><path d="M1759.8 470.4L1764.4 465.1L1766.7 469.8Z" fill="#B987C0"/><path d="M1814.7 305.8L1812.3 312.4L1808.4 308.9Z" fill="#7CC8A5"/><path d="M1897.9 312.5L1894.3 318.5L1891.2 314.4Z" fill="#CBE9AF"/><path d="M1827.3 528.5L1834.2 529.0L1832.0 533.6Z" fill="#FCBABA"/><path d="M1959.7 446.8L1955.9 440.9L1961.0 439.9Z" fill="#F6B654"/><path d="M1824.3 306.6L1830.0 310.8L1825.6 313.5Z" fill="#ED6365"/><path d="M1938.5 483.2L1935.9 476.7L1941.1 476.7Z" fill="#F6B654"/><path d="M1865.7 521.4L1865.6 514.4L1870.5 516.3Z" fill="#F6B654"/><path d="M1827.8 302.0L1834.7 301.2L1833.4 306.2Z" fill="#F6B654"/><path d="M1739.9 426.4L1739.8 419.4L1744.7 421.3Z" fill="#8BC9ED"/><path d="M1785.8 498.9L1786.9 492.0L1791.4 494.7Z" fill="#FAA9D3"/><path d="M1966.2 405.0L1961.4 399.9L1966.2 398.0Z" fill="#F6B654"/><path d="M1812.1 300.7L1805.9 303.9L1805.4 298.7Z" fill="#D1BCDC"/><path d="M1856.5 300.8L1853.0 306.8L1849.8 302.6Z" fill="#7CC8A5"/><path d="M1742.4 428.0L1744.9 421.4L1748.7 424.9Z" fill="#D1BCDC"/><path d="M1898.8 511.3L1892.5 508.2L1896.3 504.7Z" fill="#5B6599"/><path d="M1737.1 441.9L1739.8 448.4L1734.6 448.4Z" fill="#7CC8A5"/><path d="M1932.1 328.8L1925.4 327.0L1928.5 322.8Z" fill="#FAA9D3"/><path d="M1905.8 315.5L1909.6 321.4L1904.5 322.4Z" fill="#ED6365"/><path d="M1864.4 303.8L1868.2 309.6L1863.1 310.6Z" fill="#79E3E3"/><path d="M1955.8 364.3L1949.5 361.2L1953.3 357.7Z" fill="#FAA9D3"/><path d="M1964.8 405.6L1959.2 401.5L1963.6 398.7Z" fill="#FAA9D3"/><path d="M1904.3 315.7L1906.9 322.1L1901.7 322.2Z" fill="#79E3E3"/><path d="M1759.0 469.1L1762.6 463.1L1765.7 467.2Z" fill="#F6B654"/><path d="M1868.3 301.8L1874.6 304.8L1870.8 308.3Z" fill="#86C984"/><path d="M1854.9 296.7L1848.7 299.9L1848.2 294.7Z" fill="#C28C6D"/><path d="M1956.9 363.4L1951.3 359.2L1955.7 356.5Z" fill="#F6B654"/><path d="M1741.3 440.7L1747.0 444.8L1742.6 447.6Z" fill="#FCBABA"/><path d="M1854.9 295.2L1848.2 297.2L1848.7 292.1Z" fill="#D1BCDC"/><path d="M1961.1 446.7L1958.5 440.2L1963.7 440.1Z" fill="#B987C0"/><path d="M1828.0 524.1L1834.3 520.9L1834.8 526.1Z" fill="#79E3E3"/><path d="M1815.9 306.7L1814.7 313.6L1810.3 310.9Z" fill="#CBE9AF"/><path d="M1745.1 390.1L1751.3 386.9L1751.8 392.1Z" fill="#B987C0"/><path d="M1855.2 298.1L1849.7 302.5L1848.2 297.5Z" fill="#8BC9ED"/><path d="M1744.8 388.7L1750.3 384.3L1751.7 389.3Z" fill="#F6B654"/><path d="M1745.1 434.6L1751.8 432.6L1751.3 437.7Z" fill="#77A7CF"/><path d="M1855.2 293.8L1848.2 294.5L1849.6 289.5Z" fill="#FAA9D3"/><path d="M1825.4 519.0L1827.8 512.4L1831.7 515.9Z" fill="#B987C0"/><path d="M1744.2 387.3L1748.9 382.0L1751.2 386.7Z" fill="#FAA9D3"/><path d="M1869.3 300.7L1876.1 302.5L1873.0 306.6Z" fill="#B987C0"/><path d="M1857.5 301.8L1855.1 308.4L1851.3 304.9Z" fill="#CBE9AF"/><path d="M1933.1 327.7L1926.8 324.7L1930.6 321.2Z" fill="#F6B654"/><path d="M1896.6 309.9L1891.1 314.2L1889.6 309.2Z" fill="#5B6599"/><path d="M1907.1 509.7L1907.0 502.7L1911.8 504.5Z" fill="#B987C0"/><path d="M1738.6 441.8L1742.4 447.6L1737.3 448.6Z" fill="#CBE9AF"/><path d="M1962.0 416.0L1957.3 421.3L1955.0 416.6Z" fill="#FCBABA"/><path d="M1820.1 307.9L1822.8 314.3L1817.6 314.4Z" fill="#EF6DAF"/><path d="M1748.5 357.6L1747.3 364.5L1742.9 361.8Z" fill="#5B6599"/><path d="M1817.2 307.3L1817.4 314.3L1812.5 312.5Z" fill="#E8D867"/><path d="M1967.6 404.5L1963.8 398.7L1968.9 397.7Z" fill="#B987C0"/><path d="M1933.2 339.5L1930.8 346.1L1926.9 342.6Z" fill="#FCBABA"/><path d="M1961.4 410.3L1954.4 411.0L1955.8 406.0Z" fill="#5B6599"/><path d="M1861.5 303.8L1862.9 310.6L1857.8 309.7Z" fill="#EF6DAF"/><path d="M1940.0 483.3L1938.6 476.5L1943.7 477.4Z" fill="#B987C0"/><path d="M1742.5 439.8L1748.8 442.8L1745.0 446.3Z" fill="#EF6DAF"/><path d="M1953.2 455.5L1947.0 458.7L1946.5 453.5Z" fill="#E8D867"/><path d="M1896.3 307.0L1889.6 309.0L1890.0 303.8Z" fill="#C28C6D"/><path d="M1744.3 437.4L1751.3 437.9L1749.0 442.6Z" fill="#79E3E3"/><path d="M1937.0 483.4L1933.3 477.5L1938.4 476.5Z" fill="#FAA9D3"/><path d="M1825.5 305.7L1831.8 308.8L1828.0 312.3Z" fill="#77A7CF"/><path d="M1827.3 303.4L1834.2 303.9L1832.0 308.6Z" fill="#B987C0"/><path d="M1898.9 313.6L1896.5 320.2L1892.6 316.7Z" fill="#E8D867"/><path d="M1744.2 430.3L1748.9 425.0L1751.2 429.7Z" fill="#F6B654"/><path d="M1821.6 307.7L1825.4 313.6L1820.3 314.6Z" fill="#B4537E"/><path d="M1858.6 522.1L1853.0 518.0L1857.4 515.2Z" fill="#5B6599"/><path d="M1787.0 511.6L1793.3 514.7L1789.5 518.2Z" fill="#E8D867"/><path d="M1901.4 315.1L1901.5 322.1L1896.7 320.3Z" fill="#EF6DAF"/><path d="M1930.6 492.0L1924.4 495.2L1923.9 490.1Z" fill="#FCBABA"/><path d="M1905.7 509.3L1904.3 502.4L1909.4 503.3Z" fill="#F6B654"/><path d="M1934.3 326.8L1928.6 322.7L1933.1 319.9Z" fill="#B987C0"/><path d="M1954.0 451.1L1947.0 450.6L1949.3 446.0Z" fill="#5B6599"/><path d="M1870.9 529.6L1877.6 527.6L1877.1 532.7Z" fill="#EF6DAF"/><path d="M1855.8 299.5L1851.1 304.8L1848.8 300.1Z" fill="#5B6599"/><path d="M1756.9 480.8L1762.5 484.9L1758.1 487.7Z" fill="#E8D867"/><path d="M1788.0 510.5L1794.8 512.3L1791.7 516.5Z" fill="#FCBABA"/><path d="M1897.1 311.3L1892.5 316.5L1890.1 311.9Z" fill="#7CC8A5"/><path d="M1867.2 302.7L1872.8 306.8L1868.4 309.6Z" fill="#77A7CF"/><path d="M1932.1 486.4L1925.4 484.6L1928.5 480.5Z" fill="#5B6599"/><path d="M1787.9 500.9L1791.5 494.9L1794.7 499.0Z" fill="#B987C0"/><path d="M1743.4 429.0L1747.0 423.0L1750.2 427.2Z" fill="#FAA9D3"/><path d="M1826.5 304.6L1833.3 306.4L1830.2 310.6Z" fill="#86C984"/><path d="M1867.1 522.1L1868.2 515.2L1872.7 517.9Z" fill="#B987C0"/><path d="M1822.9 517.5L1822.8 510.5L1827.7 512.3Z" fill="#FAA9D3"/><path d="M1865.8 303.3L1870.6 308.4L1865.8 310.3Z" fill="#ED6365"/><path d="M1944.9 486.4L1948.5 480.3L1951.7 484.5Z" fill="#79E3E3"/><path d="M1953.5 456.9L1948.0 461.2L1946.6 456.2Z" fill="#FCBABA"/><path d="M1870.6 526.7L1876.1 522.3L1877.5 527.3Z" fill="#79E3E3"/><path d="M1824.2 518.1L1825.4 511.2L1829.9 513.9Z" fill="#F6B654"/><path d="M1954.8 375.0L1951.3 381.0L1948.1 376.9Z" fill="#FCBABA"/><path d="M1781.6 327.0L1784.3 333.5L1779.1 333.5Z" fill="#FCBABA"/><path d="M1812.9 303.5L1808.3 308.7L1806.0 304.1Z" fill="#8BC9ED"/><path d="M1897.1 304.1L1890.1 303.6L1892.4 299.0Z" fill="#FAA9D3"/><path d="M1786.9 499.8L1789.4 493.3L1793.2 496.7Z" fill="#F6B654"/><path d="M1760.3 348.6L1765.8 344.3L1767.3 349.2Z" fill="#FAA9D3"/><path d="M1900.1 314.5L1898.9 321.4L1894.5 318.7Z" fill="#FCBABA"/><path d="M1896.3 516.4L1889.6 518.5L1890.0 513.3Z" fill="#FCBABA"/><path d="M1752.6 466.0L1749.9 459.5L1755.1 459.5Z" fill="#5B6599"/><path d="M1760.6 350.0L1766.8 346.8L1767.3 352.0Z" fill="#F6B654"/><path d="M1734.3 398.4L1734.4 405.4L1729.5 403.5Z" fill="#5B6599"/><path d="M1930.6 490.5L1923.9 492.6L1924.3 487.4Z" fill="#E8D867"/><path d="M1958.3 362.7L1953.5 357.6L1958.3 355.7Z" fill="#B987C0"/><path d="M1860.1 303.4L1860.2 310.4L1855.3 308.5Z" fill="#FCBABA"/><path d="M1743.5 438.7L1750.3 440.5L1747.2 444.6Z" fill="#B4537E"/><path d="M1930.6 334.4L1924.4 337.6L1923.9 332.4Z" fill="#5B6599"/><path d="M1754.1 358.7L1757.9 364.5L1752.8 365.5Z" fill="#FCBABA"/><path d="M1744.8 436.0L1751.8 435.3L1750.4 440.3Z" fill="#ED6365"/><path d="M1897.8 302.9L1891.1 301.1L1894.2 296.9Z" fill="#F6B654"/><path d="M1740.0 398.3L1744.8 403.4L1740.0 405.3Z" fill="#FCBABA"/><path d="M1760.6 351.5L1767.3 349.5L1766.8 354.6Z" fill="#B987C0"/><path d="M1813.7 304.7L1810.1 310.7L1807.0 306.6Z" fill="#5B6599"/><path d="M1823.0 307.3L1827.8 312.4L1823.0 314.3Z" fill="#79E3E3"/></g>
<ellipse cx="1811.4" cy="275.4" rx="19.5" ry="28" fill="#F3B4D9"/>
<ellipse cx="1812.6" cy="287.4" rx="15" ry="19" fill="#F495CC"/>
<ellipse cx="1814.6" cy="294.4" rx="11" ry="13" fill="#F585C5"/>
<ellipse cx="1864.6" cy="272.4" rx="6.5" ry="18" fill="none" stroke="#E9B94E" stroke-width="1.1"/>
<ellipse cx="1915.1" cy="287.4" rx="6" ry="17.5" fill="none" stroke="#B58CCB" stroke-width="1.1" transform="rotate(27 1915.1 287.4)"/>
<ellipse cx="1768" cy="299.5" rx="6.5" ry="16.5" fill="none" stroke="#C7B5DC" stroke-width="1.1" transform="rotate(-35 1768 299.5)"/>
<ellipse cx="1714.6" cy="438.9" rx="17.5" ry="6.5" fill="none" stroke="#6E76A6" stroke-width="1.2" transform="rotate(-12 1714.6 438.9)"/>
<ellipse cx="1983.6" cy="463.4" rx="19" ry="7" fill="none" stroke="#66E1E3" stroke-width="1.6" transform="rotate(20 1983.6 463.4)"/>
<circle cx="1969.1" cy="412.4" r="7.0" fill="#E41A1C"/>
<circle cx="1961.2" cy="370.1" r="7.0" fill="#377EB8"/>
<circle cx="1938.6" cy="333.6" r="7.0" fill="#4DAF4A"/>
<circle cx="1904.3" cy="307.7" r="7.0" fill="#984EA3"/>
<circle cx="1862.9" cy="295.9" r="7.0" fill="#F29403"/>
<circle cx="1781.6" cy="319.0" r="7.0" fill="#BC9DCC"/>
<circle cx="1752.6" cy="350.8" r="7.0" fill="#A65628"/>
<circle cx="1737.1" cy="390.9" r="7.0" fill="#54B0E4"/>
<circle cx="1737.1" cy="433.9" r="7.0" fill="#222F75"/>
<circle cx="1752.6" cy="474.0" r="7.0" fill="#3FAE7A"/>
<circle cx="1781.6" cy="505.8" r="7.0" fill="#B2DF8A"/>
<circle cx="1820.1" cy="524.9" r="7.0" fill="#DDC520"/>
<circle cx="1862.9" cy="528.9" r="7.0" fill="#FB9A99"/>
<circle cx="1904.3" cy="517.1" r="7.0" fill="#E7298A"/>
<circle cx="1938.6" cy="491.2" r="7.0" fill="#910241"/>
<circle cx="1961.2" cy="454.7" r="7.0" fill="#3AD6D6"/>
<circle cx="1820.1" cy="299.9" r="7.0" fill="#F781BF"/>
<text transform="translate(1976.9,415.2)" font-size="18.15">CD16− NK cells</text>
<text transform="translate(1970.6,369.2)" font-size="18.15">CD16+ NK cells</text>
<text transform="translate(1941.2,322.3)" font-size="18.15">DC1</text>
<text transform="translate(1902.1,288.6)" font-size="18.15">DC2</text>
<text transform="translate(1831.5,248.3)" font-size="18.15">Fibroblasts</text>
<text transform="translate(1686.4,247.9)" font-size="18.15">Macrophages</text>
<text transform="translate(1643.2,298.9)" font-size="18.15">Melanocytes</text>
<text transform="translate(1616.6,356.7)" font-size="18.15">Memory B cells</text>
<text transform="translate(1654.2,394.9)" font-size="18.15">NK cells</text>
<text transform="translate(1511.3,444.0)" font-size="18.15">Non−classical monocytes</text>
<text transform="translate(1700.1,492.8)" font-size="18.15">pDC</text>
<text transform="translate(1617.3,527.8)" font-size="18.15">Photoreceptor cells</text>
<text transform="translate(1695.4,562.8)" font-size="18.15">Regulatory T cells</text>
<text transform="translate(1855.2,567.5)" font-size="18.15">Retinal pigment epithelium</text>
<text transform="translate(1914.3,537.2)" font-size="18.15">Tcm/Naive helper T cells</text>
<text transform="translate(1947.2,503.7)" font-size="18.15">Tem/Effector helper T cells</text>
<text transform="translate(1961.5,468.4)" font-size="18.15">Tem/Trm cytotoxic T cells</text>
<text transform="translate(1708.9,130.0)" font-size="20.87" font-weight="bold">IL-1 signaling pathway network</text>
</g>
<g id="gen_b1">
<text transform="translate(3.6,982.1)" font-size="32" font-weight="bold" fill="#000">b</text>
<rect x="60.5" y="971.8" width="181" height="62.2" fill="#F1DACB"/>
<text transform="translate(151.0,1009.2)" font-size="20.8" text-anchor="middle" font-weight="bold">Ligand activity</text>
<rect x="105.2" y="1056.3" width="105.1" height="18.3" fill="#E8962E"/>
<text transform="translate(100.6,1069.8) scale(1.06,1)" font-size="16.8" text-anchor="end">TNF</text>
<rect x="105.2" y="1076.8" width="105.1" height="18.3" fill="#E9A84E"/>
<text transform="translate(100.6,1090.3) scale(1.06,1)" font-size="16.8" text-anchor="end">OSM</text>
<rect x="105.2" y="1097.4" width="105.1" height="18.3" fill="#E8962E"/>
<text transform="translate(100.6,1110.8) scale(1.06,1)" font-size="16.8" text-anchor="end">IL1B</text>
<rect x="105.2" y="1117.9" width="105.1" height="18.3" fill="#F0D2A8"/>
<text transform="translate(100.6,1131.4) scale(1.06,1)" font-size="16.8" text-anchor="end">LGALS3</text>
<rect x="105.2" y="1138.4" width="105.1" height="18.3" fill="#F0D4AC"/>
<text transform="translate(100.6,1151.9) scale(1.06,1)" font-size="16.8" text-anchor="end">CCL4</text>
<rect x="105.2" y="1159.0" width="105.1" height="18.3" fill="#EDBE7C"/>
<text transform="translate(100.6,1172.4) scale(1.06,1)" font-size="16.8" text-anchor="end">IL10</text>
<rect x="105.2" y="1179.5" width="105.1" height="18.3" fill="#F0CD9C"/>
<text transform="translate(100.6,1192.9) scale(1.06,1)" font-size="16.8" text-anchor="end">BTLA</text>
<rect x="105.2" y="1200.0" width="105.1" height="18.3" fill="#F5E6D2"/>
<text transform="translate(100.6,1213.5) scale(1.06,1)" font-size="16.8" text-anchor="end">CCL4L2</text>
<rect x="105.2" y="1220.5" width="105.1" height="18.3" fill="#EDBA74"/>
<text transform="translate(100.6,1234.0) scale(1.06,1)" font-size="16.8" text-anchor="end">IL1A</text>
<rect x="105.2" y="1241.1" width="105.1" height="18.3" fill="#F1D4AE"/>
<text transform="translate(100.6,1254.5) scale(1.06,1)" font-size="16.8" text-anchor="end">IL15</text>
<rect x="105.2" y="1261.6" width="105.1" height="18.3" fill="#F5E8D6"/>
<text transform="translate(100.6,1275.1) scale(1.06,1)" font-size="16.8" text-anchor="end">TGFB1</text>
<rect x="105.2" y="1282.1" width="105.1" height="18.3" fill="#F0CE9E"/>
<text transform="translate(100.6,1295.6) scale(1.06,1)" font-size="16.8" text-anchor="end">IL1RN</text>
<rect x="105.2" y="1302.7" width="105.1" height="18.3" fill="#EFC78E"/>
<text transform="translate(100.6,1316.1) scale(1.06,1)" font-size="16.8" text-anchor="end">VCAN</text>
<rect x="105.2" y="1323.2" width="105.1" height="18.3" fill="#F5E8D8"/>
<text transform="translate(100.6,1336.7) scale(1.06,1)" font-size="16.8" text-anchor="end">CD99</text>
<rect x="105.2" y="1343.7" width="105.1" height="18.3" fill="#F1D2A8"/>
<text transform="translate(100.6,1357.2) scale(1.06,1)" font-size="16.8" text-anchor="end">SIRPA</text>
<rect x="105.2" y="1364.2" width="105.1" height="18.3" fill="#F2D8B4"/>
<text transform="translate(100.6,1377.7) scale(1.06,1)" font-size="16.8" text-anchor="end">CCL21</text>
<rect x="105.2" y="1384.8" width="105.1" height="18.3" fill="#FAFAFA"/>
<text transform="translate(100.6,1398.2) scale(1.06,1)" font-size="16.8" text-anchor="end">JAM2</text>
<rect x="105.2" y="1405.3" width="105.1" height="18.3" fill="#F3DEC0"/>
<text transform="translate(100.6,1418.8) scale(1.06,1)" font-size="16.8" text-anchor="end">HLA-DRB5</text>
<rect x="105.2" y="1425.8" width="105.1" height="18.3" fill="#F6ECDE"/>
<text transform="translate(100.6,1439.3) scale(1.06,1)" font-size="16.8" text-anchor="end">PLAT</text>
<rect x="105.2" y="1446.4" width="105.1" height="18.3" fill="#FAFAFC"/>
<text transform="translate(100.6,1459.8) scale(1.06,1)" font-size="16.8" text-anchor="end">CD244</text>
<rect x="105.2" y="1055.2" width="105.1" height="410.6" fill="none" stroke="#111" stroke-width="1.6"/>
<text transform="translate(23.5,1220.5) rotate(-90)" font-size="19.5" text-anchor="middle" font-weight="bold">Prioritized ligands</text>
<text transform="translate(220.0,1151.6)" font-size="17.6">AUPR</text>
<defs><linearGradient id="aupr" x1="0" y1="0" x2="0" y2="1"><stop offset="0" stop-color="#E8952C"/><stop offset="0.5" stop-color="#F1CFA2"/><stop offset="1" stop-color="#FFFFFF"/></linearGradient></defs>
<rect x="216.7" y="1162.4" width="25.3" height="123.6" fill="url(#aupr)"/>
<path d="M216.7 1195.3h5M242 1195.3h-5" stroke="#fff" stroke-width="1"/>
<text transform="translate(246.3,1201.5)" font-size="17.6">0.040</text>
<path d="M216.7 1229h5M242 1229h-5" stroke="#fff" stroke-width="1"/>
<text transform="translate(246.3,1235.2)" font-size="17.6">0.035</text>
<path d="M216.7 1264.9h5M242 1264.9h-5" stroke="#fff" stroke-width="1"/>
<text transform="translate(246.3,1271.1)" font-size="17.6">0.030</text>
</g>
<g id="gen_b2">
<rect x="372.2" y="972.2" width="454.1" height="63" fill="#E8A19B"/>
<text transform="translate(600.5,1009.4)" font-size="20.9" text-anchor="middle" font-weight="bold">Ligand expression in sender cells</text>
<ellipse cx="391.1" cy="1077.0" rx="1.04" ry="0.90" fill="#E6EAC8"/><ellipse cx="416.0" cy="1077.0" rx="1.04" ry="0.90" fill="#D2DCE6"/><ellipse cx="440.9" cy="1077.0" rx="1.04" ry="0.90" fill="#D8E0E6"/><ellipse cx="465.8" cy="1077.0" rx="1.04" ry="0.90" fill="#C6D2DE"/><ellipse cx="490.7" cy="1077.0" rx="1.04" ry="0.90" fill="#C6D2DE"/><ellipse cx="515.6" cy="1077.0" rx="1.19" ry="1.02" fill="#ECDC70"/><ellipse cx="540.5" cy="1077.0" rx="1.04" ry="0.90" fill="#C2D0E0"/><ellipse cx="565.4" cy="1077.0" rx="1.14" ry="0.98" fill="#EEF2BC"/><ellipse cx="590.3" cy="1077.0" rx="1.04" ry="0.90" fill="#C6D2DE"/><ellipse cx="615.2" cy="1077.0" rx="1.04" ry="0.90" fill="#E6EAC8"/><ellipse cx="640.2" cy="1077.0" rx="1.04" ry="0.90" fill="#C2D0E0"/><ellipse cx="665.1" cy="1077.0" rx="2.59" ry="2.23" fill="#DC3C2C"/><ellipse cx="690.0" cy="1077.0" rx="1.04" ry="0.90" fill="#C6D2DE"/><ellipse cx="714.9" cy="1077.0" rx="1.04" ry="0.90" fill="#C2D0E0"/><ellipse cx="739.8" cy="1077.0" rx="1.04" ry="0.90" fill="#D2DCE6"/><ellipse cx="764.7" cy="1077.0" rx="1.04" ry="0.90" fill="#C6D2DE"/><ellipse cx="789.6" cy="1077.0" rx="1.04" ry="0.90" fill="#C6D2DE"/><ellipse cx="814.5" cy="1077.0" rx="1.04" ry="0.90" fill="#D8E0E6"/><ellipse cx="391.1" cy="1096.6" rx="1.04" ry="0.90" fill="#D8E0E6"/><ellipse cx="416.0" cy="1096.6" rx="1.04" ry="0.90" fill="#C6D2DE"/><ellipse cx="440.9" cy="1096.6" rx="1.04" ry="0.90" fill="#D2DCE6"/><ellipse cx="465.8" cy="1096.6" rx="1.04" ry="0.90" fill="#C6D2DE"/><ellipse cx="490.7" cy="1096.6" rx="1.04" ry="0.90" fill="#C2D0E0"/><ellipse cx="515.6" cy="1096.6" rx="1.04" ry="0.90" fill="#D8E0E6"/><ellipse cx="540.5" cy="1096.6" rx="1.04" ry="0.90" fill="#C6D2DE"/><ellipse cx="565.4" cy="1096.6" rx="1.04" ry="0.90" fill="#C2D0E0"/><ellipse cx="590.3" cy="1096.6" rx="1.04" ry="0.90" fill="#C6D2DE"/><ellipse cx="615.2" cy="1096.6" rx="1.04" ry="0.90" fill="#D2DCE6"/><ellipse cx="640.2" cy="1096.6" rx="1.04" ry="0.90" fill="#C2D0E0"/><ellipse cx="665.1" cy="1096.6" rx="1.04" ry="0.90" fill="#C6D2DE"/><ellipse cx="690.0" cy="1096.6" rx="1.04" ry="0.90" fill="#C2D0E0"/><ellipse cx="714.9" cy="1096.6" rx="1.40" ry="1.21" fill="#ECDC70"/><ellipse cx="739.8" cy="1096.6" rx="0.97" ry="0.84" fill="#DC3C2C"/><ellipse cx="764.7" cy="1096.6" rx="2.37" ry="2.05" fill="#DC3C2C"/><ellipse cx="789.6" cy="1096.6" rx="1.04" ry="0.90" fill="#C2D0E0"/><ellipse cx="814.5" cy="1096.6" rx="1.04" ry="0.90" fill="#D8E0E6"/><ellipse cx="391.1" cy="1116.3" rx="1.04" ry="0.90" fill="#C6D2DE"/><ellipse cx="416.0" cy="1116.3" rx="1.04" ry="0.90" fill="#D2DCE6"/><ellipse cx="440.9" cy="1116.3" rx="1.04" ry="0.90" fill="#C6D2DE"/><ellipse cx="465.8" cy="1116.3" rx="1.04" ry="0.90" fill="#C2D0E0"/><ellipse cx="490.7" cy="1116.3" rx="2.05" ry="1.77" fill="#E88040"/><ellipse cx="515.6" cy="1116.3" rx="1.04" ry="0.90" fill="#D2DCE6"/><ellipse cx="540.5" cy="1116.3" rx="1.04" ry="0.90" fill="#E6EAC8"/><ellipse cx="565.4" cy="1116.3" rx="1.04" ry="0.90" fill="#D8E0E6"/><ellipse cx="590.3" cy="1116.3" rx="1.04" ry="0.90" fill="#D2DCE6"/><ellipse cx="615.2" cy="1116.3" rx="1.04" ry="0.90" fill="#C2D0E0"/><ellipse cx="640.2" cy="1116.3" rx="1.04" ry="0.90" fill="#C6D2DE"/><ellipse cx="665.1" cy="1116.3" rx="1.04" ry="0.90" fill="#C2D0E0"/><ellipse cx="690.0" cy="1116.3" rx="1.04" ry="0.90" fill="#E6EAC8"/><ellipse cx="714.9" cy="1116.3" rx="1.04" ry="0.90" fill="#C2D0E0"/><ellipse cx="739.8" cy="1116.3" rx="2.27" ry="1.95" fill="#DC3C2C"/><ellipse cx="764.7" cy="1116.3" rx="2.70" ry="2.33" fill="#E8C468"/><ellipse cx="789.6" cy="1116.3" rx="1.04" ry="0.90" fill="#D2DCE6"/><ellipse cx="814.5" cy="1116.3" rx="1.04" ry="0.90" fill="#C6D2DE"/><ellipse cx="391.1" cy="1135.9" rx="1.90" ry="1.64" fill="#D6E6F0"/><ellipse cx="416.0" cy="1135.9" rx="1.90" ry="1.64" fill="#EEF2BC"/><ellipse cx="440.9" cy="1135.9" rx="1.04" ry="0.90" fill="#C2D0E0"/><ellipse cx="465.8" cy="1135.9" rx="1.04" ry="0.90" fill="#C2D0E0"/><ellipse cx="490.7" cy="1135.9" rx="2.91" ry="2.51" fill="#DC3C2C"/><ellipse cx="515.6" cy="1135.9" rx="0.95" ry="0.82" fill="#A4C4E2"/><ellipse cx="540.5" cy="1135.9" rx="2.05" ry="1.77" fill="#5C8CD0"/><ellipse cx="565.4" cy="1135.9" rx="1.71" ry="1.48" fill="#D6E6F0"/><ellipse cx="590.3" cy="1135.9" rx="1.04" ry="0.90" fill="#D2DCE6"/><ellipse cx="615.2" cy="1135.9" rx="1.52" ry="1.31" fill="#D6E6F0"/><ellipse cx="640.2" cy="1135.9" rx="0.97" ry="0.84" fill="#5C8CD0"/><ellipse cx="665.1" cy="1135.9" rx="1.90" ry="1.64" fill="#D6E6F0"/><ellipse cx="690.0" cy="1135.9" rx="1.19" ry="1.02" fill="#5C8CD0"/><ellipse cx="714.9" cy="1135.9" rx="0.97" ry="0.84" fill="#5C8CD0"/><ellipse cx="739.8" cy="1135.9" rx="1.94" ry="1.67" fill="#ECDC70"/><ellipse cx="764.7" cy="1135.9" rx="2.47" ry="2.13" fill="#EEF2BC"/><ellipse cx="789.6" cy="1135.9" rx="3.13" ry="2.70" fill="#ECDC70"/><ellipse cx="814.5" cy="1135.9" rx="3.42" ry="2.95" fill="#D6E6F0"/><ellipse cx="391.1" cy="1155.5" rx="1.04" ry="0.90" fill="#E6EAC8"/><ellipse cx="416.0" cy="1155.5" rx="1.04" ry="0.90" fill="#C6D2DE"/><ellipse cx="440.9" cy="1155.5" rx="1.04" ry="0.90" fill="#C2D0E0"/><ellipse cx="465.8" cy="1155.5" rx="1.04" ry="0.90" fill="#C6D2DE"/><ellipse cx="490.7" cy="1155.5" rx="1.71" ry="1.48" fill="#ECF2F2"/><ellipse cx="515.6" cy="1155.5" rx="2.76" ry="2.38" fill="#EEF2BC"/><ellipse cx="540.5" cy="1155.5" rx="1.04" ry="0.90" fill="#C2D0E0"/><ellipse cx="565.4" cy="1155.5" rx="1.43" ry="1.23" fill="#D6E6F0"/><ellipse cx="590.3" cy="1155.5" rx="1.43" ry="1.23" fill="#D6E6F0"/><ellipse cx="615.2" cy="1155.5" rx="1.04" ry="0.90" fill="#C6D2DE"/><ellipse cx="640.2" cy="1155.5" rx="1.04" ry="0.90" fill="#C2D0E0"/><ellipse cx="665.1" cy="1155.5" rx="4.64" ry="4.00" fill="#DC3C2C"/><ellipse cx="690.0" cy="1155.5" rx="6.26" ry="5.39" fill="#DC3C2C"/><ellipse cx="714.9" cy="1155.5" rx="1.90" ry="1.64" fill="#D6E6F0"/><ellipse cx="739.8" cy="1155.5" rx="1.04" ry="0.90" fill="#D2DCE6"/><ellipse cx="764.7" cy="1155.5" rx="1.43" ry="1.23" fill="#D6E6F0"/><ellipse cx="789.6" cy="1155.5" rx="1.04" ry="0.90" fill="#D8E0E6"/><ellipse cx="814.5" cy="1155.5" rx="1.04" ry="0.90" fill="#C2D0E0"/><ellipse cx="391.1" cy="1175.2" rx="1.04" ry="0.90" fill="#D8E0E6"/><ellipse cx="416.0" cy="1175.2" rx="1.04" ry="0.90" fill="#E6EAC8"/><ellipse cx="440.9" cy="1175.2" rx="1.04" ry="0.90" fill="#D8E0E6"/><ellipse cx="465.8" cy="1175.2" rx="1.04" ry="0.90" fill="#C2D0E0"/><ellipse cx="490.7" cy="1175.2" rx="1.04" ry="0.90" fill="#D8E0E6"/><ellipse cx="515.6" cy="1175.2" rx="1.04" ry="0.90" fill="#E6EAC8"/><ellipse cx="540.5" cy="1175.2" rx="1.04" ry="0.90" fill="#E6EAC8"/><ellipse cx="565.4" cy="1175.2" rx="1.04" ry="0.90" fill="#D2DCE6"/><ellipse cx="590.3" cy="1175.2" rx="1.04" ry="0.90" fill="#D2DCE6"/><ellipse cx="615.2" cy="1175.2" rx="1.04" ry="0.90" fill="#D2DCE6"/><ellipse cx="640.2" cy="1175.2" rx="1.04" ry="0.90" fill="#C6D2DE"/><ellipse cx="665.1" cy="1175.2" rx="1.04" ry="0.90" fill="#C2D0E0"/><ellipse cx="690.0" cy="1175.2" rx="1.04" ry="0.90" fill="#E6EAC8"/><ellipse cx="714.9" cy="1175.2" rx="1.04" ry="0.90" fill="#C2D0E0"/><ellipse cx="739.8" cy="1175.2" rx="1.40" ry="1.21" fill="#DC3C2C"/><ellipse cx="764.7" cy="1175.2" rx="1.14" ry="0.98" fill="#EEF2BC"/><ellipse cx="789.6" cy="1175.2" rx="1.04" ry="0.90" fill="#D8E0E6"/><ellipse cx="814.5" cy="1175.2" rx="1.04" ry="0.90" fill="#E6EAC8"/><ellipse cx="391.1" cy="1194.8" rx="1.04" ry="0.90" fill="#D8E0E6"/><ellipse cx="416.0" cy="1194.8" rx="1.04" ry="0.90" fill="#E6EAC8"/><ellipse cx="440.9" cy="1194.8" rx="1.04" ry="0.90" fill="#C2D0E0"/><ellipse cx="465.8" cy="1194.8" rx="1.04" ry="0.90" fill="#C6D2DE"/><ellipse cx="490.7" cy="1194.8" rx="1.04" ry="0.90" fill="#C6D2DE"/><ellipse cx="515.6" cy="1194.8" rx="1.04" ry="0.90" fill="#C2D0E0"/><ellipse cx="540.5" cy="1194.8" rx="1.04" ry="0.90" fill="#D8E0E6"/><ellipse cx="565.4" cy="1194.8" rx="1.04" ry="0.90" fill="#D2DCE6"/><ellipse cx="590.3" cy="1194.8" rx="1.04" ry="0.90" fill="#E6EAC8"/><ellipse cx="615.2" cy="1194.8" rx="1.62" ry="1.40" fill="#E88040"/><ellipse cx="640.2" cy="1194.8" rx="1.04" ry="0.90" fill="#D2DCE6"/><ellipse cx="665.1" cy="1194.8" rx="1.04" ry="0.90" fill="#D8E0E6"/><ellipse cx="690.0" cy="1194.8" rx="1.04" ry="0.90" fill="#D8E0E6"/><ellipse cx="714.9" cy="1194.8" rx="1.04" ry="0.90" fill="#C6D2DE"/><ellipse cx="739.8" cy="1194.8" rx="1.04" ry="0.90" fill="#C6D2DE"/><ellipse cx="764.7" cy="1194.8" rx="1.04" ry="0.90" fill="#C2D0E0"/><ellipse cx="789.6" cy="1194.8" rx="1.04" ry="0.90" fill="#C2D0E0"/><ellipse cx="814.5" cy="1194.8" rx="6.04" ry="5.21" fill="#DC3C2C"/><ellipse cx="391.1" cy="1214.5" rx="1.04" ry="0.90" fill="#E6EAC8"/><ellipse cx="416.0" cy="1214.5" rx="1.04" ry="0.90" fill="#E6EAC8"/><ellipse cx="440.9" cy="1214.5" rx="1.04" ry="0.90" fill="#E6EAC8"/><ellipse cx="465.8" cy="1214.5" rx="1.04" ry="0.90" fill="#C2D0E0"/><ellipse cx="490.7" cy="1214.5" rx="2.05" ry="1.77" fill="#E88040"/><ellipse cx="515.6" cy="1214.5" rx="1.40" ry="1.21" fill="#ECDC70"/><ellipse cx="540.5" cy="1214.5" rx="1.04" ry="0.90" fill="#D8E0E6"/><ellipse cx="565.4" cy="1214.5" rx="1.04" ry="0.90" fill="#C2D0E0"/><ellipse cx="590.3" cy="1214.5" rx="1.04" ry="0.90" fill="#D8E0E6"/><ellipse cx="615.2" cy="1214.5" rx="1.04" ry="0.90" fill="#C6D2DE"/><ellipse cx="640.2" cy="1214.5" rx="1.04" ry="0.90" fill="#C6D2DE"/><ellipse cx="665.1" cy="1214.5" rx="2.91" ry="2.51" fill="#DC3C2C"/><ellipse cx="690.0" cy="1214.5" rx="3.13" ry="2.70" fill="#E8C468"/><ellipse cx="714.9" cy="1214.5" rx="1.04" ry="0.90" fill="#E6EAC8"/><ellipse cx="739.8" cy="1214.5" rx="1.04" ry="0.90" fill="#D8E0E6"/><ellipse cx="764.7" cy="1214.5" rx="1.14" ry="0.98" fill="#EEF2BC"/><ellipse cx="789.6" cy="1214.5" rx="1.04" ry="0.90" fill="#C6D2DE"/><ellipse cx="814.5" cy="1214.5" rx="2.28" ry="1.97" fill="#D6E6F0"/><ellipse cx="391.1" cy="1234.1" rx="1.04" ry="0.90" fill="#C6D2DE"/><ellipse cx="416.0" cy="1234.1" rx="1.04" ry="0.90" fill="#E6EAC8"/><ellipse cx="440.9" cy="1234.1" rx="1.04" ry="0.90" fill="#C2D0E0"/><ellipse cx="465.8" cy="1234.1" rx="1.04" ry="0.90" fill="#D8E0E6"/><ellipse cx="490.7" cy="1234.1" rx="0.97" ry="0.84" fill="#E88040"/><ellipse cx="515.6" cy="1234.1" rx="1.04" ry="0.90" fill="#E6EAC8"/><ellipse cx="540.5" cy="1234.1" rx="1.04" ry="0.90" fill="#D8E0E6"/><ellipse cx="565.4" cy="1234.1" rx="1.04" ry="0.90" fill="#E6EAC8"/><ellipse cx="590.3" cy="1234.1" rx="1.04" ry="0.90" fill="#C6D2DE"/><ellipse cx="615.2" cy="1234.1" rx="1.04" ry="0.90" fill="#D8E0E6"/><ellipse cx="640.2" cy="1234.1" rx="1.04" ry="0.90" fill="#E6EAC8"/><ellipse cx="665.1" cy="1234.1" rx="1.04" ry="0.90" fill="#D2DCE6"/><ellipse cx="690.0" cy="1234.1" rx="1.04" ry="0.90" fill="#C2D0E0"/><ellipse cx="714.9" cy="1234.1" rx="1.04" ry="0.90" fill="#C6D2DE"/><ellipse cx="739.8" cy="1234.1" rx="1.08" ry="0.93" fill="#DC3C2C"/><ellipse cx="764.7" cy="1234.1" rx="1.04" ry="0.90" fill="#D8E0E6"/><ellipse cx="789.6" cy="1234.1" rx="1.04" ry="0.90" fill="#C6D2DE"/><ellipse cx="814.5" cy="1234.1" rx="1.04" ry="0.90" fill="#D2DCE6"/><ellipse cx="391.1" cy="1253.7" rx="1.04" ry="0.90" fill="#E6EAC8"/><ellipse cx="416.0" cy="1253.7" rx="1.04" ry="0.90" fill="#D2DCE6"/><ellipse cx="440.9" cy="1253.7" rx="1.04" ry="0.90" fill="#D2DCE6"/><ellipse cx="465.8" cy="1253.7" rx="1.04" ry="0.90" fill="#D8E0E6"/><ellipse cx="490.7" cy="1253.7" rx="1.04" ry="0.90" fill="#D8E0E6"/><ellipse cx="515.6" cy="1253.7" rx="1.04" ry="0.90" fill="#D8E0E6"/><ellipse cx="540.5" cy="1253.7" rx="1.04" ry="0.90" fill="#C6D2DE"/><ellipse cx="565.4" cy="1253.7" rx="1.04" ry="0.90" fill="#D2DCE6"/><ellipse cx="590.3" cy="1253.7" rx="1.04" ry="0.90" fill="#D8E0E6"/><ellipse cx="615.2" cy="1253.7" rx="1.04" ry="0.90" fill="#D8E0E6"/><ellipse cx="640.2" cy="1253.7" rx="1.04" ry="0.90" fill="#C2D0E0"/><ellipse cx="665.1" cy="1253.7" rx="1.04" ry="0.90" fill="#E6EAC8"/><ellipse cx="690.0" cy="1253.7" rx="1.04" ry="0.90" fill="#D2DCE6"/><ellipse cx="714.9" cy="1253.7" rx="1.04" ry="0.90" fill="#D8E0E6"/><ellipse cx="739.8" cy="1253.7" rx="1.04" ry="0.90" fill="#C2D0E0"/><ellipse cx="764.7" cy="1253.7" rx="1.14" ry="0.98" fill="#EEF2BC"/><ellipse cx="789.6" cy="1253.7" rx="2.05" ry="1.77" fill="#DC3C2C"/><ellipse cx="814.5" cy="1253.7" rx="2.00" ry="1.72" fill="#EEF2BC"/><ellipse cx="391.1" cy="1273.4" rx="0.97" ry="0.84" fill="#5C8CD0"/><ellipse cx="416.0" cy="1273.4" rx="1.04" ry="0.90" fill="#E6EAC8"/><ellipse cx="440.9" cy="1273.4" rx="0.86" ry="0.74" fill="#5C8CD0"/><ellipse cx="465.8" cy="1273.4" rx="1.04" ry="0.90" fill="#D8E0E6"/><ellipse cx="490.7" cy="1273.4" rx="1.04" ry="0.90" fill="#E6EAC8"/><ellipse cx="515.6" cy="1273.4" rx="2.09" ry="1.80" fill="#EEF2BC"/><ellipse cx="540.5" cy="1273.4" rx="1.43" ry="1.23" fill="#A4C4E2"/><ellipse cx="565.4" cy="1273.4" rx="2.47" ry="2.13" fill="#EEF2BC"/><ellipse cx="590.3" cy="1273.4" rx="1.04" ry="0.90" fill="#D8E0E6"/><ellipse cx="615.2" cy="1273.4" rx="1.04" ry="0.90" fill="#D2DCE6"/><ellipse cx="640.2" cy="1273.4" rx="1.81" ry="1.56" fill="#EEF2BC"/><ellipse cx="665.1" cy="1273.4" rx="2.19" ry="1.89" fill="#EEF2BC"/><ellipse cx="690.0" cy="1273.4" rx="3.34" ry="2.88" fill="#DC3C2C"/><ellipse cx="714.9" cy="1273.4" rx="4.42" ry="3.81" fill="#E88040"/><ellipse cx="739.8" cy="1273.4" rx="1.04" ry="0.90" fill="#D2DCE6"/><ellipse cx="764.7" cy="1273.4" rx="1.81" ry="1.56" fill="#D6E6F0"/><ellipse cx="789.6" cy="1273.4" rx="1.43" ry="1.23" fill="#EEF2BC"/><ellipse cx="814.5" cy="1273.4" rx="0.86" ry="0.74" fill="#5C8CD0"/><ellipse cx="391.1" cy="1293.0" rx="1.04" ry="0.90" fill="#C6D2DE"/><ellipse cx="416.0" cy="1293.0" rx="1.04" ry="0.90" fill="#D2DCE6"/><ellipse cx="440.9" cy="1293.0" rx="1.04" ry="0.90" fill="#D2DCE6"/><ellipse cx="465.8" cy="1293.0" rx="1.04" ry="0.90" fill="#D2DCE6"/><ellipse cx="490.7" cy="1293.0" rx="1.04" ry="0.90" fill="#D2DCE6"/><ellipse cx="515.6" cy="1293.0" rx="1.04" ry="0.90" fill="#C6D2DE"/><ellipse cx="540.5" cy="1293.0" rx="1.04" ry="0.90" fill="#D8E0E6"/><ellipse cx="565.4" cy="1293.0" rx="1.04" ry="0.90" fill="#C2D0E0"/><ellipse cx="590.3" cy="1293.0" rx="1.04" ry="0.90" fill="#D2DCE6"/><ellipse cx="615.2" cy="1293.0" rx="1.04" ry="0.90" fill="#E6EAC8"/><ellipse cx="640.2" cy="1293.0" rx="1.04" ry="0.90" fill="#E6EAC8"/><ellipse cx="665.1" cy="1293.0" rx="1.04" ry="0.90" fill="#C6D2DE"/><ellipse cx="690.0" cy="1293.0" rx="1.04" ry="0.90" fill="#D2DCE6"/><ellipse cx="714.9" cy="1293.0" rx="1.04" ry="0.90" fill="#D8E0E6"/><ellipse cx="739.8" cy="1293.0" rx="1.51" ry="1.30" fill="#DC3C2C"/><ellipse cx="764.7" cy="1293.0" rx="1.04" ry="0.90" fill="#C2D0E0"/><ellipse cx="789.6" cy="1293.0" rx="1.04" ry="0.90" fill="#E6EAC8"/><ellipse cx="814.5" cy="1293.0" rx="1.04" ry="0.90" fill="#C2D0E0"/><ellipse cx="391.1" cy="1312.6" rx="1.04" ry="0.90" fill="#C2D0E0"/><ellipse cx="416.0" cy="1312.6" rx="1.81" ry="1.56" fill="#EEF2BC"/><ellipse cx="440.9" cy="1312.6" rx="1.04" ry="0.90" fill="#E6EAC8"/><ellipse cx="465.8" cy="1312.6" rx="1.04" ry="0.90" fill="#D2DCE6"/><ellipse cx="490.7" cy="1312.6" rx="1.04" ry="0.90" fill="#C2D0E0"/><ellipse cx="515.6" cy="1312.6" rx="1.04" ry="0.90" fill="#C2D0E0"/><ellipse cx="540.5" cy="1312.6" rx="1.04" ry="0.90" fill="#C6D2DE"/><ellipse cx="565.4" cy="1312.6" rx="1.04" ry="0.90" fill="#D8E0E6"/><ellipse cx="590.3" cy="1312.6" rx="1.04" ry="0.90" fill="#C2D0E0"/><ellipse cx="615.2" cy="1312.6" rx="1.04" ry="0.90" fill="#D8E0E6"/><ellipse cx="640.2" cy="1312.6" rx="1.04" ry="0.90" fill="#D8E0E6"/><ellipse cx="665.1" cy="1312.6" rx="1.04" ry="0.90" fill="#D8E0E6"/><ellipse cx="690.0" cy="1312.6" rx="1.04" ry="0.90" fill="#D8E0E6"/><ellipse cx="714.9" cy="1312.6" rx="1.04" ry="0.90" fill="#C6D2DE"/><ellipse cx="739.8" cy="1312.6" rx="3.78" ry="3.26" fill="#DC3C2C"/><ellipse cx="764.7" cy="1312.6" rx="1.04" ry="0.90" fill="#D8E0E6"/><ellipse cx="789.6" cy="1312.6" rx="1.04" ry="0.90" fill="#D8E0E6"/><ellipse cx="814.5" cy="1312.6" rx="1.04" ry="0.90" fill="#C6D2DE"/><ellipse cx="391.1" cy="1332.3" rx="3.04" ry="2.62" fill="#D6E6F0"/><ellipse cx="416.0" cy="1332.3" rx="2.76" ry="2.38" fill="#EEF2BC"/><ellipse cx="440.9" cy="1332.3" rx="2.28" ry="1.97" fill="#ECF2F2"/><ellipse cx="465.8" cy="1332.3" rx="2.85" ry="2.46" fill="#ECEC98"/><ellipse cx="490.7" cy="1332.3" rx="1.81" ry="1.56" fill="#D6E6F0"/><ellipse cx="515.6" cy="1332.3" rx="3.04" ry="2.62" fill="#EEF2BC"/><ellipse cx="540.5" cy="1332.3" rx="3.02" ry="2.60" fill="#5C8CD0"/><ellipse cx="565.4" cy="1332.3" rx="3.52" ry="3.03" fill="#EEF2BC"/><ellipse cx="590.3" cy="1332.3" rx="2.00" ry="1.72" fill="#D6E6F0"/><ellipse cx="615.2" cy="1332.3" rx="2.57" ry="2.21" fill="#D6E6F0"/><ellipse cx="640.2" cy="1332.3" rx="2.38" ry="2.05" fill="#A4C4E2"/><ellipse cx="665.1" cy="1332.3" rx="3.99" ry="3.44" fill="#E89050"/><ellipse cx="690.0" cy="1332.3" rx="5.61" ry="4.84" fill="#E05030"/><ellipse cx="714.9" cy="1332.3" rx="4.19" ry="3.61" fill="#F0F0A0"/><ellipse cx="739.8" cy="1332.3" rx="1.71" ry="1.48" fill="#D6E6F0"/><ellipse cx="764.7" cy="1332.3" rx="2.85" ry="2.46" fill="#90B8E0"/><ellipse cx="789.6" cy="1332.3" rx="0.86" ry="0.74" fill="#5C8CD0"/><ellipse cx="814.5" cy="1332.3" rx="2.59" ry="2.23" fill="#5C8CD0"/><ellipse cx="391.1" cy="1351.9" rx="2.27" ry="1.95" fill="#E88040"/><ellipse cx="416.0" cy="1351.9" rx="1.04" ry="0.90" fill="#D2DCE6"/><ellipse cx="440.9" cy="1351.9" rx="1.04" ry="0.90" fill="#C6D2DE"/><ellipse cx="465.8" cy="1351.9" rx="1.04" ry="0.90" fill="#D2DCE6"/><ellipse cx="490.7" cy="1351.9" rx="1.40" ry="1.21" fill="#E06038"/><ellipse cx="515.6" cy="1351.9" rx="1.04" ry="0.90" fill="#D8E0E6"/><ellipse cx="540.5" cy="1351.9" rx="1.04" ry="0.90" fill="#D2DCE6"/><ellipse cx="565.4" cy="1351.9" rx="1.04" ry="0.90" fill="#C6D2DE"/><ellipse cx="590.3" cy="1351.9" rx="1.04" ry="0.90" fill="#E6EAC8"/><ellipse cx="615.2" cy="1351.9" rx="1.04" ry="0.90" fill="#C2D0E0"/><ellipse cx="640.2" cy="1351.9" rx="1.04" ry="0.90" fill="#C6D2DE"/><ellipse cx="665.1" cy="1351.9" rx="1.04" ry="0.90" fill="#C6D2DE"/><ellipse cx="690.0" cy="1351.9" rx="1.04" ry="0.90" fill="#C6D2DE"/><ellipse cx="714.9" cy="1351.9" rx="1.04" ry="0.90" fill="#C2D0E0"/><ellipse cx="739.8" cy="1351.9" rx="1.08" ry="0.93" fill="#E8C468"/><ellipse cx="764.7" cy="1351.9" rx="1.04" ry="0.90" fill="#D2DCE6"/><ellipse cx="789.6" cy="1351.9" rx="1.04" ry="0.90" fill="#C2D0E0"/><ellipse cx="814.5" cy="1351.9" rx="1.04" ry="0.90" fill="#C6D2DE"/><ellipse cx="391.1" cy="1371.6" rx="1.04" ry="0.90" fill="#E6EAC8"/><ellipse cx="416.0" cy="1371.6" rx="1.04" ry="0.90" fill="#C2D0E0"/><ellipse cx="440.9" cy="1371.6" rx="1.04" ry="0.90" fill="#C6D2DE"/><ellipse cx="465.8" cy="1371.6" rx="1.83" ry="1.58" fill="#DC3C2C"/><ellipse cx="490.7" cy="1371.6" rx="1.04" ry="0.90" fill="#C6D2DE"/><ellipse cx="515.6" cy="1371.6" rx="1.04" ry="0.90" fill="#D2DCE6"/><ellipse cx="540.5" cy="1371.6" rx="1.04" ry="0.90" fill="#C2D0E0"/><ellipse cx="565.4" cy="1371.6" rx="1.04" ry="0.90" fill="#D8E0E6"/><ellipse cx="590.3" cy="1371.6" rx="1.04" ry="0.90" fill="#D2DCE6"/><ellipse cx="615.2" cy="1371.6" rx="1.04" ry="0.90" fill="#E6EAC8"/><ellipse cx="640.2" cy="1371.6" rx="1.04" ry="0.90" fill="#E6EAC8"/><ellipse cx="665.1" cy="1371.6" rx="1.04" ry="0.90" fill="#C2D0E0"/><ellipse cx="690.0" cy="1371.6" rx="1.04" ry="0.90" fill="#E6EAC8"/><ellipse cx="714.9" cy="1371.6" rx="1.04" ry="0.90" fill="#D8E0E6"/><ellipse cx="739.8" cy="1371.6" rx="1.04" ry="0.90" fill="#C6D2DE"/><ellipse cx="764.7" cy="1371.6" rx="1.04" ry="0.90" fill="#C6D2DE"/><ellipse cx="789.6" cy="1371.6" rx="1.04" ry="0.90" fill="#D8E0E6"/><ellipse cx="814.5" cy="1371.6" rx="1.04" ry="0.90" fill="#D8E0E6"/><ellipse cx="391.1" cy="1391.2" rx="1.04" ry="0.90" fill="#D8E0E6"/><ellipse cx="416.0" cy="1391.2" rx="1.04" ry="0.90" fill="#D8E0E6"/><ellipse cx="440.9" cy="1391.2" rx="1.04" ry="0.90" fill="#E6EAC8"/><ellipse cx="465.8" cy="1391.2" rx="1.51" ry="1.30" fill="#DC3C2C"/><ellipse cx="490.7" cy="1391.2" rx="1.04" ry="0.90" fill="#C6D2DE"/><ellipse cx="515.6" cy="1391.2" rx="1.04" ry="0.90" fill="#D2DCE6"/><ellipse cx="540.5" cy="1391.2" rx="1.04" ry="0.90" fill="#C6D2DE"/><ellipse cx="565.4" cy="1391.2" rx="1.04" ry="0.90" fill="#E6EAC8"/><ellipse cx="590.3" cy="1391.2" rx="1.04" ry="0.90" fill="#E6EAC8"/><ellipse cx="615.2" cy="1391.2" rx="1.04" ry="0.90" fill="#D8E0E6"/><ellipse cx="640.2" cy="1391.2" rx="1.04" ry="0.90" fill="#D2DCE6"/><ellipse cx="665.1" cy="1391.2" rx="1.04" ry="0.90" fill="#C2D0E0"/><ellipse cx="690.0" cy="1391.2" rx="1.04" ry="0.90" fill="#C6D2DE"/><ellipse cx="714.9" cy="1391.2" rx="1.04" ry="0.90" fill="#D2DCE6"/><ellipse cx="739.8" cy="1391.2" rx="1.04" ry="0.90" fill="#C2D0E0"/><ellipse cx="764.7" cy="1391.2" rx="1.04" ry="0.90" fill="#E6EAC8"/><ellipse cx="789.6" cy="1391.2" rx="1.04" ry="0.90" fill="#D2DCE6"/><ellipse cx="814.5" cy="1391.2" rx="1.04" ry="0.90" fill="#C2D0E0"/><ellipse cx="391.1" cy="1410.8" rx="1.04" ry="0.90" fill="#C6D2DE"/><ellipse cx="416.0" cy="1410.8" rx="1.71" ry="1.48" fill="#D6E6F0"/><ellipse cx="440.9" cy="1410.8" rx="1.33" ry="1.15" fill="#D6E6F0"/><ellipse cx="465.8" cy="1410.8" rx="2.57" ry="2.21" fill="#D6E6F0"/><ellipse cx="490.7" cy="1410.8" rx="3.52" ry="3.03" fill="#EEF2BC"/><ellipse cx="515.6" cy="1410.8" rx="2.38" ry="2.05" fill="#A4C4E2"/><ellipse cx="540.5" cy="1410.8" rx="1.33" ry="1.15" fill="#D6E6F0"/><ellipse cx="565.4" cy="1410.8" rx="1.81" ry="1.56" fill="#A4C4E2"/><ellipse cx="590.3" cy="1410.8" rx="1.62" ry="1.39" fill="#D6E6F0"/><ellipse cx="615.2" cy="1410.8" rx="2.00" ry="1.72" fill="#A4C4E2"/><ellipse cx="640.2" cy="1410.8" rx="3.61" ry="3.12" fill="#ECF2F2"/><ellipse cx="665.1" cy="1410.8" rx="2.19" ry="1.89" fill="#A4C4E2"/><ellipse cx="690.0" cy="1410.8" rx="1.04" ry="0.90" fill="#C2D0E0"/><ellipse cx="714.9" cy="1410.8" rx="4.66" ry="4.02" fill="#F4F4CC"/><ellipse cx="739.8" cy="1410.8" rx="4.00" ry="3.44" fill="#F0F0A8"/><ellipse cx="764.7" cy="1410.8" rx="6.04" ry="5.21" fill="#E88048"/><ellipse cx="789.6" cy="1410.8" rx="2.76" ry="2.38" fill="#D6E6F0"/><ellipse cx="814.5" cy="1410.8" rx="6.04" ry="5.21" fill="#DC3C2C"/><ellipse cx="391.1" cy="1430.5" rx="1.04" ry="0.90" fill="#E6EAC8"/><ellipse cx="416.0" cy="1430.5" rx="1.19" ry="1.02" fill="#DC3C2C"/><ellipse cx="440.9" cy="1430.5" rx="1.04" ry="0.90" fill="#C6D2DE"/><ellipse cx="465.8" cy="1430.5" rx="1.29" ry="1.12" fill="#DC3C2C"/><ellipse cx="490.7" cy="1430.5" rx="1.04" ry="0.90" fill="#E6EAC8"/><ellipse cx="515.6" cy="1430.5" rx="1.04" ry="0.90" fill="#C2D0E0"/><ellipse cx="540.5" cy="1430.5" rx="1.04" ry="0.90" fill="#E6EAC8"/><ellipse cx="565.4" cy="1430.5" rx="1.04" ry="0.90" fill="#D2DCE6"/><ellipse cx="590.3" cy="1430.5" rx="1.04" ry="0.90" fill="#E6EAC8"/><ellipse cx="615.2" cy="1430.5" rx="1.04" ry="0.90" fill="#D2DCE6"/><ellipse cx="640.2" cy="1430.5" rx="1.04" ry="0.90" fill="#C2D0E0"/><ellipse cx="665.1" cy="1430.5" rx="1.04" ry="0.90" fill="#C2D0E0"/><ellipse cx="690.0" cy="1430.5" rx="1.04" ry="0.90" fill="#C2D0E0"/><ellipse cx="714.9" cy="1430.5" rx="1.04" ry="0.90" fill="#E6EAC8"/><ellipse cx="739.8" cy="1430.5" rx="1.04" ry="0.90" fill="#D2DCE6"/><ellipse cx="764.7" cy="1430.5" rx="1.04" ry="0.90" fill="#C2D0E0"/><ellipse cx="789.6" cy="1430.5" rx="1.04" ry="0.90" fill="#D2DCE6"/><ellipse cx="814.5" cy="1430.5" rx="1.04" ry="0.90" fill="#D2DCE6"/><ellipse cx="391.1" cy="1450.1" rx="1.04" ry="0.90" fill="#D8E0E6"/><ellipse cx="416.0" cy="1450.1" rx="1.04" ry="0.90" fill="#D2DCE6"/><ellipse cx="440.9" cy="1450.1" rx="1.04" ry="0.90" fill="#D2DCE6"/><ellipse cx="465.8" cy="1450.1" rx="1.04" ry="0.90" fill="#C2D0E0"/><ellipse cx="490.7" cy="1450.1" rx="1.04" ry="0.90" fill="#D8E0E6"/><ellipse cx="515.6" cy="1450.1" rx="1.04" ry="0.90" fill="#E6EAC8"/><ellipse cx="540.5" cy="1450.1" rx="1.04" ry="0.90" fill="#C6D2DE"/><ellipse cx="565.4" cy="1450.1" rx="1.04" ry="0.90" fill="#C6D2DE"/><ellipse cx="590.3" cy="1450.1" rx="1.04" ry="0.90" fill="#E6EAC8"/><ellipse cx="615.2" cy="1450.1" rx="1.04" ry="0.90" fill="#D8E0E6"/><ellipse cx="640.2" cy="1450.1" rx="1.04" ry="0.90" fill="#E6EAC8"/><ellipse cx="665.1" cy="1450.1" rx="1.04" ry="0.90" fill="#D2DCE6"/><ellipse cx="690.0" cy="1450.1" rx="1.83" ry="1.58" fill="#DC3C2C"/><ellipse cx="714.9" cy="1450.1" rx="1.04" ry="0.90" fill="#C2D0E0"/><ellipse cx="739.8" cy="1450.1" rx="1.04" ry="0.90" fill="#E6EAC8"/><ellipse cx="764.7" cy="1450.1" rx="1.04" ry="0.90" fill="#D8E0E6"/><ellipse cx="789.6" cy="1450.1" rx="1.04" ry="0.90" fill="#E6EAC8"/><ellipse cx="814.5" cy="1450.1" rx="1.04" ry="0.90" fill="#E6EAC8"/>
<rect x="376.9" y="1054.9" width="448.1" height="405.0" fill="none" stroke="#111" stroke-width="1.7"/>
<text transform="translate(362.9,1083.5)" font-size="18" text-anchor="end">TNF</text>
<text transform="translate(364.0,1103.1)" font-size="18" text-anchor="end">OSM</text>
<text transform="translate(363.3,1122.7)" font-size="18" text-anchor="end">IL1B</text>
<text transform="translate(369.3,1142.4)" font-size="18" text-anchor="end">LGALS3</text>
<text transform="translate(365.0,1162.0)" font-size="18" text-anchor="end">CCL4</text>
<text transform="translate(362.9,1181.6)" font-size="18" text-anchor="end">IL10</text>
<text transform="translate(364.8,1201.3)" font-size="18" text-anchor="end">BTLA</text>
<text transform="translate(368.9,1220.9)" font-size="18" text-anchor="end">CCL4L2</text>
<text transform="translate(363.3,1240.5)" font-size="18" text-anchor="end">IL1A</text>
<text transform="translate(362.9,1260.2)" font-size="18" text-anchor="end">IL15</text>
<text transform="translate(367.4,1279.8)" font-size="18" text-anchor="end">TGFB1</text>
<text transform="translate(366.0,1299.5)" font-size="18" text-anchor="end">IL1RN</text>
<text transform="translate(365.8,1319.1)" font-size="18" text-anchor="end">VCAN</text>
<text transform="translate(365.0,1338.7)" font-size="18" text-anchor="end">CD99</text>
<text transform="translate(366.3,1358.4)" font-size="18" text-anchor="end">SIRPA</text>
<text transform="translate(367.0,1378.0)" font-size="18" text-anchor="end">CCL21</text>
<text transform="translate(365.0,1397.6)" font-size="18" text-anchor="end">JAM2</text>
<text transform="translate(373.4,1417.3)" font-size="18" text-anchor="end">HLA-DRB5</text>
<text transform="translate(364.6,1436.9)" font-size="18" text-anchor="end">PLAT</text>
<text transform="translate(367.0,1456.6)" font-size="18" text-anchor="end">CD244</text>
<text transform="translate(398.6,1474.9) rotate(-43.5)" font-size="18.2" text-anchor="end">Melanocytes</text>
<text transform="translate(423.5,1474.9) rotate(-43.5)" font-size="18.2" text-anchor="end">Fibroblasts</text>
<text transform="translate(448.4,1474.9) rotate(-43.5)" font-size="18.2" text-anchor="end">Photoreceptor cells</text>
<text transform="translate(473.3,1474.9) rotate(-43.5)" font-size="18.2" text-anchor="end">Endothelial cells</text>
<text transform="translate(498.2,1474.9) rotate(-43.5)" font-size="18.2" text-anchor="end">Macrophages</text>
<text transform="translate(523.1,1474.9) rotate(-43.5)" font-size="18.2" text-anchor="end">Plasma cells</text>
<text transform="translate(548.0,1474.9) rotate(-43.5)" font-size="18.2" text-anchor="end">Tem/Trm cytotoxic T cells</text>
<text transform="translate(572.9,1474.9) rotate(-43.5)" font-size="18.2" text-anchor="end">Tem/Effector helper T cells</text>
<text transform="translate(597.8,1474.9) rotate(-43.5)" font-size="18.2" text-anchor="end">Tcm/Naive helper T cells</text>
<text transform="translate(622.7,1474.9) rotate(-43.5)" font-size="18.2" text-anchor="end">Regulatory T cells</text>
<text transform="translate(647.7,1474.9) rotate(-43.5)" font-size="18.2" text-anchor="end">Memory B cells</text>
<text transform="translate(672.6,1474.9) rotate(-43.5)" font-size="18.2" text-anchor="end">NK cells</text>
<text transform="translate(697.5,1474.9) rotate(-43.5)" font-size="18.2" text-anchor="end">CD16<tspan font-size="11" dy="-6.5">+</tspan><tspan dy="6.5"> NK cells</tspan></text>
<text transform="translate(722.4,1474.9) rotate(-43.5)" font-size="18.2" text-anchor="end">pDC</text>
<text transform="translate(747.3,1474.9) rotate(-43.5)" font-size="18.2" text-anchor="end">Myelocytes</text>
<text transform="translate(772.2,1474.9) rotate(-43.5)" font-size="18.2" text-anchor="end">DC2</text>
<text transform="translate(797.1,1474.9) rotate(-43.5)" font-size="18.2" text-anchor="end">Non-classical monocytes</text>
<text transform="translate(822.0,1474.9) rotate(-43.5)" font-size="18.2" text-anchor="end">DC1</text>
<g stroke="#111" stroke-width="1.6"><line x1="371.4" y1="1077.0" x2="376.9" y2="1077.0"/><line x1="371.4" y1="1096.6" x2="376.9" y2="1096.6"/><line x1="371.4" y1="1116.3" x2="376.9" y2="1116.3"/><line x1="371.4" y1="1135.9" x2="376.9" y2="1135.9"/><line x1="371.4" y1="1155.5" x2="376.9" y2="1155.5"/><line x1="371.4" y1="1175.2" x2="376.9" y2="1175.2"/><line x1="371.4" y1="1194.8" x2="376.9" y2="1194.8"/><line x1="371.4" y1="1214.5" x2="376.9" y2="1214.5"/><line x1="371.4" y1="1234.1" x2="376.9" y2="1234.1"/><line x1="371.4" y1="1253.7" x2="376.9" y2="1253.7"/><line x1="371.4" y1="1273.4" x2="376.9" y2="1273.4"/><line x1="371.4" y1="1293.0" x2="376.9" y2="1293.0"/><line x1="371.4" y1="1312.6" x2="376.9" y2="1312.6"/><line x1="371.4" y1="1332.3" x2="376.9" y2="1332.3"/><line x1="371.4" y1="1351.9" x2="376.9" y2="1351.9"/><line x1="371.4" y1="1371.6" x2="376.9" y2="1371.6"/><line x1="371.4" y1="1391.2" x2="376.9" y2="1391.2"/><line x1="371.4" y1="1410.8" x2="376.9" y2="1410.8"/><line x1="371.4" y1="1430.5" x2="376.9" y2="1430.5"/><line x1="371.4" y1="1450.1" x2="376.9" y2="1450.1"/><line x1="391.1" y1="1459.9" x2="391.1" y2="1465.9"/><line x1="416.0" y1="1459.9" x2="416.0" y2="1465.9"/><line x1="440.9" y1="1459.9" x2="440.9" y2="1465.9"/><line x1="465.8" y1="1459.9" x2="465.8" y2="1465.9"/><line x1="490.7" y1="1459.9" x2="490.7" y2="1465.9"/><line x1="515.6" y1="1459.9" x2="515.6" y2="1465.9"/><line x1="540.5" y1="1459.9" x2="540.5" y2="1465.9"/><line x1="565.4" y1="1459.9" x2="565.4" y2="1465.9"/><line x1="590.3" y1="1459.9" x2="590.3" y2="1465.9"/><line x1="615.2" y1="1459.9" x2="615.2" y2="1465.9"/><line x1="640.2" y1="1459.9" x2="640.2" y2="1465.9"/><line x1="665.1" y1="1459.9" x2="665.1" y2="1465.9"/><line x1="690.0" y1="1459.9" x2="690.0" y2="1465.9"/><line x1="714.9" y1="1459.9" x2="714.9" y2="1465.9"/><line x1="739.8" y1="1459.9" x2="739.8" y2="1465.9"/><line x1="764.7" y1="1459.9" x2="764.7" y2="1465.9"/><line x1="789.6" y1="1459.9" x2="789.6" y2="1465.9"/><line x1="814.5" y1="1459.9" x2="814.5" y2="1465.9"/></g>
<text transform="translate(562.8,1633.0)" font-size="20.8" text-anchor="middle" font-weight="bold">Sender cells</text>
<text transform="translate(870.5,1112.4)" font-size="17.8" text-anchor="middle">Average</text>
<text transform="translate(870.2,1133.8)" font-size="17.8" text-anchor="middle">expression</text>
<defs><linearGradient id="avg" x1="0" y1="0" x2="0" y2="1"><stop offset="0" stop-color="#DC3E2E"/><stop offset="0.12" stop-color="#E2603A"/><stop offset="0.28" stop-color="#EFB25E"/><stop offset="0.4" stop-color="#F6EE9C"/><stop offset="0.52" stop-color="#F2F8C4"/><stop offset="0.64" stop-color="#E4F2EC"/><stop offset="0.8" stop-color="#A8CCE4"/><stop offset="1" stop-color="#4A7CC6"/></linearGradient></defs>
<rect x="846" y="1138.8" width="24" height="119.8" fill="url(#avg)"/>
<path d="M846 1154h5M870 1154h-5" stroke="#fff" stroke-width="1" stroke-dasharray="2 1"/>
<text transform="translate(879.5,1160.3)" font-size="17.8">2</text>
<path d="M846 1184h5M870 1184h-5" stroke="#fff" stroke-width="1" stroke-dasharray="2 1"/>
<text transform="translate(879.5,1190.3)" font-size="17.8">1</text>
<path d="M846 1214.3h5M870 1214.3h-5" stroke="#fff" stroke-width="1" stroke-dasharray="2 1"/>
<text transform="translate(879.5,1220.6)" font-size="17.8">0</text>
<path d="M846 1244.5h5M870 1244.5h-5" stroke="#fff" stroke-width="1" stroke-dasharray="2 1"/>
<text transform="translate(879.5,1250.8)" font-size="17.8">−1</text>
<text transform="translate(874.5,1284.5)" font-size="17.8" text-anchor="middle">Percent</text>
<text transform="translate(874.5,1305.2)" font-size="17.8" text-anchor="middle">expressed</text>
<ellipse cx="859.3" cy="1319.5" rx="0.9" ry="0.8" fill="#1a1212"/>
<text transform="translate(882.0,1325.8)" font-size="17.8">0</text>
<ellipse cx="859.3" cy="1343.3" rx="3.8" ry="3.4" fill="#1a1212"/>
<text transform="translate(882.0,1349.6)" font-size="17.8">25</text>
<ellipse cx="859.3" cy="1367.1" rx="6.5" ry="5.8" fill="#1a1212"/>
<text transform="translate(882.0,1373.4)" font-size="17.8">50</text>
<ellipse cx="859.3" cy="1391" rx="8.9" ry="8.0" fill="#1a1212"/>
<text transform="translate(882.0,1397.3)" font-size="17.8">75</text>
<ellipse cx="859.3" cy="1415" rx="11.3" ry="10.1" fill="#1a1212"/>
<text transform="translate(882.0,1421.3)" font-size="17.8">100</text>
</g>
<g id="gen_b3">
<rect x="924.7" y="973.1" width="572.6" height="63.7" fill="#E18B80"/>
<text transform="translate(1211.5,1010.0)" font-size="21" text-anchor="middle" font-weight="bold">Interaction potential of ligands to receptors in Treg cells</text>
<rect x="1029.3" y="1056.3" width="375.8" height="415.5" fill="#fff"/>
<rect x="1030.30" y="1058.30" width="11.3" height="17.2" fill="#FAF9FA"/><rect x="1044.28" y="1058.30" width="11.3" height="17.2" fill="#FAF9FA"/><rect x="1058.26" y="1058.30" width="11.3" height="17.2" fill="#FAF9FA"/><rect x="1072.24" y="1058.30" width="11.3" height="17.2" fill="#FAF9FA"/><rect x="1086.22" y="1058.30" width="11.3" height="17.2" fill="#FAF9FA"/><rect x="1100.20" y="1058.30" width="11.3" height="17.2" fill="#FAF9FA"/><rect x="1114.18" y="1058.30" width="11.3" height="17.2" fill="#FAF9FA"/><rect x="1128.16" y="1058.30" width="11.3" height="17.2" fill="#FAF9FA"/><rect x="1142.14" y="1058.30" width="11.3" height="17.2" fill="#FAF9FA"/><rect x="1156.12" y="1058.30" width="11.3" height="17.2" fill="#FAF9FA"/><rect x="1170.10" y="1058.30" width="11.3" height="17.2" fill="#FAF9FA"/><rect x="1184.08" y="1058.30" width="11.3" height="17.2" fill="#FAF9FA"/><rect x="1198.06" y="1058.30" width="11.3" height="17.2" fill="#FAF9FA"/><rect x="1212.04" y="1058.30" width="11.3" height="17.2" fill="#FAF9FA"/><rect x="1226.02" y="1058.30" width="11.3" height="17.2" fill="#FAF9FA"/><rect x="1240.00" y="1058.30" width="11.3" height="17.2" fill="#FAF9FA"/><rect x="1253.98" y="1058.30" width="11.3" height="17.2" fill="#DA5CA8"/><rect x="1267.96" y="1058.30" width="11.3" height="17.2" fill="#E080B8"/><rect x="1281.94" y="1058.30" width="11.3" height="17.2" fill="#FAF9FA"/><rect x="1295.92" y="1058.30" width="11.3" height="17.2" fill="#FAF9FA"/><rect x="1309.90" y="1058.30" width="11.3" height="17.2" fill="#FAF9FA"/><rect x="1323.88" y="1058.30" width="11.3" height="17.2" fill="#FAF9FA"/><rect x="1337.86" y="1058.30" width="11.3" height="17.2" fill="#FAF9FA"/><rect x="1351.84" y="1058.30" width="11.3" height="17.2" fill="#FAF9FA"/><rect x="1365.82" y="1058.30" width="11.3" height="17.2" fill="#FAF9FA"/><rect x="1379.80" y="1058.30" width="11.3" height="17.2" fill="#FAF9FA"/><rect x="1393.78" y="1058.30" width="11.3" height="17.2" fill="#FAF9FA"/><rect x="1030.30" y="1079.07" width="11.3" height="17.2" fill="#FAF9FA"/><rect x="1044.28" y="1079.07" width="11.3" height="17.2" fill="#FAF9FA"/><rect x="1058.26" y="1079.07" width="11.3" height="17.2" fill="#FAF9FA"/><rect x="1072.24" y="1079.07" width="11.3" height="17.2" fill="#FAF9FA"/><rect x="1086.22" y="1079.07" width="11.3" height="17.2" fill="#FAF9FA"/><rect x="1100.20" y="1079.07" width="11.3" height="17.2" fill="#FAF9FA"/><rect x="1114.18" y="1079.07" width="11.3" height="17.2" fill="#FAF9FA"/><rect x="1128.16" y="1079.07" width="11.3" height="17.2" fill="#FAF9FA"/><rect x="1142.14" y="1079.07" width="11.3" height="17.2" fill="#FAF9FA"/><rect x="1156.12" y="1079.07" width="11.3" height="17.2" fill="#FAF9FA"/><rect x="1170.10" y="1079.07" width="11.3" height="17.2" fill="#FAF9FA"/><rect x="1184.08" y="1079.07" width="11.3" height="17.2" fill="#FAF9FA"/><rect x="1198.06" y="1079.07" width="11.3" height="17.2" fill="#FAF9FA"/><rect x="1212.04" y="1079.07" width="11.3" height="17.2" fill="#FAF9FA"/><rect x="1226.02" y="1079.07" width="11.3" height="17.2" fill="#EDC0DA"/><rect x="1240.00" y="1079.07" width="11.3" height="17.2" fill="#D42C90"/><rect x="1253.98" y="1079.07" width="11.3" height="17.2" fill="#FAF9FA"/><rect x="1267.96" y="1079.07" width="11.3" height="17.2" fill="#FAF9FA"/><rect x="1281.94" y="1079.07" width="11.3" height="17.2" fill="#FAF9FA"/><rect x="1295.92" y="1079.07" width="11.3" height="17.2" fill="#FAF9FA"/><rect x="1309.90" y="1079.07" width="11.3" height="17.2" fill="#FAF9FA"/><rect x="1323.88" y="1079.07" width="11.3" height="17.2" fill="#FAF9FA"/><rect x="1337.86" y="1079.07" width="11.3" height="17.2" fill="#FAF9FA"/><rect x="1351.84" y="1079.07" width="11.3" height="17.2" fill="#FAF9FA"/><rect x="1365.82" y="1079.07" width="11.3" height="17.2" fill="#FAF9FA"/><rect x="1379.80" y="1079.07" width="11.3" height="17.2" fill="#FAF9FA"/><rect x="1393.78" y="1079.07" width="11.3" height="17.2" fill="#FAF9FA"/><rect x="1030.30" y="1099.84" width="11.3" height="17.2" fill="#FAF9FA"/><rect x="1044.28" y="1099.84" width="11.3" height="17.2" fill="#FAF9FA"/><rect x="1058.26" y="1099.84" width="11.3" height="17.2" fill="#FAF9FA"/><rect x="1072.24" y="1099.84" width="11.3" height="17.2" fill="#FAF9FA"/><rect x="1086.22" y="1099.84" width="11.3" height="17.2" fill="#FAF9FA"/><rect x="1100.20" y="1099.84" width="11.3" height="17.2" fill="#FAF9FA"/><rect x="1114.18" y="1099.84" width="11.3" height="17.2" fill="#FAF9FA"/><rect x="1128.16" y="1099.84" width="11.3" height="17.2" fill="#FAF9FA"/><rect x="1142.14" y="1099.84" width="11.3" height="17.2" fill="#FAF9FA"/><rect x="1156.12" y="1099.84" width="11.3" height="17.2" fill="#FAF9FA"/><rect x="1170.10" y="1099.84" width="11.3" height="17.2" fill="#FAF9FA"/><rect x="1184.08" y="1099.84" width="11.3" height="17.2" fill="#FAF9FA"/><rect x="1198.06" y="1099.84" width="11.3" height="17.2" fill="#F4E0EC"/><rect x="1212.04" y="1099.84" width="11.3" height="17.2" fill="#DE70B0"/><rect x="1226.02" y="1099.84" width="11.3" height="17.2" fill="#FAF9FA"/><rect x="1240.00" y="1099.84" width="11.3" height="17.2" fill="#FAF9FA"/><rect x="1253.98" y="1099.84" width="11.3" height="17.2" fill="#FAF9FA"/><rect x="1267.96" y="1099.84" width="11.3" height="17.2" fill="#FAF9FA"/><rect x="1281.94" y="1099.84" width="11.3" height="17.2" fill="#FAF9FA"/><rect x="1295.92" y="1099.84" width="11.3" height="17.2" fill="#FAF9FA"/><rect x="1309.90" y="1099.84" width="11.3" height="17.2" fill="#FAF9FA"/><rect x="1323.88" y="1099.84" width="11.3" height="17.2" fill="#FAF9FA"/><rect x="1337.86" y="1099.84" width="11.3" height="17.2" fill="#FAF9FA"/><rect x="1351.84" y="1099.84" width="11.3" height="17.2" fill="#FAF9FA"/><rect x="1365.82" y="1099.84" width="11.3" height="17.2" fill="#FAF9FA"/><rect x="1379.80" y="1099.84" width="11.3" height="17.2" fill="#FAF9FA"/><rect x="1393.78" y="1099.84" width="11.3" height="17.2" fill="#FAF9FA"/><rect x="1030.30" y="1120.61" width="11.3" height="17.2" fill="#FAF9FA"/><rect x="1044.28" y="1120.61" width="11.3" height="17.2" fill="#FAF9FA"/><rect x="1058.26" y="1120.61" width="11.3" height="17.2" fill="#FAF9FA"/><rect x="1072.24" y="1120.61" width="11.3" height="17.2" fill="#FAF9FA"/><rect x="1086.22" y="1120.61" width="11.3" height="17.2" fill="#FAF9FA"/><rect x="1100.20" y="1120.61" width="11.3" height="17.2" fill="#FAF9FA"/><rect x="1114.18" y="1120.61" width="11.3" height="17.2" fill="#FAF9FA"/><rect x="1128.16" y="1120.61" width="11.3" height="17.2" fill="#FAF9FA"/><rect x="1142.14" y="1120.61" width="11.3" height="17.2" fill="#FAF9FA"/><rect x="1156.12" y="1120.61" width="11.3" height="17.2" fill="#FAF9FA"/><rect x="1170.10" y="1120.61" width="11.3" height="17.2" fill="#FAF9FA"/><rect x="1184.08" y="1120.61" width="11.3" height="17.2" fill="#FAF9FA"/><rect x="1198.06" y="1120.61" width="11.3" height="17.2" fill="#FAF9FA"/><rect x="1212.04" y="1120.61" width="11.3" height="17.2" fill="#FAF9FA"/><rect x="1226.02" y="1120.61" width="11.3" height="17.2" fill="#FAF9FA"/><rect x="1240.00" y="1120.61" width="11.3" height="17.2" fill="#FAF9FA"/><rect x="1253.98" y="1120.61" width="11.3" height="17.2" fill="#FAF9FA"/><rect x="1267.96" y="1120.61" width="11.3" height="17.2" fill="#FAF9FA"/><rect x="1281.94" y="1120.61" width="11.3" height="17.2" fill="#FAF9FA"/><rect x="1295.92" y="1120.61" width="11.3" height="17.2" fill="#FAF9FA"/><rect x="1309.90" y="1120.61" width="11.3" height="17.2" fill="#FAF9FA"/><rect x="1323.88" y="1120.61" width="11.3" height="17.2" fill="#FAF9FA"/><rect x="1337.86" y="1120.61" width="11.3" height="17.2" fill="#FAF9FA"/><rect x="1351.84" y="1120.61" width="11.3" height="17.2" fill="#F4E4EE"/><rect x="1365.82" y="1120.61" width="11.3" height="17.2" fill="#FAF9FA"/><rect x="1379.80" y="1120.61" width="11.3" height="17.2" fill="#FAF9FA"/><rect x="1393.78" y="1120.61" width="11.3" height="17.2" fill="#FAF9FA"/><rect x="1030.30" y="1141.38" width="11.3" height="17.2" fill="#FAF9FA"/><rect x="1044.28" y="1141.38" width="11.3" height="17.2" fill="#FAF9FA"/><rect x="1058.26" y="1141.38" width="11.3" height="17.2" fill="#FAF9FA"/><rect x="1072.24" y="1141.38" width="11.3" height="17.2" fill="#FAF9FA"/><rect x="1086.22" y="1141.38" width="11.3" height="17.2" fill="#FAF9FA"/><rect x="1100.20" y="1141.38" width="11.3" height="17.2" fill="#FAF9FA"/><rect x="1114.18" y="1141.38" width="11.3" height="17.2" fill="#FAF9FA"/><rect x="1128.16" y="1141.38" width="11.3" height="17.2" fill="#FAF9FA"/><rect x="1142.14" y="1141.38" width="11.3" height="17.2" fill="#FAF9FA"/><rect x="1156.12" y="1141.38" width="11.3" height="17.2" fill="#FAF9FA"/><rect x="1170.10" y="1141.38" width="11.3" height="17.2" fill="#FAF9FA"/><rect x="1184.08" y="1141.38" width="11.3" height="17.2" fill="#FAF9FA"/><rect x="1198.06" y="1141.38" width="11.3" height="17.2" fill="#FAF9FA"/><rect x="1212.04" y="1141.38" width="11.3" height="17.2" fill="#FAF9FA"/><rect x="1226.02" y="1141.38" width="11.3" height="17.2" fill="#FAF9FA"/><rect x="1240.00" y="1141.38" width="11.3" height="17.2" fill="#FAF9FA"/><rect x="1253.98" y="1141.38" width="11.3" height="17.2" fill="#FAF9FA"/><rect x="1267.96" y="1141.38" width="11.3" height="17.2" fill="#FAF9FA"/><rect x="1281.94" y="1141.38" width="11.3" height="17.2" fill="#FAF9FA"/><rect x="1295.92" y="1141.38" width="11.3" height="17.2" fill="#FAF9FA"/><rect x="1309.90" y="1141.38" width="11.3" height="17.2" fill="#FAF9FA"/><rect x="1323.88" y="1141.38" width="11.3" height="17.2" fill="#FAF9FA"/><rect x="1337.86" y="1141.38" width="11.3" height="17.2" fill="#FAF9FA"/><rect x="1351.84" y="1141.38" width="11.3" height="17.2" fill="#FAF9FA"/><rect x="1365.82" y="1141.38" width="11.3" height="17.2" fill="#E48CBE"/><rect x="1379.80" y="1141.38" width="11.3" height="17.2" fill="#FAF9FA"/><rect x="1393.78" y="1141.38" width="11.3" height="17.2" fill="#FAF9FA"/><rect x="1030.30" y="1162.15" width="11.3" height="17.2" fill="#FAF9FA"/><rect x="1044.28" y="1162.15" width="11.3" height="17.2" fill="#FAF9FA"/><rect x="1058.26" y="1162.15" width="11.3" height="17.2" fill="#FAF9FA"/><rect x="1072.24" y="1162.15" width="11.3" height="17.2" fill="#FAF9FA"/><rect x="1086.22" y="1162.15" width="11.3" height="17.2" fill="#FAF9FA"/><rect x="1100.20" y="1162.15" width="11.3" height="17.2" fill="#FAF9FA"/><rect x="1114.18" y="1162.15" width="11.3" height="17.2" fill="#FAF9FA"/><rect x="1128.16" y="1162.15" width="11.3" height="17.2" fill="#FAF9FA"/><rect x="1142.14" y="1162.15" width="11.3" height="17.2" fill="#FAF9FA"/><rect x="1156.12" y="1162.15" width="11.3" height="17.2" fill="#FAF9FA"/><rect x="1170.10" y="1162.15" width="11.3" height="17.2" fill="#FAF9FA"/><rect x="1184.08" y="1162.15" width="11.3" height="17.2" fill="#FAF9FA"/><rect x="1198.06" y="1162.15" width="11.3" height="17.2" fill="#FAF9FA"/><rect x="1212.04" y="1162.15" width="11.3" height="17.2" fill="#FAF9FA"/><rect x="1226.02" y="1162.15" width="11.3" height="17.2" fill="#FAF9FA"/><rect x="1240.00" y="1162.15" width="11.3" height="17.2" fill="#FAF9FA"/><rect x="1253.98" y="1162.15" width="11.3" height="17.2" fill="#FAF9FA"/><rect x="1267.96" y="1162.15" width="11.3" height="17.2" fill="#FAF9FA"/><rect x="1281.94" y="1162.15" width="11.3" height="17.2" fill="#FAF9FA"/><rect x="1295.92" y="1162.15" width="11.3" height="17.2" fill="#FAF9FA"/><rect x="1309.90" y="1162.15" width="11.3" height="17.2" fill="#FAF9FA"/><rect x="1323.88" y="1162.15" width="11.3" height="17.2" fill="#FAF9FA"/><rect x="1337.86" y="1162.15" width="11.3" height="17.2" fill="#D02088"/><rect x="1351.84" y="1162.15" width="11.3" height="17.2" fill="#FAF9FA"/><rect x="1365.82" y="1162.15" width="11.3" height="17.2" fill="#FAF9FA"/><rect x="1379.80" y="1162.15" width="11.3" height="17.2" fill="#FAF9FA"/><rect x="1393.78" y="1162.15" width="11.3" height="17.2" fill="#FAF9FA"/><rect x="1030.30" y="1182.92" width="11.3" height="17.2" fill="#FAF9FA"/><rect x="1044.28" y="1182.92" width="11.3" height="17.2" fill="#FAF9FA"/><rect x="1058.26" y="1182.92" width="11.3" height="17.2" fill="#FAF9FA"/><rect x="1072.24" y="1182.92" width="11.3" height="17.2" fill="#FAF9FA"/><rect x="1086.22" y="1182.92" width="11.3" height="17.2" fill="#FAF9FA"/><rect x="1100.20" y="1182.92" width="11.3" height="17.2" fill="#FAF9FA"/><rect x="1114.18" y="1182.92" width="11.3" height="17.2" fill="#FAF9FA"/><rect x="1128.16" y="1182.92" width="11.3" height="17.2" fill="#FAF9FA"/><rect x="1142.14" y="1182.92" width="11.3" height="17.2" fill="#FAF9FA"/><rect x="1156.12" y="1182.92" width="11.3" height="17.2" fill="#D02890"/><rect x="1170.10" y="1182.92" width="11.3" height="17.2" fill="#D850A0"/><rect x="1184.08" y="1182.92" width="11.3" height="17.2" fill="#D23494"/><rect x="1198.06" y="1182.92" width="11.3" height="17.2" fill="#FAF9FA"/><rect x="1212.04" y="1182.92" width="11.3" height="17.2" fill="#FAF9FA"/><rect x="1226.02" y="1182.92" width="11.3" height="17.2" fill="#FAF9FA"/><rect x="1240.00" y="1182.92" width="11.3" height="17.2" fill="#FAF9FA"/><rect x="1253.98" y="1182.92" width="11.3" height="17.2" fill="#FAF9FA"/><rect x="1267.96" y="1182.92" width="11.3" height="17.2" fill="#FAF9FA"/><rect x="1281.94" y="1182.92" width="11.3" height="17.2" fill="#FAF9FA"/><rect x="1295.92" y="1182.92" width="11.3" height="17.2" fill="#FAF9FA"/><rect x="1309.90" y="1182.92" width="11.3" height="17.2" fill="#FAF9FA"/><rect x="1323.88" y="1182.92" width="11.3" height="17.2" fill="#FAF9FA"/><rect x="1337.86" y="1182.92" width="11.3" height="17.2" fill="#FAF9FA"/><rect x="1351.84" y="1182.92" width="11.3" height="17.2" fill="#FAF9FA"/><rect x="1365.82" y="1182.92" width="11.3" height="17.2" fill="#FAF9FA"/><rect x="1379.80" y="1182.92" width="11.3" height="17.2" fill="#FAF9FA"/><rect x="1393.78" y="1182.92" width="11.3" height="17.2" fill="#FAF9FA"/><rect x="1030.30" y="1203.69" width="11.3" height="17.2" fill="#FAF9FA"/><rect x="1044.28" y="1203.69" width="11.3" height="17.2" fill="#FAF9FA"/><rect x="1058.26" y="1203.69" width="11.3" height="17.2" fill="#FAF9FA"/><rect x="1072.24" y="1203.69" width="11.3" height="17.2" fill="#FAF9FA"/><rect x="1086.22" y="1203.69" width="11.3" height="17.2" fill="#FAF9FA"/><rect x="1100.20" y="1203.69" width="11.3" height="17.2" fill="#FAF9FA"/><rect x="1114.18" y="1203.69" width="11.3" height="17.2" fill="#FAF9FA"/><rect x="1128.16" y="1203.69" width="11.3" height="17.2" fill="#FAF9FA"/><rect x="1142.14" y="1203.69" width="11.3" height="17.2" fill="#FAF9FA"/><rect x="1156.12" y="1203.69" width="11.3" height="17.2" fill="#FAF9FA"/><rect x="1170.10" y="1203.69" width="11.3" height="17.2" fill="#FAF9FA"/><rect x="1184.08" y="1203.69" width="11.3" height="17.2" fill="#FAF9FA"/><rect x="1198.06" y="1203.69" width="11.3" height="17.2" fill="#FAF9FA"/><rect x="1212.04" y="1203.69" width="11.3" height="17.2" fill="#FAF9FA"/><rect x="1226.02" y="1203.69" width="11.3" height="17.2" fill="#FAF9FA"/><rect x="1240.00" y="1203.69" width="11.3" height="17.2" fill="#FAF9FA"/><rect x="1253.98" y="1203.69" width="11.3" height="17.2" fill="#FAF9FA"/><rect x="1267.96" y="1203.69" width="11.3" height="17.2" fill="#FAF9FA"/><rect x="1281.94" y="1203.69" width="11.3" height="17.2" fill="#FAF9FA"/><rect x="1295.92" y="1203.69" width="11.3" height="17.2" fill="#FAF9FA"/><rect x="1309.90" y="1203.69" width="11.3" height="17.2" fill="#FAF9FA"/><rect x="1323.88" y="1203.69" width="11.3" height="17.2" fill="#FAF9FA"/><rect x="1337.86" y="1203.69" width="11.3" height="17.2" fill="#FAF9FA"/><rect x="1351.84" y="1203.69" width="11.3" height="17.2" fill="#FAF9FA"/><rect x="1365.82" y="1203.69" width="11.3" height="17.2" fill="#FAF9FA"/><rect x="1379.80" y="1203.69" width="11.3" height="17.2" fill="#EFC8DE"/><rect x="1393.78" y="1203.69" width="11.3" height="17.2" fill="#FAF9FA"/><rect x="1030.30" y="1224.46" width="11.3" height="17.2" fill="#FAF9FA"/><rect x="1044.28" y="1224.46" width="11.3" height="17.2" fill="#FAF9FA"/><rect x="1058.26" y="1224.46" width="11.3" height="17.2" fill="#FAF9FA"/><rect x="1072.24" y="1224.46" width="11.3" height="17.2" fill="#FAF9FA"/><rect x="1086.22" y="1224.46" width="11.3" height="17.2" fill="#FAF9FA"/><rect x="1100.20" y="1224.46" width="11.3" height="17.2" fill="#FAF9FA"/><rect x="1114.18" y="1224.46" width="11.3" height="17.2" fill="#FAF9FA"/><rect x="1128.16" y="1224.46" width="11.3" height="17.2" fill="#FAF9FA"/><rect x="1142.14" y="1224.46" width="11.3" height="17.2" fill="#FAF9FA"/><rect x="1156.12" y="1224.46" width="11.3" height="17.2" fill="#FAF9FA"/><rect x="1170.10" y="1224.46" width="11.3" height="17.2" fill="#FAF9FA"/><rect x="1184.08" y="1224.46" width="11.3" height="17.2" fill="#FAF9FA"/><rect x="1198.06" y="1224.46" width="11.3" height="17.2" fill="#FAF9FA"/><rect x="1212.04" y="1224.46" width="11.3" height="17.2" fill="#FAF9FA"/><rect x="1226.02" y="1224.46" width="11.3" height="17.2" fill="#FAF9FA"/><rect x="1240.00" y="1224.46" width="11.3" height="17.2" fill="#FAF9FA"/><rect x="1253.98" y="1224.46" width="11.3" height="17.2" fill="#FAF9FA"/><rect x="1267.96" y="1224.46" width="11.3" height="17.2" fill="#FAF9FA"/><rect x="1281.94" y="1224.46" width="11.3" height="17.2" fill="#FAF9FA"/><rect x="1295.92" y="1224.46" width="11.3" height="17.2" fill="#FAF9FA"/><rect x="1309.90" y="1224.46" width="11.3" height="17.2" fill="#DA58A6"/><rect x="1323.88" y="1224.46" width="11.3" height="17.2" fill="#FAF9FA"/><rect x="1337.86" y="1224.46" width="11.3" height="17.2" fill="#FAF9FA"/><rect x="1351.84" y="1224.46" width="11.3" height="17.2" fill="#FAF9FA"/><rect x="1365.82" y="1224.46" width="11.3" height="17.2" fill="#FAF9FA"/><rect x="1379.80" y="1224.46" width="11.3" height="17.2" fill="#FAF9FA"/><rect x="1393.78" y="1224.46" width="11.3" height="17.2" fill="#FAF9FA"/><rect x="1030.30" y="1245.23" width="11.3" height="17.2" fill="#FAF9FA"/><rect x="1044.28" y="1245.23" width="11.3" height="17.2" fill="#FAF9FA"/><rect x="1058.26" y="1245.23" width="11.3" height="17.2" fill="#FAF9FA"/><rect x="1072.24" y="1245.23" width="11.3" height="17.2" fill="#FAF9FA"/><rect x="1086.22" y="1245.23" width="11.3" height="17.2" fill="#FAF9FA"/><rect x="1100.20" y="1245.23" width="11.3" height="17.2" fill="#FAF9FA"/><rect x="1114.18" y="1245.23" width="11.3" height="17.2" fill="#FAF9FA"/><rect x="1128.16" y="1245.23" width="11.3" height="17.2" fill="#FAF9FA"/><rect x="1142.14" y="1245.23" width="11.3" height="17.2" fill="#FAF9FA"/><rect x="1156.12" y="1245.23" width="11.3" height="17.2" fill="#FAF9FA"/><rect x="1170.10" y="1245.23" width="11.3" height="17.2" fill="#FAF9FA"/><rect x="1184.08" y="1245.23" width="11.3" height="17.2" fill="#FAF9FA"/><rect x="1198.06" y="1245.23" width="11.3" height="17.2" fill="#FAF9FA"/><rect x="1212.04" y="1245.23" width="11.3" height="17.2" fill="#FAF9FA"/><rect x="1226.02" y="1245.23" width="11.3" height="17.2" fill="#FAF9FA"/><rect x="1240.00" y="1245.23" width="11.3" height="17.2" fill="#FAF9FA"/><rect x="1253.98" y="1245.23" width="11.3" height="17.2" fill="#FAF9FA"/><rect x="1267.96" y="1245.23" width="11.3" height="17.2" fill="#FAF9FA"/><rect x="1281.94" y="1245.23" width="11.3" height="17.2" fill="#FAF9FA"/><rect x="1295.92" y="1245.23" width="11.3" height="17.2" fill="#E8A8CE"/><rect x="1309.90" y="1245.23" width="11.3" height="17.2" fill="#FAF9FA"/><rect x="1323.88" y="1245.23" width="11.3" height="17.2" fill="#FAF9FA"/><rect x="1337.86" y="1245.23" width="11.3" height="17.2" fill="#FAF9FA"/><rect x="1351.84" y="1245.23" width="11.3" height="17.2" fill="#FAF9FA"/><rect x="1365.82" y="1245.23" width="11.3" height="17.2" fill="#FAF9FA"/><rect x="1379.80" y="1245.23" width="11.3" height="17.2" fill="#FAF9FA"/><rect x="1393.78" y="1245.23" width="11.3" height="17.2" fill="#FAF9FA"/><rect x="1030.30" y="1266.00" width="11.3" height="17.2" fill="#FAF9FA"/><rect x="1044.28" y="1266.00" width="11.3" height="17.2" fill="#FAF9FA"/><rect x="1058.26" y="1266.00" width="11.3" height="17.2" fill="#FAF9FA"/><rect x="1072.24" y="1266.00" width="11.3" height="17.2" fill="#FAF9FA"/><rect x="1086.22" y="1266.00" width="11.3" height="17.2" fill="#FAF9FA"/><rect x="1100.20" y="1266.00" width="11.3" height="17.2" fill="#EAAAD0"/><rect x="1114.18" y="1266.00" width="11.3" height="17.2" fill="#F2DCEA"/><rect x="1128.16" y="1266.00" width="11.3" height="17.2" fill="#D42C90"/><rect x="1142.14" y="1266.00" width="11.3" height="17.2" fill="#F4E0EC"/><rect x="1156.12" y="1266.00" width="11.3" height="17.2" fill="#FAF9FA"/><rect x="1170.10" y="1266.00" width="11.3" height="17.2" fill="#FAF9FA"/><rect x="1184.08" y="1266.00" width="11.3" height="17.2" fill="#FAF9FA"/><rect x="1198.06" y="1266.00" width="11.3" height="17.2" fill="#FAF9FA"/><rect x="1212.04" y="1266.00" width="11.3" height="17.2" fill="#FAF9FA"/><rect x="1226.02" y="1266.00" width="11.3" height="17.2" fill="#FAF9FA"/><rect x="1240.00" y="1266.00" width="11.3" height="17.2" fill="#FAF9FA"/><rect x="1253.98" y="1266.00" width="11.3" height="17.2" fill="#FAF9FA"/><rect x="1267.96" y="1266.00" width="11.3" height="17.2" fill="#FAF9FA"/><rect x="1281.94" y="1266.00" width="11.3" height="17.2" fill="#FAF9FA"/><rect x="1295.92" y="1266.00" width="11.3" height="17.2" fill="#FAF9FA"/><rect x="1309.90" y="1266.00" width="11.3" height="17.2" fill="#FAF9FA"/><rect x="1323.88" y="1266.00" width="11.3" height="17.2" fill="#FAF9FA"/><rect x="1337.86" y="1266.00" width="11.3" height="17.2" fill="#FAF9FA"/><rect x="1351.84" y="1266.00" width="11.3" height="17.2" fill="#FAF9FA"/><rect x="1365.82" y="1266.00" width="11.3" height="17.2" fill="#FAF9FA"/><rect x="1379.80" y="1266.00" width="11.3" height="17.2" fill="#FAF9FA"/><rect x="1393.78" y="1266.00" width="11.3" height="17.2" fill="#FAF9FA"/><rect x="1030.30" y="1286.77" width="11.3" height="17.2" fill="#FAF9FA"/><rect x="1044.28" y="1286.77" width="11.3" height="17.2" fill="#FAF9FA"/><rect x="1058.26" y="1286.77" width="11.3" height="17.2" fill="#FAF9FA"/><rect x="1072.24" y="1286.77" width="11.3" height="17.2" fill="#FAF9FA"/><rect x="1086.22" y="1286.77" width="11.3" height="17.2" fill="#FAF9FA"/><rect x="1100.20" y="1286.77" width="11.3" height="17.2" fill="#FAF9FA"/><rect x="1114.18" y="1286.77" width="11.3" height="17.2" fill="#FAF9FA"/><rect x="1128.16" y="1286.77" width="11.3" height="17.2" fill="#FAF9FA"/><rect x="1142.14" y="1286.77" width="11.3" height="17.2" fill="#FAF9FA"/><rect x="1156.12" y="1286.77" width="11.3" height="17.2" fill="#FAF9FA"/><rect x="1170.10" y="1286.77" width="11.3" height="17.2" fill="#FAF9FA"/><rect x="1184.08" y="1286.77" width="11.3" height="17.2" fill="#FAF9FA"/><rect x="1198.06" y="1286.77" width="11.3" height="17.2" fill="#FAF9FA"/><rect x="1212.04" y="1286.77" width="11.3" height="17.2" fill="#FAF9FA"/><rect x="1226.02" y="1286.77" width="11.3" height="17.2" fill="#FAF9FA"/><rect x="1240.00" y="1286.77" width="11.3" height="17.2" fill="#FAF9FA"/><rect x="1253.98" y="1286.77" width="11.3" height="17.2" fill="#FAF9FA"/><rect x="1267.96" y="1286.77" width="11.3" height="17.2" fill="#FAF9FA"/><rect x="1281.94" y="1286.77" width="11.3" height="17.2" fill="#D43C98"/><rect x="1295.92" y="1286.77" width="11.3" height="17.2" fill="#FAF9FA"/><rect x="1309.90" y="1286.77" width="11.3" height="17.2" fill="#FAF9FA"/><rect x="1323.88" y="1286.77" width="11.3" height="17.2" fill="#FAF9FA"/><rect x="1337.86" y="1286.77" width="11.3" height="17.2" fill="#FAF9FA"/><rect x="1351.84" y="1286.77" width="11.3" height="17.2" fill="#FAF9FA"/><rect x="1365.82" y="1286.77" width="11.3" height="17.2" fill="#FAF9FA"/><rect x="1379.80" y="1286.77" width="11.3" height="17.2" fill="#FAF9FA"/><rect x="1393.78" y="1286.77" width="11.3" height="17.2" fill="#FAF9FA"/><rect x="1030.30" y="1307.54" width="11.3" height="17.2" fill="#FAF9FA"/><rect x="1044.28" y="1307.54" width="11.3" height="17.2" fill="#FAF9FA"/><rect x="1058.26" y="1307.54" width="11.3" height="17.2" fill="#FAF9FA"/><rect x="1072.24" y="1307.54" width="11.3" height="17.2" fill="#FAF9FA"/><rect x="1086.22" y="1307.54" width="11.3" height="17.2" fill="#FAF9FA"/><rect x="1100.20" y="1307.54" width="11.3" height="17.2" fill="#FAF9FA"/><rect x="1114.18" y="1307.54" width="11.3" height="17.2" fill="#FAF9FA"/><rect x="1128.16" y="1307.54" width="11.3" height="17.2" fill="#FAF9FA"/><rect x="1142.14" y="1307.54" width="11.3" height="17.2" fill="#FAF9FA"/><rect x="1156.12" y="1307.54" width="11.3" height="17.2" fill="#FAF9FA"/><rect x="1170.10" y="1307.54" width="11.3" height="17.2" fill="#FAF9FA"/><rect x="1184.08" y="1307.54" width="11.3" height="17.2" fill="#FAF9FA"/><rect x="1198.06" y="1307.54" width="11.3" height="17.2" fill="#FAF9FA"/><rect x="1212.04" y="1307.54" width="11.3" height="17.2" fill="#FAF9FA"/><rect x="1226.02" y="1307.54" width="11.3" height="17.2" fill="#FAF9FA"/><rect x="1240.00" y="1307.54" width="11.3" height="17.2" fill="#FAF9FA"/><rect x="1253.98" y="1307.54" width="11.3" height="17.2" fill="#FAF9FA"/><rect x="1267.96" y="1307.54" width="11.3" height="17.2" fill="#FAF9FA"/><rect x="1281.94" y="1307.54" width="11.3" height="17.2" fill="#FAF9FA"/><rect x="1295.92" y="1307.54" width="11.3" height="17.2" fill="#FAF9FA"/><rect x="1309.90" y="1307.54" width="11.3" height="17.2" fill="#FAF9FA"/><rect x="1323.88" y="1307.54" width="11.3" height="17.2" fill="#FAF9FA"/><rect x="1337.86" y="1307.54" width="11.3" height="17.2" fill="#FAF9FA"/><rect x="1351.84" y="1307.54" width="11.3" height="17.2" fill="#FAF9FA"/><rect x="1365.82" y="1307.54" width="11.3" height="17.2" fill="#FAF9FA"/><rect x="1379.80" y="1307.54" width="11.3" height="17.2" fill="#FAF9FA"/><rect x="1393.78" y="1307.54" width="11.3" height="17.2" fill="#E48ABE"/><rect x="1030.30" y="1328.31" width="11.3" height="17.2" fill="#FAF9FA"/><rect x="1044.28" y="1328.31" width="11.3" height="17.2" fill="#FAF9FA"/><rect x="1058.26" y="1328.31" width="11.3" height="17.2" fill="#FAF9FA"/><rect x="1072.24" y="1328.31" width="11.3" height="17.2" fill="#FAF9FA"/><rect x="1086.22" y="1328.31" width="11.3" height="17.2" fill="#FAF9FA"/><rect x="1100.20" y="1328.31" width="11.3" height="17.2" fill="#FAF9FA"/><rect x="1114.18" y="1328.31" width="11.3" height="17.2" fill="#FAF9FA"/><rect x="1128.16" y="1328.31" width="11.3" height="17.2" fill="#FAF9FA"/><rect x="1142.14" y="1328.31" width="11.3" height="17.2" fill="#FAF9FA"/><rect x="1156.12" y="1328.31" width="11.3" height="17.2" fill="#FAF9FA"/><rect x="1170.10" y="1328.31" width="11.3" height="17.2" fill="#FAF9FA"/><rect x="1184.08" y="1328.31" width="11.3" height="17.2" fill="#FAF9FA"/><rect x="1198.06" y="1328.31" width="11.3" height="17.2" fill="#FAF9FA"/><rect x="1212.04" y="1328.31" width="11.3" height="17.2" fill="#FAF9FA"/><rect x="1226.02" y="1328.31" width="11.3" height="17.2" fill="#FAF9FA"/><rect x="1240.00" y="1328.31" width="11.3" height="17.2" fill="#FAF9FA"/><rect x="1253.98" y="1328.31" width="11.3" height="17.2" fill="#FAF9FA"/><rect x="1267.96" y="1328.31" width="11.3" height="17.2" fill="#FAF9FA"/><rect x="1281.94" y="1328.31" width="11.3" height="17.2" fill="#FAF9FA"/><rect x="1295.92" y="1328.31" width="11.3" height="17.2" fill="#FAF9FA"/><rect x="1309.90" y="1328.31" width="11.3" height="17.2" fill="#FAF9FA"/><rect x="1323.88" y="1328.31" width="11.3" height="17.2" fill="#FAF9FA"/><rect x="1337.86" y="1328.31" width="11.3" height="17.2" fill="#FAF9FA"/><rect x="1351.84" y="1328.31" width="11.3" height="17.2" fill="#FAF9FA"/><rect x="1365.82" y="1328.31" width="11.3" height="17.2" fill="#FAF9FA"/><rect x="1379.80" y="1328.31" width="11.3" height="17.2" fill="#FAF9FA"/><rect x="1393.78" y="1328.31" width="11.3" height="17.2" fill="#E078B4"/><rect x="1030.30" y="1349.08" width="11.3" height="17.2" fill="#FAF9FA"/><rect x="1044.28" y="1349.08" width="11.3" height="17.2" fill="#FAF9FA"/><rect x="1058.26" y="1349.08" width="11.3" height="17.2" fill="#FAF9FA"/><rect x="1072.24" y="1349.08" width="11.3" height="17.2" fill="#FAF9FA"/><rect x="1086.22" y="1349.08" width="11.3" height="17.2" fill="#E078B4"/><rect x="1100.20" y="1349.08" width="11.3" height="17.2" fill="#FAF9FA"/><rect x="1114.18" y="1349.08" width="11.3" height="17.2" fill="#FAF9FA"/><rect x="1128.16" y="1349.08" width="11.3" height="17.2" fill="#FAF9FA"/><rect x="1142.14" y="1349.08" width="11.3" height="17.2" fill="#FAF9FA"/><rect x="1156.12" y="1349.08" width="11.3" height="17.2" fill="#FAF9FA"/><rect x="1170.10" y="1349.08" width="11.3" height="17.2" fill="#FAF9FA"/><rect x="1184.08" y="1349.08" width="11.3" height="17.2" fill="#FAF9FA"/><rect x="1198.06" y="1349.08" width="11.3" height="17.2" fill="#FAF9FA"/><rect x="1212.04" y="1349.08" width="11.3" height="17.2" fill="#FAF9FA"/><rect x="1226.02" y="1349.08" width="11.3" height="17.2" fill="#FAF9FA"/><rect x="1240.00" y="1349.08" width="11.3" height="17.2" fill="#FAF9FA"/><rect x="1253.98" y="1349.08" width="11.3" height="17.2" fill="#FAF9FA"/><rect x="1267.96" y="1349.08" width="11.3" height="17.2" fill="#FAF9FA"/><rect x="1281.94" y="1349.08" width="11.3" height="17.2" fill="#FAF9FA"/><rect x="1295.92" y="1349.08" width="11.3" height="17.2" fill="#FAF9FA"/><rect x="1309.90" y="1349.08" width="11.3" height="17.2" fill="#FAF9FA"/><rect x="1323.88" y="1349.08" width="11.3" height="17.2" fill="#FAF9FA"/><rect x="1337.86" y="1349.08" width="11.3" height="17.2" fill="#FAF9FA"/><rect x="1351.84" y="1349.08" width="11.3" height="17.2" fill="#FAF9FA"/><rect x="1365.82" y="1349.08" width="11.3" height="17.2" fill="#FAF9FA"/><rect x="1379.80" y="1349.08" width="11.3" height="17.2" fill="#FAF9FA"/><rect x="1393.78" y="1349.08" width="11.3" height="17.2" fill="#FAF9FA"/><rect x="1030.30" y="1369.85" width="11.3" height="17.2" fill="#FAF9FA"/><rect x="1044.28" y="1369.85" width="11.3" height="17.2" fill="#FAF9FA"/><rect x="1058.26" y="1369.85" width="11.3" height="17.2" fill="#FAF9FA"/><rect x="1072.24" y="1369.85" width="11.3" height="17.2" fill="#F2DCEA"/><rect x="1086.22" y="1369.85" width="11.3" height="17.2" fill="#E8A0CA"/><rect x="1100.20" y="1369.85" width="11.3" height="17.2" fill="#FAF9FA"/><rect x="1114.18" y="1369.85" width="11.3" height="17.2" fill="#FAF9FA"/><rect x="1128.16" y="1369.85" width="11.3" height="17.2" fill="#FAF9FA"/><rect x="1142.14" y="1369.85" width="11.3" height="17.2" fill="#FAF9FA"/><rect x="1156.12" y="1369.85" width="11.3" height="17.2" fill="#FAF9FA"/><rect x="1170.10" y="1369.85" width="11.3" height="17.2" fill="#FAF9FA"/><rect x="1184.08" y="1369.85" width="11.3" height="17.2" fill="#FAF9FA"/><rect x="1198.06" y="1369.85" width="11.3" height="17.2" fill="#FAF9FA"/><rect x="1212.04" y="1369.85" width="11.3" height="17.2" fill="#FAF9FA"/><rect x="1226.02" y="1369.85" width="11.3" height="17.2" fill="#FAF9FA"/><rect x="1240.00" y="1369.85" width="11.3" height="17.2" fill="#FAF9FA"/><rect x="1253.98" y="1369.85" width="11.3" height="17.2" fill="#FAF9FA"/><rect x="1267.96" y="1369.85" width="11.3" height="17.2" fill="#FAF9FA"/><rect x="1281.94" y="1369.85" width="11.3" height="17.2" fill="#FAF9FA"/><rect x="1295.92" y="1369.85" width="11.3" height="17.2" fill="#FAF9FA"/><rect x="1309.90" y="1369.85" width="11.3" height="17.2" fill="#FAF9FA"/><rect x="1323.88" y="1369.85" width="11.3" height="17.2" fill="#FAF9FA"/><rect x="1337.86" y="1369.85" width="11.3" height="17.2" fill="#FAF9FA"/><rect x="1351.84" y="1369.85" width="11.3" height="17.2" fill="#FAF9FA"/><rect x="1365.82" y="1369.85" width="11.3" height="17.2" fill="#FAF9FA"/><rect x="1379.80" y="1369.85" width="11.3" height="17.2" fill="#FAF9FA"/><rect x="1393.78" y="1369.85" width="11.3" height="17.2" fill="#FAF9FA"/><rect x="1030.30" y="1390.62" width="11.3" height="17.2" fill="#E080B8"/><rect x="1044.28" y="1390.62" width="11.3" height="17.2" fill="#DC60AA"/><rect x="1058.26" y="1390.62" width="11.3" height="17.2" fill="#EAAAD0"/><rect x="1072.24" y="1390.62" width="11.3" height="17.2" fill="#E078B4"/><rect x="1086.22" y="1390.62" width="11.3" height="17.2" fill="#E078B4"/><rect x="1100.20" y="1390.62" width="11.3" height="17.2" fill="#FAF9FA"/><rect x="1114.18" y="1390.62" width="11.3" height="17.2" fill="#FAF9FA"/><rect x="1128.16" y="1390.62" width="11.3" height="17.2" fill="#FAF9FA"/><rect x="1142.14" y="1390.62" width="11.3" height="17.2" fill="#FAF9FA"/><rect x="1156.12" y="1390.62" width="11.3" height="17.2" fill="#FAF9FA"/><rect x="1170.10" y="1390.62" width="11.3" height="17.2" fill="#FAF9FA"/><rect x="1184.08" y="1390.62" width="11.3" height="17.2" fill="#FAF9FA"/><rect x="1198.06" y="1390.62" width="11.3" height="17.2" fill="#FAF9FA"/><rect x="1212.04" y="1390.62" width="11.3" height="17.2" fill="#FAF9FA"/><rect x="1226.02" y="1390.62" width="11.3" height="17.2" fill="#FAF9FA"/><rect x="1240.00" y="1390.62" width="11.3" height="17.2" fill="#FAF9FA"/><rect x="1253.98" y="1390.62" width="11.3" height="17.2" fill="#FAF9FA"/><rect x="1267.96" y="1390.62" width="11.3" height="17.2" fill="#FAF9FA"/><rect x="1281.94" y="1390.62" width="11.3" height="17.2" fill="#FAF9FA"/><rect x="1295.92" y="1390.62" width="11.3" height="17.2" fill="#FAF9FA"/><rect x="1309.90" y="1390.62" width="11.3" height="17.2" fill="#FAF9FA"/><rect x="1323.88" y="1390.62" width="11.3" height="17.2" fill="#FAF9FA"/><rect x="1337.86" y="1390.62" width="11.3" height="17.2" fill="#FAF9FA"/><rect x="1351.84" y="1390.62" width="11.3" height="17.2" fill="#FAF9FA"/><rect x="1365.82" y="1390.62" width="11.3" height="17.2" fill="#FAF9FA"/><rect x="1379.80" y="1390.62" width="11.3" height="17.2" fill="#FAF9FA"/><rect x="1393.78" y="1390.62" width="11.3" height="17.2" fill="#FAF9FA"/><rect x="1030.30" y="1411.39" width="11.3" height="17.2" fill="#FAF9FA"/><rect x="1044.28" y="1411.39" width="11.3" height="17.2" fill="#FAF9FA"/><rect x="1058.26" y="1411.39" width="11.3" height="17.2" fill="#FAF9FA"/><rect x="1072.24" y="1411.39" width="11.3" height="17.2" fill="#FAF9FA"/><rect x="1086.22" y="1411.39" width="11.3" height="17.2" fill="#FAF9FA"/><rect x="1100.20" y="1411.39" width="11.3" height="17.2" fill="#FAF9FA"/><rect x="1114.18" y="1411.39" width="11.3" height="17.2" fill="#FAF9FA"/><rect x="1128.16" y="1411.39" width="11.3" height="17.2" fill="#FAF9FA"/><rect x="1142.14" y="1411.39" width="11.3" height="17.2" fill="#FAF9FA"/><rect x="1156.12" y="1411.39" width="11.3" height="17.2" fill="#FAF9FA"/><rect x="1170.10" y="1411.39" width="11.3" height="17.2" fill="#FAF9FA"/><rect x="1184.08" y="1411.39" width="11.3" height="17.2" fill="#FAF9FA"/><rect x="1198.06" y="1411.39" width="11.3" height="17.2" fill="#FAF9FA"/><rect x="1212.04" y="1411.39" width="11.3" height="17.2" fill="#FAF9FA"/><rect x="1226.02" y="1411.39" width="11.3" height="17.2" fill="#FAF9FA"/><rect x="1240.00" y="1411.39" width="11.3" height="17.2" fill="#FAF9FA"/><rect x="1253.98" y="1411.39" width="11.3" height="17.2" fill="#FAF9FA"/><rect x="1267.96" y="1411.39" width="11.3" height="17.2" fill="#FAF9FA"/><rect x="1281.94" y="1411.39" width="11.3" height="17.2" fill="#FAF9FA"/><rect x="1295.92" y="1411.39" width="11.3" height="17.2" fill="#FAF9FA"/><rect x="1309.90" y="1411.39" width="11.3" height="17.2" fill="#FAF9FA"/><rect x="1323.88" y="1411.39" width="11.3" height="17.2" fill="#D43C98"/><rect x="1337.86" y="1411.39" width="11.3" height="17.2" fill="#FAF9FA"/><rect x="1351.84" y="1411.39" width="11.3" height="17.2" fill="#FAF9FA"/><rect x="1365.82" y="1411.39" width="11.3" height="17.2" fill="#FAF9FA"/><rect x="1379.80" y="1411.39" width="11.3" height="17.2" fill="#FAF9FA"/><rect x="1393.78" y="1411.39" width="11.3" height="17.2" fill="#FAF9FA"/><rect x="1030.30" y="1432.16" width="11.3" height="17.2" fill="#FAF9FA"/><rect x="1044.28" y="1432.16" width="11.3" height="17.2" fill="#FAF9FA"/><rect x="1058.26" y="1432.16" width="11.3" height="17.2" fill="#FAF9FA"/><rect x="1072.24" y="1432.16" width="11.3" height="17.2" fill="#FAF9FA"/><rect x="1086.22" y="1432.16" width="11.3" height="17.2" fill="#FAF9FA"/><rect x="1100.20" y="1432.16" width="11.3" height="17.2" fill="#FAF9FA"/><rect x="1114.18" y="1432.16" width="11.3" height="17.2" fill="#FAF9FA"/><rect x="1128.16" y="1432.16" width="11.3" height="17.2" fill="#FAF9FA"/><rect x="1142.14" y="1432.16" width="11.3" height="17.2" fill="#FAF9FA"/><rect x="1156.12" y="1432.16" width="11.3" height="17.2" fill="#FAF9FA"/><rect x="1170.10" y="1432.16" width="11.3" height="17.2" fill="#FAF9FA"/><rect x="1184.08" y="1432.16" width="11.3" height="17.2" fill="#FAF9FA"/><rect x="1198.06" y="1432.16" width="11.3" height="17.2" fill="#FAF9FA"/><rect x="1212.04" y="1432.16" width="11.3" height="17.2" fill="#FAF9FA"/><rect x="1226.02" y="1432.16" width="11.3" height="17.2" fill="#FAF9FA"/><rect x="1240.00" y="1432.16" width="11.3" height="17.2" fill="#FAF9FA"/><rect x="1253.98" y="1432.16" width="11.3" height="17.2" fill="#FAF9FA"/><rect x="1267.96" y="1432.16" width="11.3" height="17.2" fill="#FAF9FA"/><rect x="1281.94" y="1432.16" width="11.3" height="17.2" fill="#FAF9FA"/><rect x="1295.92" y="1432.16" width="11.3" height="17.2" fill="#FAF9FA"/><rect x="1309.90" y="1432.16" width="11.3" height="17.2" fill="#FAF9FA"/><rect x="1323.88" y="1432.16" width="11.3" height="17.2" fill="#DA58A6"/><rect x="1337.86" y="1432.16" width="11.3" height="17.2" fill="#FAF9FA"/><rect x="1351.84" y="1432.16" width="11.3" height="17.2" fill="#FAF9FA"/><rect x="1365.82" y="1432.16" width="11.3" height="17.2" fill="#FAF9FA"/><rect x="1379.80" y="1432.16" width="11.3" height="17.2" fill="#FAF9FA"/><rect x="1393.78" y="1432.16" width="11.3" height="17.2" fill="#FAF9FA"/><rect x="1030.30" y="1452.93" width="11.3" height="17.2" fill="#FAF9FA"/><rect x="1044.28" y="1452.93" width="11.3" height="17.2" fill="#FAF9FA"/><rect x="1058.26" y="1452.93" width="11.3" height="17.2" fill="#FAF9FA"/><rect x="1072.24" y="1452.93" width="11.3" height="17.2" fill="#FAF9FA"/><rect x="1086.22" y="1452.93" width="11.3" height="17.2" fill="#FAF9FA"/><rect x="1100.20" y="1452.93" width="11.3" height="17.2" fill="#FAF9FA"/><rect x="1114.18" y="1452.93" width="11.3" height="17.2" fill="#FAF9FA"/><rect x="1128.16" y="1452.93" width="11.3" height="17.2" fill="#FAF9FA"/><rect x="1142.14" y="1452.93" width="11.3" height="17.2" fill="#FAF9FA"/><rect x="1156.12" y="1452.93" width="11.3" height="17.2" fill="#FAF9FA"/><rect x="1170.10" y="1452.93" width="11.3" height="17.2" fill="#FAF9FA"/><rect x="1184.08" y="1452.93" width="11.3" height="17.2" fill="#FAF9FA"/><rect x="1198.06" y="1452.93" width="11.3" height="17.2" fill="#FAF9FA"/><rect x="1212.04" y="1452.93" width="11.3" height="17.2" fill="#FAF9FA"/><rect x="1226.02" y="1452.93" width="11.3" height="17.2" fill="#FAF9FA"/><rect x="1240.00" y="1452.93" width="11.3" height="17.2" fill="#FAF9FA"/><rect x="1253.98" y="1452.93" width="11.3" height="17.2" fill="#FAF9FA"/><rect x="1267.96" y="1452.93" width="11.3" height="17.2" fill="#FAF9FA"/><rect x="1281.94" y="1452.93" width="11.3" height="17.2" fill="#FAF9FA"/><rect x="1295.92" y="1452.93" width="11.3" height="17.2" fill="#FAF9FA"/><rect x="1309.90" y="1452.93" width="11.3" height="17.2" fill="#FAF9FA"/><rect x="1323.88" y="1452.93" width="11.3" height="17.2" fill="#DA58A6"/><rect x="1337.86" y="1452.93" width="11.3" height="17.2" fill="#FAF9FA"/><rect x="1351.84" y="1452.93" width="11.3" height="17.2" fill="#FAF9FA"/><rect x="1365.82" y="1452.93" width="11.3" height="17.2" fill="#FAF9FA"/><rect x="1379.80" y="1452.93" width="11.3" height="17.2" fill="#FAF9FA"/><rect x="1393.78" y="1452.93" width="11.3" height="17.2" fill="#FAF9FA"/>
<rect x="1029.3" y="1056.3" width="375.8" height="415.5" fill="none" stroke="#111" stroke-width="1.7"/>
<text transform="translate(1021.8,1071.2)" font-size="17.6" text-anchor="end">CCL21</text>
<text transform="translate(1021.8,1092.0)" font-size="17.6" text-anchor="end">BTLA</text>
<text transform="translate(1021.8,1112.7)" font-size="17.6" text-anchor="end">CD244</text>
<text transform="translate(1021.8,1133.5)" font-size="17.6" text-anchor="end">CD99</text>
<text transform="translate(1021.8,1154.3)" font-size="17.6" text-anchor="end">HLA.DRB5</text>
<text transform="translate(1021.8,1175.0)" font-size="17.6" text-anchor="end">IL10</text>
<text transform="translate(1021.8,1195.8)" font-size="17.6" text-anchor="end">IL15</text>
<text transform="translate(1021.8,1216.6)" font-size="17.6" text-anchor="end">LGALS3</text>
<text transform="translate(1021.8,1237.4)" font-size="17.6" text-anchor="end">OSM</text>
<text transform="translate(1021.8,1258.1)" font-size="17.6" text-anchor="end">PLAT</text>
<text transform="translate(1021.8,1278.9)" font-size="17.6" text-anchor="end">SIRPA</text>
<text transform="translate(1021.8,1299.7)" font-size="17.6" text-anchor="end">TNF</text>
<text transform="translate(1021.8,1320.4)" font-size="17.6" text-anchor="end">CCL4L2</text>
<text transform="translate(1021.8,1341.2)" font-size="17.6" text-anchor="end">CCL4</text>
<text transform="translate(1021.8,1362.0)" font-size="17.6" text-anchor="end">TGFB1</text>
<text transform="translate(1021.8,1382.7)" font-size="17.6" text-anchor="end">JAM2</text>
<text transform="translate(1021.8,1403.5)" font-size="17.6" text-anchor="end">VCAN</text>
<text transform="translate(1021.8,1424.3)" font-size="17.6" text-anchor="end">IL1B</text>
<text transform="translate(1021.8,1445.1)" font-size="17.6" text-anchor="end">IL1A</text>
<text transform="translate(1021.8,1465.8)" font-size="17.6" text-anchor="end">IL1RN</text>
<text transform="translate(1041.9,1475.3) rotate(-90) scale(0.91,1)" font-size="16.5" text-anchor="end">SELPLG</text>
<text transform="translate(1055.8,1475.3) rotate(-90) scale(0.91,1)" font-size="16.5" text-anchor="end">CD44</text>
<text transform="translate(1069.8,1475.3) rotate(-90) scale(0.91,1)" font-size="16.5" text-anchor="end">SELL</text>
<text transform="translate(1083.8,1475.3) rotate(-90) scale(0.91,1)" font-size="16.5" text-anchor="end">ITGA4</text>
<text transform="translate(1097.8,1475.3) rotate(-90) scale(0.91,1)" font-size="16.5" text-anchor="end">ITGB1</text>
<text transform="translate(1111.8,1475.3) rotate(-90) scale(0.91,1)" font-size="16.5" text-anchor="end">TIGIT</text>
<text transform="translate(1125.7,1475.3) rotate(-90) scale(0.91,1)" font-size="16.5" text-anchor="end">LRPAP1</text>
<text transform="translate(1139.7,1475.3) rotate(-90) scale(0.91,1)" font-size="16.5" text-anchor="end">CD47</text>
<text transform="translate(1153.7,1475.3) rotate(-90) scale(0.91,1)" font-size="16.5" text-anchor="end">CD69</text>
<text transform="translate(1167.7,1475.3) rotate(-90) scale(0.91,1)" font-size="16.5" text-anchor="end">IL2RG</text>
<text transform="translate(1181.7,1475.3) rotate(-90) scale(0.91,1)" font-size="16.5" text-anchor="end">IL2RA</text>
<text transform="translate(1195.6,1475.3) rotate(-90) scale(0.91,1)" font-size="16.5" text-anchor="end">IL2RB</text>
<text transform="translate(1209.6,1475.3) rotate(-90) scale(0.91,1)" font-size="16.5" text-anchor="end">CD79B</text>
<text transform="translate(1223.6,1475.3) rotate(-90) scale(0.91,1)" font-size="16.5" text-anchor="end">LAT</text>
<text transform="translate(1237.6,1475.3) rotate(-90) scale(0.91,1)" font-size="16.5" text-anchor="end">CD247</text>
<text transform="translate(1251.6,1475.3) rotate(-90) scale(0.91,1)" font-size="16.5" text-anchor="end">TNFRSF14</text>
<text transform="translate(1265.5,1475.3) rotate(-90) scale(0.91,1)" font-size="16.5" text-anchor="end">CCR7</text>
<text transform="translate(1279.5,1475.3) rotate(-90) scale(0.91,1)" font-size="16.5" text-anchor="end">CXCR3</text>
<text transform="translate(1293.5,1475.3) rotate(-90) scale(0.91,1)" font-size="16.5" text-anchor="end">TNFRSF1B</text>
<text transform="translate(1307.5,1475.3) rotate(-90) scale(0.91,1)" font-size="16.5" text-anchor="end">ITGB2</text>
<text transform="translate(1321.5,1475.3) rotate(-90) scale(0.91,1)" font-size="16.5" text-anchor="end">IL6ST</text>
<text transform="translate(1335.4,1475.3) rotate(-90) scale(0.91,1)" font-size="16.5" text-anchor="end">IL1R2</text>
<text transform="translate(1349.4,1475.3) rotate(-90) scale(0.91,1)" font-size="16.5" text-anchor="end">IL10RA</text>
<text transform="translate(1363.4,1475.3) rotate(-90) scale(0.91,1)" font-size="16.5" text-anchor="end">CD99</text>
<text transform="translate(1377.4,1475.3) rotate(-90) scale(0.91,1)" font-size="16.5" text-anchor="end">CD4</text>
<text transform="translate(1391.4,1475.3) rotate(-90) scale(0.91,1)" font-size="16.5" text-anchor="end">ANXA2</text>
<text transform="translate(1405.3,1475.3) rotate(-90) scale(0.91,1)" font-size="16.5" text-anchor="end">CCR8</text>
<text transform="translate(1211.2,1628.4)" font-size="21" text-anchor="middle" font-weight="bold">Receptors in Treg cells</text>
<text transform="translate(1417.6,1189.0)" font-size="17.9">Score</text>
<defs><linearGradient id="pk" x1="0" y1="0" x2="0" y2="1"><stop offset="0" stop-color="#D3288E"/><stop offset="0.5" stop-color="#E88FC2"/><stop offset="1" stop-color="#FFFFFF"/></linearGradient></defs>
<rect x="1421" y="1198.8" width="25.2" height="123.7" fill="url(#pk)"/>
<path d="M1421 1201.7h5M1446.2 1201.7h-5" stroke="#fff" stroke-width="1"/>
<text transform="translate(1454.0,1208.0)" font-size="17.8">1.2</text>
<path d="M1421 1231.1h5M1446.2 1231.1h-5" stroke="#fff" stroke-width="1"/>
<text transform="translate(1454.0,1237.4)" font-size="17.8">0.9</text>
<path d="M1421 1261.3h5M1446.2 1261.3h-5" stroke="#fff" stroke-width="1"/>
<text transform="translate(1454.0,1267.6)" font-size="17.8">0.6</text>
<path d="M1421 1291h5M1446.2 1291h-5" stroke="#fff" stroke-width="1"/>
<text transform="translate(1454.0,1297.3)" font-size="17.8">0.3</text>
<path d="M1421 1321.3h5M1446.2 1321.3h-5" stroke="#fff" stroke-width="1"/>
<text transform="translate(1454.0,1327.6)" font-size="17.8">0.0</text>
</g>
<g id="gen_b4">
<rect x="1517.6" y="971" width="610.6" height="64.2" fill="#B9D5EA"/>
<text transform="translate(1822.0,1010.0)" font-size="21" text-anchor="middle" font-weight="bold">Regulatory potential of ligands to target genes in Treg cells</text>
<rect x="1557.3" y="1048.8" width="533.6" height="425.8" fill="#fff"/>
<rect x="1559.80" y="1050.80" width="9.3" height="18.4" fill="#B392C7"/><rect x="1571.94" y="1050.80" width="9.3" height="18.4" fill="#8954A8"/><rect x="1584.08" y="1050.80" width="9.3" height="18.4" fill="#9768B3"/><rect x="1596.22" y="1050.80" width="9.3" height="18.4" fill="#D0BBDC"/><rect x="1608.36" y="1050.80" width="9.3" height="18.4" fill="#B392C7"/><rect x="1620.50" y="1050.80" width="9.3" height="18.4" fill="#7B3F9E"/><rect x="1632.64" y="1050.80" width="9.3" height="18.4" fill="#C2A6D2"/><rect x="1644.78" y="1050.80" width="9.3" height="18.4" fill="#B392C7"/><rect x="1656.92" y="1050.80" width="9.3" height="18.4" fill="#B392C7"/><rect x="1669.06" y="1050.80" width="9.3" height="18.4" fill="#A57DBD"/><rect x="1681.20" y="1050.80" width="9.3" height="18.4" fill="#C2A6D2"/><rect x="1693.34" y="1050.80" width="9.3" height="18.4" fill="#B392C7"/><rect x="1705.48" y="1050.80" width="9.3" height="18.4" fill="#D0BBDC"/><rect x="1717.62" y="1050.80" width="9.3" height="18.4" fill="#FAF9FB"/><rect x="1729.76" y="1050.80" width="9.3" height="18.4" fill="#D0BBDC"/><rect x="1741.90" y="1050.80" width="9.3" height="18.4" fill="#FAF9FB"/><rect x="1754.04" y="1050.80" width="9.3" height="18.4" fill="#FAF9FB"/><rect x="1766.18" y="1050.80" width="9.3" height="18.4" fill="#DED0E6"/><rect x="1778.32" y="1050.80" width="9.3" height="18.4" fill="#FAF9FB"/><rect x="1790.46" y="1050.80" width="9.3" height="18.4" fill="#D0BBDC"/><rect x="1802.60" y="1050.80" width="9.3" height="18.4" fill="#FAF9FB"/><rect x="1814.74" y="1050.80" width="9.3" height="18.4" fill="#DED0E6"/><rect x="1826.88" y="1050.80" width="9.3" height="18.4" fill="#F3EFF6"/><rect x="1839.02" y="1050.80" width="9.3" height="18.4" fill="#DED0E6"/><rect x="1851.16" y="1050.80" width="9.3" height="18.4" fill="#D0BBDC"/><rect x="1863.30" y="1050.80" width="9.3" height="18.4" fill="#F3EFF6"/><rect x="1875.44" y="1050.80" width="9.3" height="18.4" fill="#F3EFF6"/><rect x="1887.58" y="1050.80" width="9.3" height="18.4" fill="#DED0E6"/><rect x="1899.72" y="1050.80" width="9.3" height="18.4" fill="#DED0E6"/><rect x="1911.86" y="1050.80" width="9.3" height="18.4" fill="#F3EFF6"/><rect x="1924.00" y="1050.80" width="9.3" height="18.4" fill="#FAF9FB"/><rect x="1936.14" y="1050.80" width="9.3" height="18.4" fill="#FAF9FB"/><rect x="1948.28" y="1050.80" width="9.3" height="18.4" fill="#DED0E6"/><rect x="1960.42" y="1050.80" width="9.3" height="18.4" fill="#D0BBDC"/><rect x="1972.56" y="1050.80" width="9.3" height="18.4" fill="#DED0E6"/><rect x="1984.70" y="1050.80" width="9.3" height="18.4" fill="#DED0E6"/><rect x="1996.84" y="1050.80" width="9.3" height="18.4" fill="#DED0E6"/><rect x="2008.98" y="1050.80" width="9.3" height="18.4" fill="#E5DAEC"/><rect x="2021.12" y="1050.80" width="9.3" height="18.4" fill="#DED0E6"/><rect x="2033.26" y="1050.80" width="9.3" height="18.4" fill="#E5DAEC"/><rect x="2045.40" y="1050.80" width="9.3" height="18.4" fill="#FAF9FB"/><rect x="2057.54" y="1050.80" width="9.3" height="18.4" fill="#FAF9FB"/><rect x="2069.68" y="1050.80" width="9.3" height="18.4" fill="#E5DAEC"/><rect x="2081.82" y="1050.80" width="9.3" height="18.4" fill="#FAF9FB"/><rect x="1559.80" y="1072.15" width="9.3" height="18.4" fill="#F6F3F8"/><rect x="1571.94" y="1072.15" width="9.3" height="18.4" fill="#DED0E6"/><rect x="1584.08" y="1072.15" width="9.3" height="18.4" fill="#B392C7"/><rect x="1596.22" y="1072.15" width="9.3" height="18.4" fill="#F6F3F8"/><rect x="1608.36" y="1072.15" width="9.3" height="18.4" fill="#F6F3F8"/><rect x="1620.50" y="1072.15" width="9.3" height="18.4" fill="#B392C7"/><rect x="1632.64" y="1072.15" width="9.3" height="18.4" fill="#F6F3F8"/><rect x="1644.78" y="1072.15" width="9.3" height="18.4" fill="#DED0E6"/><rect x="1656.92" y="1072.15" width="9.3" height="18.4" fill="#DED0E6"/><rect x="1669.06" y="1072.15" width="9.3" height="18.4" fill="#F6F3F8"/><rect x="1681.20" y="1072.15" width="9.3" height="18.4" fill="#B392C7"/><rect x="1693.34" y="1072.15" width="9.3" height="18.4" fill="#F6F3F8"/><rect x="1705.48" y="1072.15" width="9.3" height="18.4" fill="#C2A6D2"/><rect x="1717.62" y="1072.15" width="9.3" height="18.4" fill="#D0BBDC"/><rect x="1729.76" y="1072.15" width="9.3" height="18.4" fill="#B392C7"/><rect x="1741.90" y="1072.15" width="9.3" height="18.4" fill="#B392C7"/><rect x="1754.04" y="1072.15" width="9.3" height="18.4" fill="#B392C7"/><rect x="1766.18" y="1072.15" width="9.3" height="18.4" fill="#B392C7"/><rect x="1778.32" y="1072.15" width="9.3" height="18.4" fill="#B392C7"/><rect x="1790.46" y="1072.15" width="9.3" height="18.4" fill="#A57DBD"/><rect x="1802.60" y="1072.15" width="9.3" height="18.4" fill="#DED0E6"/><rect x="1814.74" y="1072.15" width="9.3" height="18.4" fill="#ECE4F1"/><rect x="1826.88" y="1072.15" width="9.3" height="18.4" fill="#ECE4F1"/><rect x="1839.02" y="1072.15" width="9.3" height="18.4" fill="#ECE4F1"/><rect x="1851.16" y="1072.15" width="9.3" height="18.4" fill="#ECE4F1"/><rect x="1863.30" y="1072.15" width="9.3" height="18.4" fill="#ECE4F1"/><rect x="1875.44" y="1072.15" width="9.3" height="18.4" fill="#ECE4F1"/><rect x="1887.58" y="1072.15" width="9.3" height="18.4" fill="#ECE4F1"/><rect x="1899.72" y="1072.15" width="9.3" height="18.4" fill="#ECE4F1"/><rect x="1911.86" y="1072.15" width="9.3" height="18.4" fill="#ECE4F1"/><rect x="1924.00" y="1072.15" width="9.3" height="18.4" fill="#F0EBF4"/><rect x="1936.14" y="1072.15" width="9.3" height="18.4" fill="#F0EBF4"/><rect x="1948.28" y="1072.15" width="9.3" height="18.4" fill="#F3EFF6"/><rect x="1960.42" y="1072.15" width="9.3" height="18.4" fill="#F3EFF6"/><rect x="1972.56" y="1072.15" width="9.3" height="18.4" fill="#F3EFF6"/><rect x="1984.70" y="1072.15" width="9.3" height="18.4" fill="#F0EBF4"/><rect x="1996.84" y="1072.15" width="9.3" height="18.4" fill="#F3EFF6"/><rect x="2008.98" y="1072.15" width="9.3" height="18.4" fill="#F3EFF6"/><rect x="2021.12" y="1072.15" width="9.3" height="18.4" fill="#DED0E6"/><rect x="2033.26" y="1072.15" width="9.3" height="18.4" fill="#F6F3F8"/><rect x="2045.40" y="1072.15" width="9.3" height="18.4" fill="#F3EFF6"/><rect x="2057.54" y="1072.15" width="9.3" height="18.4" fill="#F6F3F8"/><rect x="2069.68" y="1072.15" width="9.3" height="18.4" fill="#F3EFF6"/><rect x="2081.82" y="1072.15" width="9.3" height="18.4" fill="#F3EFF6"/><rect x="1559.80" y="1093.50" width="9.3" height="18.4" fill="#7B3F9E"/><rect x="1571.94" y="1093.50" width="9.3" height="18.4" fill="#8954A8"/><rect x="1584.08" y="1093.50" width="9.3" height="18.4" fill="#A57DBD"/><rect x="1596.22" y="1093.50" width="9.3" height="18.4" fill="#C2A6D2"/><rect x="1608.36" y="1093.50" width="9.3" height="18.4" fill="#8954A8"/><rect x="1620.50" y="1093.50" width="9.3" height="18.4" fill="#A57DBD"/><rect x="1632.64" y="1093.50" width="9.3" height="18.4" fill="#F6F3F8"/><rect x="1644.78" y="1093.50" width="9.3" height="18.4" fill="#A57DBD"/><rect x="1656.92" y="1093.50" width="9.3" height="18.4" fill="#C2A6D2"/><rect x="1669.06" y="1093.50" width="9.3" height="18.4" fill="#F6F3F8"/><rect x="1681.20" y="1093.50" width="9.3" height="18.4" fill="#C2A6D2"/><rect x="1693.34" y="1093.50" width="9.3" height="18.4" fill="#D0BBDC"/><rect x="1705.48" y="1093.50" width="9.3" height="18.4" fill="#F6F3F8"/><rect x="1717.62" y="1093.50" width="9.3" height="18.4" fill="#F7F5F9"/><rect x="1729.76" y="1093.50" width="9.3" height="18.4" fill="#DED0E6"/><rect x="1741.90" y="1093.50" width="9.3" height="18.4" fill="#C2A6D2"/><rect x="1754.04" y="1093.50" width="9.3" height="18.4" fill="#F6F3F8"/><rect x="1766.18" y="1093.50" width="9.3" height="18.4" fill="#D0BBDC"/><rect x="1778.32" y="1093.50" width="9.3" height="18.4" fill="#F6F3F8"/><rect x="1790.46" y="1093.50" width="9.3" height="18.4" fill="#9768B3"/><rect x="1802.60" y="1093.50" width="9.3" height="18.4" fill="#B392C7"/><rect x="1814.74" y="1093.50" width="9.3" height="18.4" fill="#C2A6D2"/><rect x="1826.88" y="1093.50" width="9.3" height="18.4" fill="#F3EFF6"/><rect x="1839.02" y="1093.50" width="9.3" height="18.4" fill="#F0EBF4"/><rect x="1851.16" y="1093.50" width="9.3" height="18.4" fill="#C2A6D2"/><rect x="1863.30" y="1093.50" width="9.3" height="18.4" fill="#DED0E6"/><rect x="1875.44" y="1093.50" width="9.3" height="18.4" fill="#F0EBF4"/><rect x="1887.58" y="1093.50" width="9.3" height="18.4" fill="#D7C5E1"/><rect x="1899.72" y="1093.50" width="9.3" height="18.4" fill="#F0EBF4"/><rect x="1911.86" y="1093.50" width="9.3" height="18.4" fill="#DED0E6"/><rect x="1924.00" y="1093.50" width="9.3" height="18.4" fill="#D7C5E1"/><rect x="1936.14" y="1093.50" width="9.3" height="18.4" fill="#F3EFF6"/><rect x="1948.28" y="1093.50" width="9.3" height="18.4" fill="#DED0E6"/><rect x="1960.42" y="1093.50" width="9.3" height="18.4" fill="#DED0E6"/><rect x="1972.56" y="1093.50" width="9.3" height="18.4" fill="#F3EFF6"/><rect x="1984.70" y="1093.50" width="9.3" height="18.4" fill="#DED0E6"/><rect x="1996.84" y="1093.50" width="9.3" height="18.4" fill="#F3EFF6"/><rect x="2008.98" y="1093.50" width="9.3" height="18.4" fill="#F3EFF6"/><rect x="2021.12" y="1093.50" width="9.3" height="18.4" fill="#C2A6D2"/><rect x="2033.26" y="1093.50" width="9.3" height="18.4" fill="#F3EFF6"/><rect x="2045.40" y="1093.50" width="9.3" height="18.4" fill="#FAF9FB"/><rect x="2057.54" y="1093.50" width="9.3" height="18.4" fill="#FAF9FB"/><rect x="2069.68" y="1093.50" width="9.3" height="18.4" fill="#DED0E6"/><rect x="2081.82" y="1093.50" width="9.3" height="18.4" fill="#FAF9FB"/><rect x="1559.80" y="1114.85" width="9.3" height="18.4" fill="#FAF9FB"/><rect x="1571.94" y="1114.85" width="9.3" height="18.4" fill="#FAF9FB"/><rect x="1584.08" y="1114.85" width="9.3" height="18.4" fill="#FAF9FB"/><rect x="1596.22" y="1114.85" width="9.3" height="18.4" fill="#FAF9FB"/><rect x="1608.36" y="1114.85" width="9.3" height="18.4" fill="#FAF9FB"/><rect x="1620.50" y="1114.85" width="9.3" height="18.4" fill="#F6F3F8"/><rect x="1632.64" y="1114.85" width="9.3" height="18.4" fill="#FAF9FB"/><rect x="1644.78" y="1114.85" width="9.3" height="18.4" fill="#FAF9FB"/><rect x="1656.92" y="1114.85" width="9.3" height="18.4" fill="#FAF9FB"/><rect x="1669.06" y="1114.85" width="9.3" height="18.4" fill="#FAF9FB"/><rect x="1681.20" y="1114.85" width="9.3" height="18.4" fill="#FAF9FB"/><rect x="1693.34" y="1114.85" width="9.3" height="18.4" fill="#FAF9FB"/><rect x="1705.48" y="1114.85" width="9.3" height="18.4" fill="#FAF9FB"/><rect x="1717.62" y="1114.85" width="9.3" height="18.4" fill="#FAF9FB"/><rect x="1729.76" y="1114.85" width="9.3" height="18.4" fill="#DED0E6"/><rect x="1741.90" y="1114.85" width="9.3" height="18.4" fill="#FAF9FB"/><rect x="1754.04" y="1114.85" width="9.3" height="18.4" fill="#FAF9FB"/><rect x="1766.18" y="1114.85" width="9.3" height="18.4" fill="#F4F1F7"/><rect x="1778.32" y="1114.85" width="9.3" height="18.4" fill="#FAF9FB"/><rect x="1790.46" y="1114.85" width="9.3" height="18.4" fill="#DED0E6"/><rect x="1802.60" y="1114.85" width="9.3" height="18.4" fill="#FAF9FB"/><rect x="1814.74" y="1114.85" width="9.3" height="18.4" fill="#F0EBF4"/><rect x="1826.88" y="1114.85" width="9.3" height="18.4" fill="#F4F1F7"/><rect x="1839.02" y="1114.85" width="9.3" height="18.4" fill="#FAF9FB"/><rect x="1851.16" y="1114.85" width="9.3" height="18.4" fill="#F3EFF6"/><rect x="1863.30" y="1114.85" width="9.3" height="18.4" fill="#FAF9FB"/><rect x="1875.44" y="1114.85" width="9.3" height="18.4" fill="#FAF9FB"/><rect x="1887.58" y="1114.85" width="9.3" height="18.4" fill="#FAF9FB"/><rect x="1899.72" y="1114.85" width="9.3" height="18.4" fill="#FAF9FB"/><rect x="1911.86" y="1114.85" width="9.3" height="18.4" fill="#FAF9FB"/><rect x="1924.00" y="1114.85" width="9.3" height="18.4" fill="#FAF9FB"/><rect x="1936.14" y="1114.85" width="9.3" height="18.4" fill="#FAF9FB"/><rect x="1948.28" y="1114.85" width="9.3" height="18.4" fill="#FAF9FB"/><rect x="1960.42" y="1114.85" width="9.3" height="18.4" fill="#FAF9FB"/><rect x="1972.56" y="1114.85" width="9.3" height="18.4" fill="#FAF9FB"/><rect x="1984.70" y="1114.85" width="9.3" height="18.4" fill="#FAF9FB"/><rect x="1996.84" y="1114.85" width="9.3" height="18.4" fill="#FAF9FB"/><rect x="2008.98" y="1114.85" width="9.3" height="18.4" fill="#FAF9FB"/><rect x="2021.12" y="1114.85" width="9.3" height="18.4" fill="#FAF9FB"/><rect x="2033.26" y="1114.85" width="9.3" height="18.4" fill="#FAF9FB"/><rect x="2045.40" y="1114.85" width="9.3" height="18.4" fill="#FAF9FB"/><rect x="2057.54" y="1114.85" width="9.3" height="18.4" fill="#FAF9FB"/><rect x="2069.68" y="1114.85" width="9.3" height="18.4" fill="#FAF9FB"/><rect x="2081.82" y="1114.85" width="9.3" height="18.4" fill="#FAF9FB"/><rect x="1559.80" y="1136.20" width="9.3" height="18.4" fill="#FAF9FB"/><rect x="1571.94" y="1136.20" width="9.3" height="18.4" fill="#FAF9FB"/><rect x="1584.08" y="1136.20" width="9.3" height="18.4" fill="#FAF9FB"/><rect x="1596.22" y="1136.20" width="9.3" height="18.4" fill="#FAF9FB"/><rect x="1608.36" y="1136.20" width="9.3" height="18.4" fill="#FAF9FB"/><rect x="1620.50" y="1136.20" width="9.3" height="18.4" fill="#F6F3F8"/><rect x="1632.64" y="1136.20" width="9.3" height="18.4" fill="#FAF9FB"/><rect x="1644.78" y="1136.20" width="9.3" height="18.4" fill="#FAF9FB"/><rect x="1656.92" y="1136.20" width="9.3" height="18.4" fill="#FAF9FB"/><rect x="1669.06" y="1136.20" width="9.3" height="18.4" fill="#FAF9FB"/><rect x="1681.20" y="1136.20" width="9.3" height="18.4" fill="#FAF9FB"/><rect x="1693.34" y="1136.20" width="9.3" height="18.4" fill="#FAF9FB"/><rect x="1705.48" y="1136.20" width="9.3" height="18.4" fill="#FAF9FB"/><rect x="1717.62" y="1136.20" width="9.3" height="18.4" fill="#FAF9FB"/><rect x="1729.76" y="1136.20" width="9.3" height="18.4" fill="#FAF9FB"/><rect x="1741.90" y="1136.20" width="9.3" height="18.4" fill="#FAF9FB"/><rect x="1754.04" y="1136.20" width="9.3" height="18.4" fill="#FAF9FB"/><rect x="1766.18" y="1136.20" width="9.3" height="18.4" fill="#F3EFF6"/><rect x="1778.32" y="1136.20" width="9.3" height="18.4" fill="#FAF9FB"/><rect x="1790.46" y="1136.20" width="9.3" height="18.4" fill="#F3EFF6"/><rect x="1802.60" y="1136.20" width="9.3" height="18.4" fill="#FAF9FB"/><rect x="1814.74" y="1136.20" width="9.3" height="18.4" fill="#FAF9FB"/><rect x="1826.88" y="1136.20" width="9.3" height="18.4" fill="#FAF9FB"/><rect x="1839.02" y="1136.20" width="9.3" height="18.4" fill="#FAF9FB"/><rect x="1851.16" y="1136.20" width="9.3" height="18.4" fill="#F3EFF6"/><rect x="1863.30" y="1136.20" width="9.3" height="18.4" fill="#FAF9FB"/><rect x="1875.44" y="1136.20" width="9.3" height="18.4" fill="#FAF9FB"/><rect x="1887.58" y="1136.20" width="9.3" height="18.4" fill="#FAF9FB"/><rect x="1899.72" y="1136.20" width="9.3" height="18.4" fill="#FAF9FB"/><rect x="1911.86" y="1136.20" width="9.3" height="18.4" fill="#FAF9FB"/><rect x="1924.00" y="1136.20" width="9.3" height="18.4" fill="#DED0E6"/><rect x="1936.14" y="1136.20" width="9.3" height="18.4" fill="#FAF9FB"/><rect x="1948.28" y="1136.20" width="9.3" height="18.4" fill="#FAF9FB"/><rect x="1960.42" y="1136.20" width="9.3" height="18.4" fill="#FAF9FB"/><rect x="1972.56" y="1136.20" width="9.3" height="18.4" fill="#FAF9FB"/><rect x="1984.70" y="1136.20" width="9.3" height="18.4" fill="#FAF9FB"/><rect x="1996.84" y="1136.20" width="9.3" height="18.4" fill="#FAF9FB"/><rect x="2008.98" y="1136.20" width="9.3" height="18.4" fill="#FAF9FB"/><rect x="2021.12" y="1136.20" width="9.3" height="18.4" fill="#FAF9FB"/><rect x="2033.26" y="1136.20" width="9.3" height="18.4" fill="#FAF9FB"/><rect x="2045.40" y="1136.20" width="9.3" height="18.4" fill="#FAF9FB"/><rect x="2057.54" y="1136.20" width="9.3" height="18.4" fill="#FAF9FB"/><rect x="2069.68" y="1136.20" width="9.3" height="18.4" fill="#FAF9FB"/><rect x="2081.82" y="1136.20" width="9.3" height="18.4" fill="#FAF9FB"/><rect x="1559.80" y="1157.55" width="9.3" height="18.4" fill="#D0BBDC"/><rect x="1571.94" y="1157.55" width="9.3" height="18.4" fill="#C2A6D2"/><rect x="1584.08" y="1157.55" width="9.3" height="18.4" fill="#ECE4F1"/><rect x="1596.22" y="1157.55" width="9.3" height="18.4" fill="#F3EFF6"/><rect x="1608.36" y="1157.55" width="9.3" height="18.4" fill="#F3EFF6"/><rect x="1620.50" y="1157.55" width="9.3" height="18.4" fill="#D0BBDC"/><rect x="1632.64" y="1157.55" width="9.3" height="18.4" fill="#F3EFF6"/><rect x="1644.78" y="1157.55" width="9.3" height="18.4" fill="#DED0E6"/><rect x="1656.92" y="1157.55" width="9.3" height="18.4" fill="#DED0E6"/><rect x="1669.06" y="1157.55" width="9.3" height="18.4" fill="#F3EFF6"/><rect x="1681.20" y="1157.55" width="9.3" height="18.4" fill="#C2A6D2"/><rect x="1693.34" y="1157.55" width="9.3" height="18.4" fill="#F3EFF6"/><rect x="1705.48" y="1157.55" width="9.3" height="18.4" fill="#F3EFF6"/><rect x="1717.62" y="1157.55" width="9.3" height="18.4" fill="#F3EFF6"/><rect x="1729.76" y="1157.55" width="9.3" height="18.4" fill="#A57DBD"/><rect x="1741.90" y="1157.55" width="9.3" height="18.4" fill="#F3EFF6"/><rect x="1754.04" y="1157.55" width="9.3" height="18.4" fill="#F3EFF6"/><rect x="1766.18" y="1157.55" width="9.3" height="18.4" fill="#A57DBD"/><rect x="1778.32" y="1157.55" width="9.3" height="18.4" fill="#B392C7"/><rect x="1790.46" y="1157.55" width="9.3" height="18.4" fill="#7B3F9E"/><rect x="1802.60" y="1157.55" width="9.3" height="18.4" fill="#F7F5F9"/><rect x="1814.74" y="1157.55" width="9.3" height="18.4" fill="#F3EFF6"/><rect x="1826.88" y="1157.55" width="9.3" height="18.4" fill="#F3EFF6"/><rect x="1839.02" y="1157.55" width="9.3" height="18.4" fill="#DED0E6"/><rect x="1851.16" y="1157.55" width="9.3" height="18.4" fill="#EFE8F3"/><rect x="1863.30" y="1157.55" width="9.3" height="18.4" fill="#B392C7"/><rect x="1875.44" y="1157.55" width="9.3" height="18.4" fill="#EFE8F3"/><rect x="1887.58" y="1157.55" width="9.3" height="18.4" fill="#F0EBF4"/><rect x="1899.72" y="1157.55" width="9.3" height="18.4" fill="#D0BBDC"/><rect x="1911.86" y="1157.55" width="9.3" height="18.4" fill="#F0EBF4"/><rect x="1924.00" y="1157.55" width="9.3" height="18.4" fill="#D7C5E1"/><rect x="1936.14" y="1157.55" width="9.3" height="18.4" fill="#A57DBD"/><rect x="1948.28" y="1157.55" width="9.3" height="18.4" fill="#A57DBD"/><rect x="1960.42" y="1157.55" width="9.3" height="18.4" fill="#BA9CCC"/><rect x="1972.56" y="1157.55" width="9.3" height="18.4" fill="#9E73B8"/><rect x="1984.70" y="1157.55" width="9.3" height="18.4" fill="#B392C7"/><rect x="1996.84" y="1157.55" width="9.3" height="18.4" fill="#F3EFF6"/><rect x="2008.98" y="1157.55" width="9.3" height="18.4" fill="#F0EBF4"/><rect x="2021.12" y="1157.55" width="9.3" height="18.4" fill="#F0EBF4"/><rect x="2033.26" y="1157.55" width="9.3" height="18.4" fill="#DED0E6"/><rect x="2045.40" y="1157.55" width="9.3" height="18.4" fill="#C2A6D2"/><rect x="2057.54" y="1157.55" width="9.3" height="18.4" fill="#E5DAEC"/><rect x="2069.68" y="1157.55" width="9.3" height="18.4" fill="#F3EFF6"/><rect x="2081.82" y="1157.55" width="9.3" height="18.4" fill="#FAF9FB"/><rect x="1559.80" y="1178.90" width="9.3" height="18.4" fill="#FAF9FB"/><rect x="1571.94" y="1178.90" width="9.3" height="18.4" fill="#F3EFF6"/><rect x="1584.08" y="1178.90" width="9.3" height="18.4" fill="#FAF9FB"/><rect x="1596.22" y="1178.90" width="9.3" height="18.4" fill="#FAF9FB"/><rect x="1608.36" y="1178.90" width="9.3" height="18.4" fill="#FAF9FB"/><rect x="1620.50" y="1178.90" width="9.3" height="18.4" fill="#F3EFF6"/><rect x="1632.64" y="1178.90" width="9.3" height="18.4" fill="#FAF9FB"/><rect x="1644.78" y="1178.90" width="9.3" height="18.4" fill="#FAF9FB"/><rect x="1656.92" y="1178.90" width="9.3" height="18.4" fill="#FAF9FB"/><rect x="1669.06" y="1178.90" width="9.3" height="18.4" fill="#F3EFF6"/><rect x="1681.20" y="1178.90" width="9.3" height="18.4" fill="#FAF9FB"/><rect x="1693.34" y="1178.90" width="9.3" height="18.4" fill="#FAF9FB"/><rect x="1705.48" y="1178.90" width="9.3" height="18.4" fill="#FAF9FB"/><rect x="1717.62" y="1178.90" width="9.3" height="18.4" fill="#FAF9FB"/><rect x="1729.76" y="1178.90" width="9.3" height="18.4" fill="#F6F3F8"/><rect x="1741.90" y="1178.90" width="9.3" height="18.4" fill="#FAF9FB"/><rect x="1754.04" y="1178.90" width="9.3" height="18.4" fill="#FAF9FB"/><rect x="1766.18" y="1178.90" width="9.3" height="18.4" fill="#F6F3F8"/><rect x="1778.32" y="1178.90" width="9.3" height="18.4" fill="#FAF9FB"/><rect x="1790.46" y="1178.90" width="9.3" height="18.4" fill="#F3EFF6"/><rect x="1802.60" y="1178.90" width="9.3" height="18.4" fill="#FAF9FB"/><rect x="1814.74" y="1178.90" width="9.3" height="18.4" fill="#FAF9FB"/><rect x="1826.88" y="1178.90" width="9.3" height="18.4" fill="#FAF9FB"/><rect x="1839.02" y="1178.90" width="9.3" height="18.4" fill="#FAF9FB"/><rect x="1851.16" y="1178.90" width="9.3" height="18.4" fill="#F3EFF6"/><rect x="1863.30" y="1178.90" width="9.3" height="18.4" fill="#FAF9FB"/><rect x="1875.44" y="1178.90" width="9.3" height="18.4" fill="#FAF9FB"/><rect x="1887.58" y="1178.90" width="9.3" height="18.4" fill="#FAF9FB"/><rect x="1899.72" y="1178.90" width="9.3" height="18.4" fill="#FAF9FB"/><rect x="1911.86" y="1178.90" width="9.3" height="18.4" fill="#F0EBF4"/><rect x="1924.00" y="1178.90" width="9.3" height="18.4" fill="#FAF9FB"/><rect x="1936.14" y="1178.90" width="9.3" height="18.4" fill="#FAF9FB"/><rect x="1948.28" y="1178.90" width="9.3" height="18.4" fill="#FAF9FB"/><rect x="1960.42" y="1178.90" width="9.3" height="18.4" fill="#FAF9FB"/><rect x="1972.56" y="1178.90" width="9.3" height="18.4" fill="#FAF9FB"/><rect x="1984.70" y="1178.90" width="9.3" height="18.4" fill="#FAF9FB"/><rect x="1996.84" y="1178.90" width="9.3" height="18.4" fill="#FAF9FB"/><rect x="2008.98" y="1178.90" width="9.3" height="18.4" fill="#FAF9FB"/><rect x="2021.12" y="1178.90" width="9.3" height="18.4" fill="#FAF9FB"/><rect x="2033.26" y="1178.90" width="9.3" height="18.4" fill="#FAF9FB"/><rect x="2045.40" y="1178.90" width="9.3" height="18.4" fill="#FAF9FB"/><rect x="2057.54" y="1178.90" width="9.3" height="18.4" fill="#FAF9FB"/><rect x="2069.68" y="1178.90" width="9.3" height="18.4" fill="#FAF9FB"/><rect x="2081.82" y="1178.90" width="9.3" height="18.4" fill="#FAF9FB"/><rect x="1559.80" y="1200.25" width="9.3" height="18.4" fill="#FAF9FB"/><rect x="1571.94" y="1200.25" width="9.3" height="18.4" fill="#FAF9FB"/><rect x="1584.08" y="1200.25" width="9.3" height="18.4" fill="#FAF9FB"/><rect x="1596.22" y="1200.25" width="9.3" height="18.4" fill="#FAF9FB"/><rect x="1608.36" y="1200.25" width="9.3" height="18.4" fill="#FAF9FB"/><rect x="1620.50" y="1200.25" width="9.3" height="18.4" fill="#FAF9FB"/><rect x="1632.64" y="1200.25" width="9.3" height="18.4" fill="#FAF9FB"/><rect x="1644.78" y="1200.25" width="9.3" height="18.4" fill="#FAF9FB"/><rect x="1656.92" y="1200.25" width="9.3" height="18.4" fill="#FAF9FB"/><rect x="1669.06" y="1200.25" width="9.3" height="18.4" fill="#FAF9FB"/><rect x="1681.20" y="1200.25" width="9.3" height="18.4" fill="#FAF9FB"/><rect x="1693.34" y="1200.25" width="9.3" height="18.4" fill="#FAF9FB"/><rect x="1705.48" y="1200.25" width="9.3" height="18.4" fill="#FAF9FB"/><rect x="1717.62" y="1200.25" width="9.3" height="18.4" fill="#FAF9FB"/><rect x="1729.76" y="1200.25" width="9.3" height="18.4" fill="#FAF9FB"/><rect x="1741.90" y="1200.25" width="9.3" height="18.4" fill="#FAF9FB"/><rect x="1754.04" y="1200.25" width="9.3" height="18.4" fill="#FAF9FB"/><rect x="1766.18" y="1200.25" width="9.3" height="18.4" fill="#FAF9FB"/><rect x="1778.32" y="1200.25" width="9.3" height="18.4" fill="#FAF9FB"/><rect x="1790.46" y="1200.25" width="9.3" height="18.4" fill="#FAF9FB"/><rect x="1802.60" y="1200.25" width="9.3" height="18.4" fill="#FAF9FB"/><rect x="1814.74" y="1200.25" width="9.3" height="18.4" fill="#FAF9FB"/><rect x="1826.88" y="1200.25" width="9.3" height="18.4" fill="#FAF9FB"/><rect x="1839.02" y="1200.25" width="9.3" height="18.4" fill="#FAF9FB"/><rect x="1851.16" y="1200.25" width="9.3" height="18.4" fill="#FAF9FB"/><rect x="1863.30" y="1200.25" width="9.3" height="18.4" fill="#FAF9FB"/><rect x="1875.44" y="1200.25" width="9.3" height="18.4" fill="#FAF9FB"/><rect x="1887.58" y="1200.25" width="9.3" height="18.4" fill="#FAF9FB"/><rect x="1899.72" y="1200.25" width="9.3" height="18.4" fill="#FAF9FB"/><rect x="1911.86" y="1200.25" width="9.3" height="18.4" fill="#FAF9FB"/><rect x="1924.00" y="1200.25" width="9.3" height="18.4" fill="#DED0E6"/><rect x="1936.14" y="1200.25" width="9.3" height="18.4" fill="#FAF9FB"/><rect x="1948.28" y="1200.25" width="9.3" height="18.4" fill="#FAF9FB"/><rect x="1960.42" y="1200.25" width="9.3" height="18.4" fill="#FAF9FB"/><rect x="1972.56" y="1200.25" width="9.3" height="18.4" fill="#FAF9FB"/><rect x="1984.70" y="1200.25" width="9.3" height="18.4" fill="#FAF9FB"/><rect x="1996.84" y="1200.25" width="9.3" height="18.4" fill="#FAF9FB"/><rect x="2008.98" y="1200.25" width="9.3" height="18.4" fill="#FAF9FB"/><rect x="2021.12" y="1200.25" width="9.3" height="18.4" fill="#FAF9FB"/><rect x="2033.26" y="1200.25" width="9.3" height="18.4" fill="#FAF9FB"/><rect x="2045.40" y="1200.25" width="9.3" height="18.4" fill="#FAF9FB"/><rect x="2057.54" y="1200.25" width="9.3" height="18.4" fill="#FAF9FB"/><rect x="2069.68" y="1200.25" width="9.3" height="18.4" fill="#FAF9FB"/><rect x="2081.82" y="1200.25" width="9.3" height="18.4" fill="#FAF9FB"/><rect x="1559.80" y="1221.60" width="9.3" height="18.4" fill="#DED0E6"/><rect x="1571.94" y="1221.60" width="9.3" height="18.4" fill="#B392C7"/><rect x="1584.08" y="1221.60" width="9.3" height="18.4" fill="#DED0E6"/><rect x="1596.22" y="1221.60" width="9.3" height="18.4" fill="#DED0E6"/><rect x="1608.36" y="1221.60" width="9.3" height="18.4" fill="#B392C7"/><rect x="1620.50" y="1221.60" width="9.3" height="18.4" fill="#B392C7"/><rect x="1632.64" y="1221.60" width="9.3" height="18.4" fill="#DED0E6"/><rect x="1644.78" y="1221.60" width="9.3" height="18.4" fill="#C2A6D2"/><rect x="1656.92" y="1221.60" width="9.3" height="18.4" fill="#DED0E6"/><rect x="1669.06" y="1221.60" width="9.3" height="18.4" fill="#F7F5F9"/><rect x="1681.20" y="1221.60" width="9.3" height="18.4" fill="#F3EFF6"/><rect x="1693.34" y="1221.60" width="9.3" height="18.4" fill="#F7F5F9"/><rect x="1705.48" y="1221.60" width="9.3" height="18.4" fill="#D0BBDC"/><rect x="1717.62" y="1221.60" width="9.3" height="18.4" fill="#FAF9FB"/><rect x="1729.76" y="1221.60" width="9.3" height="18.4" fill="#F3EFF6"/><rect x="1741.90" y="1221.60" width="9.3" height="18.4" fill="#FAF9FB"/><rect x="1754.04" y="1221.60" width="9.3" height="18.4" fill="#FAF9FB"/><rect x="1766.18" y="1221.60" width="9.3" height="18.4" fill="#F3EFF6"/><rect x="1778.32" y="1221.60" width="9.3" height="18.4" fill="#B392C7"/><rect x="1790.46" y="1221.60" width="9.3" height="18.4" fill="#F3EFF6"/><rect x="1802.60" y="1221.60" width="9.3" height="18.4" fill="#DED0E6"/><rect x="1814.74" y="1221.60" width="9.3" height="18.4" fill="#F3EFF6"/><rect x="1826.88" y="1221.60" width="9.3" height="18.4" fill="#F3EFF6"/><rect x="1839.02" y="1221.60" width="9.3" height="18.4" fill="#F3EFF6"/><rect x="1851.16" y="1221.60" width="9.3" height="18.4" fill="#F3EFF6"/><rect x="1863.30" y="1221.60" width="9.3" height="18.4" fill="#F3EFF6"/><rect x="1875.44" y="1221.60" width="9.3" height="18.4" fill="#F3EFF6"/><rect x="1887.58" y="1221.60" width="9.3" height="18.4" fill="#F3EFF6"/><rect x="1899.72" y="1221.60" width="9.3" height="18.4" fill="#F3EFF6"/><rect x="1911.86" y="1221.60" width="9.3" height="18.4" fill="#F6F3F8"/><rect x="1924.00" y="1221.60" width="9.3" height="18.4" fill="#FAF9FB"/><rect x="1936.14" y="1221.60" width="9.3" height="18.4" fill="#FAF9FB"/><rect x="1948.28" y="1221.60" width="9.3" height="18.4" fill="#FAF9FB"/><rect x="1960.42" y="1221.60" width="9.3" height="18.4" fill="#FAF9FB"/><rect x="1972.56" y="1221.60" width="9.3" height="18.4" fill="#FAF9FB"/><rect x="1984.70" y="1221.60" width="9.3" height="18.4" fill="#DED0E6"/><rect x="1996.84" y="1221.60" width="9.3" height="18.4" fill="#F6F3F8"/><rect x="2008.98" y="1221.60" width="9.3" height="18.4" fill="#D7C5E1"/><rect x="2021.12" y="1221.60" width="9.3" height="18.4" fill="#BA9CCC"/><rect x="2033.26" y="1221.60" width="9.3" height="18.4" fill="#FAF9FB"/><rect x="2045.40" y="1221.60" width="9.3" height="18.4" fill="#FAF9FB"/><rect x="2057.54" y="1221.60" width="9.3" height="18.4" fill="#FAF9FB"/><rect x="2069.68" y="1221.60" width="9.3" height="18.4" fill="#F6F3F8"/><rect x="2081.82" y="1221.60" width="9.3" height="18.4" fill="#FAF9FB"/><rect x="1559.80" y="1242.95" width="9.3" height="18.4" fill="#B392C7"/><rect x="1571.94" y="1242.95" width="9.3" height="18.4" fill="#9768B3"/><rect x="1584.08" y="1242.95" width="9.3" height="18.4" fill="#DED0E6"/><rect x="1596.22" y="1242.95" width="9.3" height="18.4" fill="#F3EFF6"/><rect x="1608.36" y="1242.95" width="9.3" height="18.4" fill="#C2A6D2"/><rect x="1620.50" y="1242.95" width="9.3" height="18.4" fill="#D0BBDC"/><rect x="1632.64" y="1242.95" width="9.3" height="18.4" fill="#DED0E6"/><rect x="1644.78" y="1242.95" width="9.3" height="18.4" fill="#F3EFF6"/><rect x="1656.92" y="1242.95" width="9.3" height="18.4" fill="#DED0E6"/><rect x="1669.06" y="1242.95" width="9.3" height="18.4" fill="#FAF9FB"/><rect x="1681.20" y="1242.95" width="9.3" height="18.4" fill="#DED0E6"/><rect x="1693.34" y="1242.95" width="9.3" height="18.4" fill="#FAF9FB"/><rect x="1705.48" y="1242.95" width="9.3" height="18.4" fill="#F3EFF6"/><rect x="1717.62" y="1242.95" width="9.3" height="18.4" fill="#FAF9FB"/><rect x="1729.76" y="1242.95" width="9.3" height="18.4" fill="#D0BBDC"/><rect x="1741.90" y="1242.95" width="9.3" height="18.4" fill="#F3EFF6"/><rect x="1754.04" y="1242.95" width="9.3" height="18.4" fill="#F3EFF6"/><rect x="1766.18" y="1242.95" width="9.3" height="18.4" fill="#8954A8"/><rect x="1778.32" y="1242.95" width="9.3" height="18.4" fill="#DED0E6"/><rect x="1790.46" y="1242.95" width="9.3" height="18.4" fill="#C2A6D2"/><rect x="1802.60" y="1242.95" width="9.3" height="18.4" fill="#C2A6D2"/><rect x="1814.74" y="1242.95" width="9.3" height="18.4" fill="#F3EFF6"/><rect x="1826.88" y="1242.95" width="9.3" height="18.4" fill="#DED0E6"/><rect x="1839.02" y="1242.95" width="9.3" height="18.4" fill="#F6F3F8"/><rect x="1851.16" y="1242.95" width="9.3" height="18.4" fill="#DED0E6"/><rect x="1863.30" y="1242.95" width="9.3" height="18.4" fill="#DED0E6"/><rect x="1875.44" y="1242.95" width="9.3" height="18.4" fill="#F3EFF6"/><rect x="1887.58" y="1242.95" width="9.3" height="18.4" fill="#F6F3F8"/><rect x="1899.72" y="1242.95" width="9.3" height="18.4" fill="#F3EFF6"/><rect x="1911.86" y="1242.95" width="9.3" height="18.4" fill="#9768B3"/><rect x="1924.00" y="1242.95" width="9.3" height="18.4" fill="#C9B1D7"/><rect x="1936.14" y="1242.95" width="9.3" height="18.4" fill="#9E73B8"/><rect x="1948.28" y="1242.95" width="9.3" height="18.4" fill="#F6F3F8"/><rect x="1960.42" y="1242.95" width="9.3" height="18.4" fill="#F6F3F8"/><rect x="1972.56" y="1242.95" width="9.3" height="18.4" fill="#F6F3F8"/><rect x="1984.70" y="1242.95" width="9.3" height="18.4" fill="#C2A6D2"/><rect x="1996.84" y="1242.95" width="9.3" height="18.4" fill="#F6F3F8"/><rect x="2008.98" y="1242.95" width="9.3" height="18.4" fill="#F6F3F8"/><rect x="2021.12" y="1242.95" width="9.3" height="18.4" fill="#F6F3F8"/><rect x="2033.26" y="1242.95" width="9.3" height="18.4" fill="#BA9CCC"/><rect x="2045.40" y="1242.95" width="9.3" height="18.4" fill="#BA9CCC"/><rect x="2057.54" y="1242.95" width="9.3" height="18.4" fill="#BA9CCC"/><rect x="2069.68" y="1242.95" width="9.3" height="18.4" fill="#F6F3F8"/><rect x="2081.82" y="1242.95" width="9.3" height="18.4" fill="#FAF9FB"/><rect x="1559.80" y="1264.30" width="9.3" height="18.4" fill="#DED0E6"/><rect x="1571.94" y="1264.30" width="9.3" height="18.4" fill="#DED0E6"/><rect x="1584.08" y="1264.30" width="9.3" height="18.4" fill="#B392C7"/><rect x="1596.22" y="1264.30" width="9.3" height="18.4" fill="#D0BBDC"/><rect x="1608.36" y="1264.30" width="9.3" height="18.4" fill="#B392C7"/><rect x="1620.50" y="1264.30" width="9.3" height="18.4" fill="#C2A6D2"/><rect x="1632.64" y="1264.30" width="9.3" height="18.4" fill="#F7F5F9"/><rect x="1644.78" y="1264.30" width="9.3" height="18.4" fill="#C2A6D2"/><rect x="1656.92" y="1264.30" width="9.3" height="18.4" fill="#D0BBDC"/><rect x="1669.06" y="1264.30" width="9.3" height="18.4" fill="#F7F5F9"/><rect x="1681.20" y="1264.30" width="9.3" height="18.4" fill="#F3EFF6"/><rect x="1693.34" y="1264.30" width="9.3" height="18.4" fill="#F7F5F9"/><rect x="1705.48" y="1264.30" width="9.3" height="18.4" fill="#FAF9FB"/><rect x="1717.62" y="1264.30" width="9.3" height="18.4" fill="#FAF9FB"/><rect x="1729.76" y="1264.30" width="9.3" height="18.4" fill="#7B3F9E"/><rect x="1741.90" y="1264.30" width="9.3" height="18.4" fill="#D0BBDC"/><rect x="1754.04" y="1264.30" width="9.3" height="18.4" fill="#FAF9FB"/><rect x="1766.18" y="1264.30" width="9.3" height="18.4" fill="#DED0E6"/><rect x="1778.32" y="1264.30" width="9.3" height="18.4" fill="#DED0E6"/><rect x="1790.46" y="1264.30" width="9.3" height="18.4" fill="#C2A6D2"/><rect x="1802.60" y="1264.30" width="9.3" height="18.4" fill="#F7F5F9"/><rect x="1814.74" y="1264.30" width="9.3" height="18.4" fill="#C9B1D7"/><rect x="1826.88" y="1264.30" width="9.3" height="18.4" fill="#F3EFF6"/><rect x="1839.02" y="1264.30" width="9.3" height="18.4" fill="#F6F3F8"/><rect x="1851.16" y="1264.30" width="9.3" height="18.4" fill="#E5DAEC"/><rect x="1863.30" y="1264.30" width="9.3" height="18.4" fill="#F3EFF6"/><rect x="1875.44" y="1264.30" width="9.3" height="18.4" fill="#E5DAEC"/><rect x="1887.58" y="1264.30" width="9.3" height="18.4" fill="#F3EFF6"/><rect x="1899.72" y="1264.30" width="9.3" height="18.4" fill="#DED0E6"/><rect x="1911.86" y="1264.30" width="9.3" height="18.4" fill="#F6F3F8"/><rect x="1924.00" y="1264.30" width="9.3" height="18.4" fill="#BA9CCC"/><rect x="1936.14" y="1264.30" width="9.3" height="18.4" fill="#E5DAEC"/><rect x="1948.28" y="1264.30" width="9.3" height="18.4" fill="#FAF9FB"/><rect x="1960.42" y="1264.30" width="9.3" height="18.4" fill="#FAF9FB"/><rect x="1972.56" y="1264.30" width="9.3" height="18.4" fill="#D0BBDC"/><rect x="1984.70" y="1264.30" width="9.3" height="18.4" fill="#BA9CCC"/><rect x="1996.84" y="1264.30" width="9.3" height="18.4" fill="#E5DAEC"/><rect x="2008.98" y="1264.30" width="9.3" height="18.4" fill="#D0BBDC"/><rect x="2021.12" y="1264.30" width="9.3" height="18.4" fill="#F6F3F8"/><rect x="2033.26" y="1264.30" width="9.3" height="18.4" fill="#E9E0EF"/><rect x="2045.40" y="1264.30" width="9.3" height="18.4" fill="#FAF9FB"/><rect x="2057.54" y="1264.30" width="9.3" height="18.4" fill="#FAF9FB"/><rect x="2069.68" y="1264.30" width="9.3" height="18.4" fill="#E5DAEC"/><rect x="2081.82" y="1264.30" width="9.3" height="18.4" fill="#FAF9FB"/><rect x="1559.80" y="1285.65" width="9.3" height="18.4" fill="#F3EFF6"/><rect x="1571.94" y="1285.65" width="9.3" height="18.4" fill="#F6F4F8"/><rect x="1584.08" y="1285.65" width="9.3" height="18.4" fill="#F6F4F8"/><rect x="1596.22" y="1285.65" width="9.3" height="18.4" fill="#F3EFF6"/><rect x="1608.36" y="1285.65" width="9.3" height="18.4" fill="#F3EFF6"/><rect x="1620.50" y="1285.65" width="9.3" height="18.4" fill="#F2EDF5"/><rect x="1632.64" y="1285.65" width="9.3" height="18.4" fill="#F6F4F8"/><rect x="1644.78" y="1285.65" width="9.3" height="18.4" fill="#DED0E6"/><rect x="1656.92" y="1285.65" width="9.3" height="18.4" fill="#F6F4F8"/><rect x="1669.06" y="1285.65" width="9.3" height="18.4" fill="#F6F4F8"/><rect x="1681.20" y="1285.65" width="9.3" height="18.4" fill="#F0EBF4"/><rect x="1693.34" y="1285.65" width="9.3" height="18.4" fill="#F6F4F8"/><rect x="1705.48" y="1285.65" width="9.3" height="18.4" fill="#F6F4F8"/><rect x="1717.62" y="1285.65" width="9.3" height="18.4" fill="#F6F4F8"/><rect x="1729.76" y="1285.65" width="9.3" height="18.4" fill="#EFE8F3"/><rect x="1741.90" y="1285.65" width="9.3" height="18.4" fill="#F6F4F8"/><rect x="1754.04" y="1285.65" width="9.3" height="18.4" fill="#F6F4F8"/><rect x="1766.18" y="1285.65" width="9.3" height="18.4" fill="#F3EFF6"/><rect x="1778.32" y="1285.65" width="9.3" height="18.4" fill="#F3EFF6"/><rect x="1790.46" y="1285.65" width="9.3" height="18.4" fill="#F3EFF6"/><rect x="1802.60" y="1285.65" width="9.3" height="18.4" fill="#F6F4F8"/><rect x="1814.74" y="1285.65" width="9.3" height="18.4" fill="#F2EDF5"/><rect x="1826.88" y="1285.65" width="9.3" height="18.4" fill="#F6F4F8"/><rect x="1839.02" y="1285.65" width="9.3" height="18.4" fill="#F4F1F7"/><rect x="1851.16" y="1285.65" width="9.3" height="18.4" fill="#F3EFF6"/><rect x="1863.30" y="1285.65" width="9.3" height="18.4" fill="#F4F1F7"/><rect x="1875.44" y="1285.65" width="9.3" height="18.4" fill="#F6F4F8"/><rect x="1887.58" y="1285.65" width="9.3" height="18.4" fill="#F4F1F7"/><rect x="1899.72" y="1285.65" width="9.3" height="18.4" fill="#F6F4F8"/><rect x="1911.86" y="1285.65" width="9.3" height="18.4" fill="#F3EFF6"/><rect x="1924.00" y="1285.65" width="9.3" height="18.4" fill="#F6F4F8"/><rect x="1936.14" y="1285.65" width="9.3" height="18.4" fill="#F4F1F7"/><rect x="1948.28" y="1285.65" width="9.3" height="18.4" fill="#F6F4F8"/><rect x="1960.42" y="1285.65" width="9.3" height="18.4" fill="#F6F4F8"/><rect x="1972.56" y="1285.65" width="9.3" height="18.4" fill="#F6F4F8"/><rect x="1984.70" y="1285.65" width="9.3" height="18.4" fill="#F4F1F7"/><rect x="1996.84" y="1285.65" width="9.3" height="18.4" fill="#F6F4F8"/><rect x="2008.98" y="1285.65" width="9.3" height="18.4" fill="#F6F4F8"/><rect x="2021.12" y="1285.65" width="9.3" height="18.4" fill="#F4F1F7"/><rect x="2033.26" y="1285.65" width="9.3" height="18.4" fill="#F6F4F8"/><rect x="2045.40" y="1285.65" width="9.3" height="18.4" fill="#F6F4F8"/><rect x="2057.54" y="1285.65" width="9.3" height="18.4" fill="#F6F4F8"/><rect x="2069.68" y="1285.65" width="9.3" height="18.4" fill="#F6F4F8"/><rect x="2081.82" y="1285.65" width="9.3" height="18.4" fill="#F6F4F8"/><rect x="1559.80" y="1307.00" width="9.3" height="18.4" fill="#F8F6F9"/><rect x="1571.94" y="1307.00" width="9.3" height="18.4" fill="#F8F6F9"/><rect x="1584.08" y="1307.00" width="9.3" height="18.4" fill="#F8F6F9"/><rect x="1596.22" y="1307.00" width="9.3" height="18.4" fill="#F8F6F9"/><rect x="1608.36" y="1307.00" width="9.3" height="18.4" fill="#E9E0EF"/><rect x="1620.50" y="1307.00" width="9.3" height="18.4" fill="#F8F6F9"/><rect x="1632.64" y="1307.00" width="9.3" height="18.4" fill="#F8F6F9"/><rect x="1644.78" y="1307.00" width="9.3" height="18.4" fill="#F8F6F9"/><rect x="1656.92" y="1307.00" width="9.3" height="18.4" fill="#F8F6F9"/><rect x="1669.06" y="1307.00" width="9.3" height="18.4" fill="#F8F6F9"/><rect x="1681.20" y="1307.00" width="9.3" height="18.4" fill="#F8F6F9"/><rect x="1693.34" y="1307.00" width="9.3" height="18.4" fill="#F8F6F9"/><rect x="1705.48" y="1307.00" width="9.3" height="18.4" fill="#F8F6F9"/><rect x="1717.62" y="1307.00" width="9.3" height="18.4" fill="#F8F6F9"/><rect x="1729.76" y="1307.00" width="9.3" height="18.4" fill="#F8F6F9"/><rect x="1741.90" y="1307.00" width="9.3" height="18.4" fill="#F8F6F9"/><rect x="1754.04" y="1307.00" width="9.3" height="18.4" fill="#F8F6F9"/><rect x="1766.18" y="1307.00" width="9.3" height="18.4" fill="#F8F6F9"/><rect x="1778.32" y="1307.00" width="9.3" height="18.4" fill="#F8F6F9"/><rect x="1790.46" y="1307.00" width="9.3" height="18.4" fill="#F8F6F9"/><rect x="1802.60" y="1307.00" width="9.3" height="18.4" fill="#F8F6F9"/><rect x="1814.74" y="1307.00" width="9.3" height="18.4" fill="#F8F6F9"/><rect x="1826.88" y="1307.00" width="9.3" height="18.4" fill="#F8F6F9"/><rect x="1839.02" y="1307.00" width="9.3" height="18.4" fill="#F8F6F9"/><rect x="1851.16" y="1307.00" width="9.3" height="18.4" fill="#F8F6F9"/><rect x="1863.30" y="1307.00" width="9.3" height="18.4" fill="#F8F6F9"/><rect x="1875.44" y="1307.00" width="9.3" height="18.4" fill="#F8F6F9"/><rect x="1887.58" y="1307.00" width="9.3" height="18.4" fill="#F8F6F9"/><rect x="1899.72" y="1307.00" width="9.3" height="18.4" fill="#F8F6F9"/><rect x="1911.86" y="1307.00" width="9.3" height="18.4" fill="#F8F6F9"/><rect x="1924.00" y="1307.00" width="9.3" height="18.4" fill="#F8F6F9"/><rect x="1936.14" y="1307.00" width="9.3" height="18.4" fill="#F8F6F9"/><rect x="1948.28" y="1307.00" width="9.3" height="18.4" fill="#F8F6F9"/><rect x="1960.42" y="1307.00" width="9.3" height="18.4" fill="#F8F6F9"/><rect x="1972.56" y="1307.00" width="9.3" height="18.4" fill="#F8F6F9"/><rect x="1984.70" y="1307.00" width="9.3" height="18.4" fill="#F8F6F9"/><rect x="1996.84" y="1307.00" width="9.3" height="18.4" fill="#F8F6F9"/><rect x="2008.98" y="1307.00" width="9.3" height="18.4" fill="#F8F6F9"/><rect x="2021.12" y="1307.00" width="9.3" height="18.4" fill="#F8F6F9"/><rect x="2033.26" y="1307.00" width="9.3" height="18.4" fill="#F8F6F9"/><rect x="2045.40" y="1307.00" width="9.3" height="18.4" fill="#F8F6F9"/><rect x="2057.54" y="1307.00" width="9.3" height="18.4" fill="#F8F6F9"/><rect x="2069.68" y="1307.00" width="9.3" height="18.4" fill="#F8F6F9"/><rect x="2081.82" y="1307.00" width="9.3" height="18.4" fill="#F8F6F9"/><rect x="1559.80" y="1328.35" width="9.3" height="18.4" fill="#F8F6F9"/><rect x="1571.94" y="1328.35" width="9.3" height="18.4" fill="#F8F6F9"/><rect x="1584.08" y="1328.35" width="9.3" height="18.4" fill="#F8F6F9"/><rect x="1596.22" y="1328.35" width="9.3" height="18.4" fill="#F8F6F9"/><rect x="1608.36" y="1328.35" width="9.3" height="18.4" fill="#F8F6F9"/><rect x="1620.50" y="1328.35" width="9.3" height="18.4" fill="#F8F6F9"/><rect x="1632.64" y="1328.35" width="9.3" height="18.4" fill="#F8F6F9"/><rect x="1644.78" y="1328.35" width="9.3" height="18.4" fill="#F8F6F9"/><rect x="1656.92" y="1328.35" width="9.3" height="18.4" fill="#F8F6F9"/><rect x="1669.06" y="1328.35" width="9.3" height="18.4" fill="#F8F6F9"/><rect x="1681.20" y="1328.35" width="9.3" height="18.4" fill="#F8F6F9"/><rect x="1693.34" y="1328.35" width="9.3" height="18.4" fill="#F8F6F9"/><rect x="1705.48" y="1328.35" width="9.3" height="18.4" fill="#F8F6F9"/><rect x="1717.62" y="1328.35" width="9.3" height="18.4" fill="#F8F6F9"/><rect x="1729.76" y="1328.35" width="9.3" height="18.4" fill="#F8F6F9"/><rect x="1741.90" y="1328.35" width="9.3" height="18.4" fill="#DED0E6"/><rect x="1754.04" y="1328.35" width="9.3" height="18.4" fill="#F8F6F9"/><rect x="1766.18" y="1328.35" width="9.3" height="18.4" fill="#F8F6F9"/><rect x="1778.32" y="1328.35" width="9.3" height="18.4" fill="#F8F6F9"/><rect x="1790.46" y="1328.35" width="9.3" height="18.4" fill="#F8F6F9"/><rect x="1802.60" y="1328.35" width="9.3" height="18.4" fill="#F8F6F9"/><rect x="1814.74" y="1328.35" width="9.3" height="18.4" fill="#F8F6F9"/><rect x="1826.88" y="1328.35" width="9.3" height="18.4" fill="#F8F6F9"/><rect x="1839.02" y="1328.35" width="9.3" height="18.4" fill="#F8F6F9"/><rect x="1851.16" y="1328.35" width="9.3" height="18.4" fill="#F8F6F9"/><rect x="1863.30" y="1328.35" width="9.3" height="18.4" fill="#F8F6F9"/><rect x="1875.44" y="1328.35" width="9.3" height="18.4" fill="#F8F6F9"/><rect x="1887.58" y="1328.35" width="9.3" height="18.4" fill="#F8F6F9"/><rect x="1899.72" y="1328.35" width="9.3" height="18.4" fill="#F8F6F9"/><rect x="1911.86" y="1328.35" width="9.3" height="18.4" fill="#F8F6F9"/><rect x="1924.00" y="1328.35" width="9.3" height="18.4" fill="#F8F6F9"/><rect x="1936.14" y="1328.35" width="9.3" height="18.4" fill="#F8F6F9"/><rect x="1948.28" y="1328.35" width="9.3" height="18.4" fill="#F8F6F9"/><rect x="1960.42" y="1328.35" width="9.3" height="18.4" fill="#F8F6F9"/><rect x="1972.56" y="1328.35" width="9.3" height="18.4" fill="#F8F6F9"/><rect x="1984.70" y="1328.35" width="9.3" height="18.4" fill="#F8F6F9"/><rect x="1996.84" y="1328.35" width="9.3" height="18.4" fill="#F8F6F9"/><rect x="2008.98" y="1328.35" width="9.3" height="18.4" fill="#F8F6F9"/><rect x="2021.12" y="1328.35" width="9.3" height="18.4" fill="#F8F6F9"/><rect x="2033.26" y="1328.35" width="9.3" height="18.4" fill="#F8F6F9"/><rect x="2045.40" y="1328.35" width="9.3" height="18.4" fill="#F8F6F9"/><rect x="2057.54" y="1328.35" width="9.3" height="18.4" fill="#F8F6F9"/><rect x="2069.68" y="1328.35" width="9.3" height="18.4" fill="#F8F6F9"/><rect x="2081.82" y="1328.35" width="9.3" height="18.4" fill="#F8F6F9"/><rect x="1559.80" y="1349.70" width="9.3" height="18.4" fill="#F8F6F9"/><rect x="1571.94" y="1349.70" width="9.3" height="18.4" fill="#F8F6F9"/><rect x="1584.08" y="1349.70" width="9.3" height="18.4" fill="#F8F6F9"/><rect x="1596.22" y="1349.70" width="9.3" height="18.4" fill="#F8F6F9"/><rect x="1608.36" y="1349.70" width="9.3" height="18.4" fill="#F8F6F9"/><rect x="1620.50" y="1349.70" width="9.3" height="18.4" fill="#EFE8F3"/><rect x="1632.64" y="1349.70" width="9.3" height="18.4" fill="#F8F6F9"/><rect x="1644.78" y="1349.70" width="9.3" height="18.4" fill="#F8F6F9"/><rect x="1656.92" y="1349.70" width="9.3" height="18.4" fill="#F2EDF5"/><rect x="1669.06" y="1349.70" width="9.3" height="18.4" fill="#F8F6F9"/><rect x="1681.20" y="1349.70" width="9.3" height="18.4" fill="#F0EBF4"/><rect x="1693.34" y="1349.70" width="9.3" height="18.4" fill="#F8F6F9"/><rect x="1705.48" y="1349.70" width="9.3" height="18.4" fill="#F8F6F9"/><rect x="1717.62" y="1349.70" width="9.3" height="18.4" fill="#F8F6F9"/><rect x="1729.76" y="1349.70" width="9.3" height="18.4" fill="#EFE8F3"/><rect x="1741.90" y="1349.70" width="9.3" height="18.4" fill="#F8F6F9"/><rect x="1754.04" y="1349.70" width="9.3" height="18.4" fill="#F8F6F9"/><rect x="1766.18" y="1349.70" width="9.3" height="18.4" fill="#F2EDF5"/><rect x="1778.32" y="1349.70" width="9.3" height="18.4" fill="#F8F6F9"/><rect x="1790.46" y="1349.70" width="9.3" height="18.4" fill="#EFE8F3"/><rect x="1802.60" y="1349.70" width="9.3" height="18.4" fill="#F8F6F9"/><rect x="1814.74" y="1349.70" width="9.3" height="18.4" fill="#F2EDF5"/><rect x="1826.88" y="1349.70" width="9.3" height="18.4" fill="#F8F6F9"/><rect x="1839.02" y="1349.70" width="9.3" height="18.4" fill="#F8F6F9"/><rect x="1851.16" y="1349.70" width="9.3" height="18.4" fill="#F0EBF4"/><rect x="1863.30" y="1349.70" width="9.3" height="18.4" fill="#F0EBF4"/><rect x="1875.44" y="1349.70" width="9.3" height="18.4" fill="#F8F6F9"/><rect x="1887.58" y="1349.70" width="9.3" height="18.4" fill="#F8F6F9"/><rect x="1899.72" y="1349.70" width="9.3" height="18.4" fill="#F8F6F9"/><rect x="1911.86" y="1349.70" width="9.3" height="18.4" fill="#F4F1F7"/><rect x="1924.00" y="1349.70" width="9.3" height="18.4" fill="#F8F6F9"/><rect x="1936.14" y="1349.70" width="9.3" height="18.4" fill="#F8F6F9"/><rect x="1948.28" y="1349.70" width="9.3" height="18.4" fill="#F8F6F9"/><rect x="1960.42" y="1349.70" width="9.3" height="18.4" fill="#F8F6F9"/><rect x="1972.56" y="1349.70" width="9.3" height="18.4" fill="#F8F6F9"/><rect x="1984.70" y="1349.70" width="9.3" height="18.4" fill="#F8F6F9"/><rect x="1996.84" y="1349.70" width="9.3" height="18.4" fill="#F8F6F9"/><rect x="2008.98" y="1349.70" width="9.3" height="18.4" fill="#F8F6F9"/><rect x="2021.12" y="1349.70" width="9.3" height="18.4" fill="#F8F6F9"/><rect x="2033.26" y="1349.70" width="9.3" height="18.4" fill="#F8F6F9"/><rect x="2045.40" y="1349.70" width="9.3" height="18.4" fill="#F8F6F9"/><rect x="2057.54" y="1349.70" width="9.3" height="18.4" fill="#F8F6F9"/><rect x="2069.68" y="1349.70" width="9.3" height="18.4" fill="#F8F6F9"/><rect x="2081.82" y="1349.70" width="9.3" height="18.4" fill="#F8F6F9"/><rect x="1559.80" y="1371.05" width="9.3" height="18.4" fill="#F9F7FA"/><rect x="1571.94" y="1371.05" width="9.3" height="18.4" fill="#F9F7FA"/><rect x="1584.08" y="1371.05" width="9.3" height="18.4" fill="#F9F7FA"/><rect x="1596.22" y="1371.05" width="9.3" height="18.4" fill="#F9F7FA"/><rect x="1608.36" y="1371.05" width="9.3" height="18.4" fill="#F9F7FA"/><rect x="1620.50" y="1371.05" width="9.3" height="18.4" fill="#F9F7FA"/><rect x="1632.64" y="1371.05" width="9.3" height="18.4" fill="#F9F7FA"/><rect x="1644.78" y="1371.05" width="9.3" height="18.4" fill="#F9F7FA"/><rect x="1656.92" y="1371.05" width="9.3" height="18.4" fill="#F9F7FA"/><rect x="1669.06" y="1371.05" width="9.3" height="18.4" fill="#F9F7FA"/><rect x="1681.20" y="1371.05" width="9.3" height="18.4" fill="#F9F7FA"/><rect x="1693.34" y="1371.05" width="9.3" height="18.4" fill="#F9F7FA"/><rect x="1705.48" y="1371.05" width="9.3" height="18.4" fill="#F9F7FA"/><rect x="1717.62" y="1371.05" width="9.3" height="18.4" fill="#F9F7FA"/><rect x="1729.76" y="1371.05" width="9.3" height="18.4" fill="#F9F7FA"/><rect x="1741.90" y="1371.05" width="9.3" height="18.4" fill="#F9F7FA"/><rect x="1754.04" y="1371.05" width="9.3" height="18.4" fill="#E9E0EF"/><rect x="1766.18" y="1371.05" width="9.3" height="18.4" fill="#F9F7FA"/><rect x="1778.32" y="1371.05" width="9.3" height="18.4" fill="#F9F7FA"/><rect x="1790.46" y="1371.05" width="9.3" height="18.4" fill="#F9F7FA"/><rect x="1802.60" y="1371.05" width="9.3" height="18.4" fill="#F9F7FA"/><rect x="1814.74" y="1371.05" width="9.3" height="18.4" fill="#F9F7FA"/><rect x="1826.88" y="1371.05" width="9.3" height="18.4" fill="#F9F7FA"/><rect x="1839.02" y="1371.05" width="9.3" height="18.4" fill="#F9F7FA"/><rect x="1851.16" y="1371.05" width="9.3" height="18.4" fill="#F9F7FA"/><rect x="1863.30" y="1371.05" width="9.3" height="18.4" fill="#F9F7FA"/><rect x="1875.44" y="1371.05" width="9.3" height="18.4" fill="#F9F7FA"/><rect x="1887.58" y="1371.05" width="9.3" height="18.4" fill="#F9F7FA"/><rect x="1899.72" y="1371.05" width="9.3" height="18.4" fill="#F9F7FA"/><rect x="1911.86" y="1371.05" width="9.3" height="18.4" fill="#F9F7FA"/><rect x="1924.00" y="1371.05" width="9.3" height="18.4" fill="#F9F7FA"/><rect x="1936.14" y="1371.05" width="9.3" height="18.4" fill="#F9F7FA"/><rect x="1948.28" y="1371.05" width="9.3" height="18.4" fill="#F9F7FA"/><rect x="1960.42" y="1371.05" width="9.3" height="18.4" fill="#F9F7FA"/><rect x="1972.56" y="1371.05" width="9.3" height="18.4" fill="#F9F7FA"/><rect x="1984.70" y="1371.05" width="9.3" height="18.4" fill="#F9F7FA"/><rect x="1996.84" y="1371.05" width="9.3" height="18.4" fill="#F9F7FA"/><rect x="2008.98" y="1371.05" width="9.3" height="18.4" fill="#F9F7FA"/><rect x="2021.12" y="1371.05" width="9.3" height="18.4" fill="#F9F7FA"/><rect x="2033.26" y="1371.05" width="9.3" height="18.4" fill="#F9F7FA"/><rect x="2045.40" y="1371.05" width="9.3" height="18.4" fill="#F9F7FA"/><rect x="2057.54" y="1371.05" width="9.3" height="18.4" fill="#F9F7FA"/><rect x="2069.68" y="1371.05" width="9.3" height="18.4" fill="#F9F7FA"/><rect x="2081.82" y="1371.05" width="9.3" height="18.4" fill="#F9F7FA"/><rect x="1559.80" y="1392.40" width="9.3" height="18.4" fill="#F2EEF5"/><rect x="1571.94" y="1392.40" width="9.3" height="18.4" fill="#F2EEF5"/><rect x="1584.08" y="1392.40" width="9.3" height="18.4" fill="#F2EEF5"/><rect x="1596.22" y="1392.40" width="9.3" height="18.4" fill="#F2EEF5"/><rect x="1608.36" y="1392.40" width="9.3" height="18.4" fill="#F2EEF5"/><rect x="1620.50" y="1392.40" width="9.3" height="18.4" fill="#EFE8F3"/><rect x="1632.64" y="1392.40" width="9.3" height="18.4" fill="#F2EEF5"/><rect x="1644.78" y="1392.40" width="9.3" height="18.4" fill="#F2EEF5"/><rect x="1656.92" y="1392.40" width="9.3" height="18.4" fill="#F2EEF5"/><rect x="1669.06" y="1392.40" width="9.3" height="18.4" fill="#F2EEF5"/><rect x="1681.20" y="1392.40" width="9.3" height="18.4" fill="#F0EBF4"/><rect x="1693.34" y="1392.40" width="9.3" height="18.4" fill="#F2EEF5"/><rect x="1705.48" y="1392.40" width="9.3" height="18.4" fill="#F2EEF5"/><rect x="1717.62" y="1392.40" width="9.3" height="18.4" fill="#F2EEF5"/><rect x="1729.76" y="1392.40" width="9.3" height="18.4" fill="#F2EEF5"/><rect x="1741.90" y="1392.40" width="9.3" height="18.4" fill="#F2EEF5"/><rect x="1754.04" y="1392.40" width="9.3" height="18.4" fill="#F2EEF5"/><rect x="1766.18" y="1392.40" width="9.3" height="18.4" fill="#F0EBF4"/><rect x="1778.32" y="1392.40" width="9.3" height="18.4" fill="#F2EEF5"/><rect x="1790.46" y="1392.40" width="9.3" height="18.4" fill="#F2EEF5"/><rect x="1802.60" y="1392.40" width="9.3" height="18.4" fill="#F2EEF5"/><rect x="1814.74" y="1392.40" width="9.3" height="18.4" fill="#F2EEF5"/><rect x="1826.88" y="1392.40" width="9.3" height="18.4" fill="#F2EEF5"/><rect x="1839.02" y="1392.40" width="9.3" height="18.4" fill="#F2EEF5"/><rect x="1851.16" y="1392.40" width="9.3" height="18.4" fill="#F0EBF4"/><rect x="1863.30" y="1392.40" width="9.3" height="18.4" fill="#F2EEF5"/><rect x="1875.44" y="1392.40" width="9.3" height="18.4" fill="#F2EEF5"/><rect x="1887.58" y="1392.40" width="9.3" height="18.4" fill="#F2EEF5"/><rect x="1899.72" y="1392.40" width="9.3" height="18.4" fill="#F2EEF5"/><rect x="1911.86" y="1392.40" width="9.3" height="18.4" fill="#F2EEF5"/><rect x="1924.00" y="1392.40" width="9.3" height="18.4" fill="#F2EEF5"/><rect x="1936.14" y="1392.40" width="9.3" height="18.4" fill="#F0EBF4"/><rect x="1948.28" y="1392.40" width="9.3" height="18.4" fill="#F2EEF5"/><rect x="1960.42" y="1392.40" width="9.3" height="18.4" fill="#F2EEF5"/><rect x="1972.56" y="1392.40" width="9.3" height="18.4" fill="#F2EEF5"/><rect x="1984.70" y="1392.40" width="9.3" height="18.4" fill="#F2EEF5"/><rect x="1996.84" y="1392.40" width="9.3" height="18.4" fill="#F2EEF5"/><rect x="2008.98" y="1392.40" width="9.3" height="18.4" fill="#F2EEF5"/><rect x="2021.12" y="1392.40" width="9.3" height="18.4" fill="#F2EEF5"/><rect x="2033.26" y="1392.40" width="9.3" height="18.4" fill="#F2EEF5"/><rect x="2045.40" y="1392.40" width="9.3" height="18.4" fill="#F2EEF5"/><rect x="2057.54" y="1392.40" width="9.3" height="18.4" fill="#F2EEF5"/><rect x="2069.68" y="1392.40" width="9.3" height="18.4" fill="#F2EEF5"/><rect x="2081.82" y="1392.40" width="9.3" height="18.4" fill="#F2EEF5"/><rect x="1559.80" y="1413.75" width="9.3" height="18.4" fill="#F8F6F9"/><rect x="1571.94" y="1413.75" width="9.3" height="18.4" fill="#F8F6F9"/><rect x="1584.08" y="1413.75" width="9.3" height="18.4" fill="#F8F6F9"/><rect x="1596.22" y="1413.75" width="9.3" height="18.4" fill="#F8F6F9"/><rect x="1608.36" y="1413.75" width="9.3" height="18.4" fill="#F8F6F9"/><rect x="1620.50" y="1413.75" width="9.3" height="18.4" fill="#F0EBF4"/><rect x="1632.64" y="1413.75" width="9.3" height="18.4" fill="#F8F6F9"/><rect x="1644.78" y="1413.75" width="9.3" height="18.4" fill="#F8F6F9"/><rect x="1656.92" y="1413.75" width="9.3" height="18.4" fill="#F8F6F9"/><rect x="1669.06" y="1413.75" width="9.3" height="18.4" fill="#F8F6F9"/><rect x="1681.20" y="1413.75" width="9.3" height="18.4" fill="#F3EFF6"/><rect x="1693.34" y="1413.75" width="9.3" height="18.4" fill="#F8F6F9"/><rect x="1705.48" y="1413.75" width="9.3" height="18.4" fill="#F8F6F9"/><rect x="1717.62" y="1413.75" width="9.3" height="18.4" fill="#F8F6F9"/><rect x="1729.76" y="1413.75" width="9.3" height="18.4" fill="#F8F6F9"/><rect x="1741.90" y="1413.75" width="9.3" height="18.4" fill="#F8F6F9"/><rect x="1754.04" y="1413.75" width="9.3" height="18.4" fill="#F8F6F9"/><rect x="1766.18" y="1413.75" width="9.3" height="18.4" fill="#F4F1F7"/><rect x="1778.32" y="1413.75" width="9.3" height="18.4" fill="#F8F6F9"/><rect x="1790.46" y="1413.75" width="9.3" height="18.4" fill="#F3EFF6"/><rect x="1802.60" y="1413.75" width="9.3" height="18.4" fill="#F8F6F9"/><rect x="1814.74" y="1413.75" width="9.3" height="18.4" fill="#F3EFF6"/><rect x="1826.88" y="1413.75" width="9.3" height="18.4" fill="#F8F6F9"/><rect x="1839.02" y="1413.75" width="9.3" height="18.4" fill="#F8F6F9"/><rect x="1851.16" y="1413.75" width="9.3" height="18.4" fill="#F8F6F9"/><rect x="1863.30" y="1413.75" width="9.3" height="18.4" fill="#F8F6F9"/><rect x="1875.44" y="1413.75" width="9.3" height="18.4" fill="#F8F6F9"/><rect x="1887.58" y="1413.75" width="9.3" height="18.4" fill="#F8F6F9"/><rect x="1899.72" y="1413.75" width="9.3" height="18.4" fill="#F8F6F9"/><rect x="1911.86" y="1413.75" width="9.3" height="18.4" fill="#F2EDF5"/><rect x="1924.00" y="1413.75" width="9.3" height="18.4" fill="#F8F6F9"/><rect x="1936.14" y="1413.75" width="9.3" height="18.4" fill="#F8F6F9"/><rect x="1948.28" y="1413.75" width="9.3" height="18.4" fill="#F8F6F9"/><rect x="1960.42" y="1413.75" width="9.3" height="18.4" fill="#F8F6F9"/><rect x="1972.56" y="1413.75" width="9.3" height="18.4" fill="#F8F6F9"/><rect x="1984.70" y="1413.75" width="9.3" height="18.4" fill="#F8F6F9"/><rect x="1996.84" y="1413.75" width="9.3" height="18.4" fill="#F8F6F9"/><rect x="2008.98" y="1413.75" width="9.3" height="18.4" fill="#F8F6F9"/><rect x="2021.12" y="1413.75" width="9.3" height="18.4" fill="#F8F6F9"/><rect x="2033.26" y="1413.75" width="9.3" height="18.4" fill="#F8F6F9"/><rect x="2045.40" y="1413.75" width="9.3" height="18.4" fill="#F8F6F9"/><rect x="2057.54" y="1413.75" width="9.3" height="18.4" fill="#F8F6F9"/><rect x="2069.68" y="1413.75" width="9.3" height="18.4" fill="#F8F6F9"/><rect x="2081.82" y="1413.75" width="9.3" height="18.4" fill="#F8F6F9"/><rect x="1559.80" y="1435.10" width="9.3" height="18.4" fill="#F7F5F9"/><rect x="1571.94" y="1435.10" width="9.3" height="18.4" fill="#F7F5F9"/><rect x="1584.08" y="1435.10" width="9.3" height="18.4" fill="#F7F5F9"/><rect x="1596.22" y="1435.10" width="9.3" height="18.4" fill="#F7F5F9"/><rect x="1608.36" y="1435.10" width="9.3" height="18.4" fill="#F7F5F9"/><rect x="1620.50" y="1435.10" width="9.3" height="18.4" fill="#F0EBF4"/><rect x="1632.64" y="1435.10" width="9.3" height="18.4" fill="#F7F5F9"/><rect x="1644.78" y="1435.10" width="9.3" height="18.4" fill="#F7F5F9"/><rect x="1656.92" y="1435.10" width="9.3" height="18.4" fill="#F7F5F9"/><rect x="1669.06" y="1435.10" width="9.3" height="18.4" fill="#F7F5F9"/><rect x="1681.20" y="1435.10" width="9.3" height="18.4" fill="#F3EFF6"/><rect x="1693.34" y="1435.10" width="9.3" height="18.4" fill="#F7F5F9"/><rect x="1705.48" y="1435.10" width="9.3" height="18.4" fill="#F7F5F9"/><rect x="1717.62" y="1435.10" width="9.3" height="18.4" fill="#F7F5F9"/><rect x="1729.76" y="1435.10" width="9.3" height="18.4" fill="#F3EFF6"/><rect x="1741.90" y="1435.10" width="9.3" height="18.4" fill="#F7F5F9"/><rect x="1754.04" y="1435.10" width="9.3" height="18.4" fill="#F7F5F9"/><rect x="1766.18" y="1435.10" width="9.3" height="18.4" fill="#F3EFF6"/><rect x="1778.32" y="1435.10" width="9.3" height="18.4" fill="#F7F5F9"/><rect x="1790.46" y="1435.10" width="9.3" height="18.4" fill="#F0EBF4"/><rect x="1802.60" y="1435.10" width="9.3" height="18.4" fill="#F7F5F9"/><rect x="1814.74" y="1435.10" width="9.3" height="18.4" fill="#F3EFF6"/><rect x="1826.88" y="1435.10" width="9.3" height="18.4" fill="#F7F5F9"/><rect x="1839.02" y="1435.10" width="9.3" height="18.4" fill="#F7F5F9"/><rect x="1851.16" y="1435.10" width="9.3" height="18.4" fill="#F3EFF6"/><rect x="1863.30" y="1435.10" width="9.3" height="18.4" fill="#F3EFF6"/><rect x="1875.44" y="1435.10" width="9.3" height="18.4" fill="#F2EDF5"/><rect x="1887.58" y="1435.10" width="9.3" height="18.4" fill="#F3EFF6"/><rect x="1899.72" y="1435.10" width="9.3" height="18.4" fill="#F3EFF6"/><rect x="1911.86" y="1435.10" width="9.3" height="18.4" fill="#F7F5F9"/><rect x="1924.00" y="1435.10" width="9.3" height="18.4" fill="#F7F5F9"/><rect x="1936.14" y="1435.10" width="9.3" height="18.4" fill="#F7F5F9"/><rect x="1948.28" y="1435.10" width="9.3" height="18.4" fill="#F7F5F9"/><rect x="1960.42" y="1435.10" width="9.3" height="18.4" fill="#F7F5F9"/><rect x="1972.56" y="1435.10" width="9.3" height="18.4" fill="#F7F5F9"/><rect x="1984.70" y="1435.10" width="9.3" height="18.4" fill="#F3EFF6"/><rect x="1996.84" y="1435.10" width="9.3" height="18.4" fill="#F7F5F9"/><rect x="2008.98" y="1435.10" width="9.3" height="18.4" fill="#F7F5F9"/><rect x="2021.12" y="1435.10" width="9.3" height="18.4" fill="#F3EFF6"/><rect x="2033.26" y="1435.10" width="9.3" height="18.4" fill="#F7F5F9"/><rect x="2045.40" y="1435.10" width="9.3" height="18.4" fill="#F7F5F9"/><rect x="2057.54" y="1435.10" width="9.3" height="18.4" fill="#F7F5F9"/><rect x="2069.68" y="1435.10" width="9.3" height="18.4" fill="#F7F5F9"/><rect x="2081.82" y="1435.10" width="9.3" height="18.4" fill="#DED0E6"/><rect x="1559.80" y="1456.45" width="9.3" height="18.4" fill="#F9F7FA"/><rect x="1571.94" y="1456.45" width="9.3" height="18.4" fill="#F9F7FA"/><rect x="1584.08" y="1456.45" width="9.3" height="18.4" fill="#F9F7FA"/><rect x="1596.22" y="1456.45" width="9.3" height="18.4" fill="#F9F7FA"/><rect x="1608.36" y="1456.45" width="9.3" height="18.4" fill="#F9F7FA"/><rect x="1620.50" y="1456.45" width="9.3" height="18.4" fill="#F9F7FA"/><rect x="1632.64" y="1456.45" width="9.3" height="18.4" fill="#F9F7FA"/><rect x="1644.78" y="1456.45" width="9.3" height="18.4" fill="#F9F7FA"/><rect x="1656.92" y="1456.45" width="9.3" height="18.4" fill="#F9F7FA"/><rect x="1669.06" y="1456.45" width="9.3" height="18.4" fill="#F9F7FA"/><rect x="1681.20" y="1456.45" width="9.3" height="18.4" fill="#F9F7FA"/><rect x="1693.34" y="1456.45" width="9.3" height="18.4" fill="#F9F7FA"/><rect x="1705.48" y="1456.45" width="9.3" height="18.4" fill="#F9F7FA"/><rect x="1717.62" y="1456.45" width="9.3" height="18.4" fill="#F9F7FA"/><rect x="1729.76" y="1456.45" width="9.3" height="18.4" fill="#F4F1F7"/><rect x="1741.90" y="1456.45" width="9.3" height="18.4" fill="#F9F7FA"/><rect x="1754.04" y="1456.45" width="9.3" height="18.4" fill="#F9F7FA"/><rect x="1766.18" y="1456.45" width="9.3" height="18.4" fill="#F4F1F7"/><rect x="1778.32" y="1456.45" width="9.3" height="18.4" fill="#F9F7FA"/><rect x="1790.46" y="1456.45" width="9.3" height="18.4" fill="#F9F7FA"/><rect x="1802.60" y="1456.45" width="9.3" height="18.4" fill="#F9F7FA"/><rect x="1814.74" y="1456.45" width="9.3" height="18.4" fill="#F9F7FA"/><rect x="1826.88" y="1456.45" width="9.3" height="18.4" fill="#F9F7FA"/><rect x="1839.02" y="1456.45" width="9.3" height="18.4" fill="#F9F7FA"/><rect x="1851.16" y="1456.45" width="9.3" height="18.4" fill="#F9F7FA"/><rect x="1863.30" y="1456.45" width="9.3" height="18.4" fill="#F9F7FA"/><rect x="1875.44" y="1456.45" width="9.3" height="18.4" fill="#DED0E6"/><rect x="1887.58" y="1456.45" width="9.3" height="18.4" fill="#F9F7FA"/><rect x="1899.72" y="1456.45" width="9.3" height="18.4" fill="#F9F7FA"/><rect x="1911.86" y="1456.45" width="9.3" height="18.4" fill="#F9F7FA"/><rect x="1924.00" y="1456.45" width="9.3" height="18.4" fill="#F9F7FA"/><rect x="1936.14" y="1456.45" width="9.3" height="18.4" fill="#F9F7FA"/><rect x="1948.28" y="1456.45" width="9.3" height="18.4" fill="#F9F7FA"/><rect x="1960.42" y="1456.45" width="9.3" height="18.4" fill="#F9F7FA"/><rect x="1972.56" y="1456.45" width="9.3" height="18.4" fill="#F9F7FA"/><rect x="1984.70" y="1456.45" width="9.3" height="18.4" fill="#F9F7FA"/><rect x="1996.84" y="1456.45" width="9.3" height="18.4" fill="#F9F7FA"/><rect x="2008.98" y="1456.45" width="9.3" height="18.4" fill="#F9F7FA"/><rect x="2021.12" y="1456.45" width="9.3" height="18.4" fill="#F9F7FA"/><rect x="2033.26" y="1456.45" width="9.3" height="18.4" fill="#F9F7FA"/><rect x="2045.40" y="1456.45" width="9.3" height="18.4" fill="#F9F7FA"/><rect x="2057.54" y="1456.45" width="9.3" height="18.4" fill="#F9F7FA"/><rect x="2069.68" y="1456.45" width="9.3" height="18.4" fill="#F9F7FA"/><rect x="2081.82" y="1456.45" width="9.3" height="18.4" fill="#F9F7FA"/>
<rect x="1557.3" y="1048.8" width="533.6" height="425.8" fill="none" stroke="#111" stroke-width="1.7"/>
<text transform="translate(1551.7,1064.7)" font-size="17.8" text-anchor="end">TNF</text>
<text transform="translate(1552.1,1086.0)" font-size="17.8" text-anchor="end">OSM</text>
<text transform="translate(1551.9,1107.4)" font-size="17.8" text-anchor="end">IL1B</text>
<text transform="translate(1554.0,1128.8)" font-size="17.8" text-anchor="end">LGALS3</text>
<text transform="translate(1552.5,1150.1)" font-size="17.8" text-anchor="end">CCL4</text>
<text transform="translate(1551.7,1171.5)" font-size="17.8" text-anchor="end">IL10</text>
<text transform="translate(1552.4,1192.8)" font-size="17.8" text-anchor="end">BTLA</text>
<text transform="translate(1553.9,1214.2)" font-size="17.8" text-anchor="end">CCL4L2</text>
<text transform="translate(1551.9,1235.5)" font-size="17.8" text-anchor="end">IL1A</text>
<text transform="translate(1551.7,1256.9)" font-size="17.8" text-anchor="end">IL15</text>
<text transform="translate(1553.3,1278.2)" font-size="17.8" text-anchor="end">TGFB1</text>
<text transform="translate(1552.8,1299.6)" font-size="17.8" text-anchor="end">IL1RN</text>
<text transform="translate(1552.8,1320.9)" font-size="17.8" text-anchor="end">VCAN</text>
<text transform="translate(1552.5,1342.2)" font-size="17.8" text-anchor="end">CD99</text>
<text transform="translate(1552.9,1363.6)" font-size="17.8" text-anchor="end">SIRPA</text>
<text transform="translate(1553.2,1385.0)" font-size="17.8" text-anchor="end">CCL21</text>
<text transform="translate(1552.5,1406.3)" font-size="17.8" text-anchor="end">JAM2</text>
<text transform="translate(1555.4,1427.7)" font-size="17.8" text-anchor="end">HLA.DRB5</text>
<text transform="translate(1552.3,1449.0)" font-size="17.8" text-anchor="end">PLAT</text>
<text transform="translate(1553.2,1470.4)" font-size="17.8" text-anchor="end">CD244</text>
<text transform="translate(1568.8,1478) rotate(-90) scale(0.9,1)" font-size="16.5" text-anchor="end">CSF1</text>
<text transform="translate(1581.0,1478) rotate(-90) scale(0.9,1)" font-size="16.5" text-anchor="end">GBP1</text>
<text transform="translate(1593.1,1478) rotate(-90) scale(0.9,1)" font-size="16.5" text-anchor="end">GBP2</text>
<text transform="translate(1605.3,1478) rotate(-90) scale(0.9,1)" font-size="16.5" text-anchor="end">IFI35</text>
<text transform="translate(1617.5,1478) rotate(-90) scale(0.9,1)" font-size="16.5" text-anchor="end">IL32</text>
<text transform="translate(1629.6,1478) rotate(-90) scale(0.9,1)" font-size="16.5" text-anchor="end">IRF1</text>
<text transform="translate(1641.8,1478) rotate(-90) scale(0.9,1)" font-size="16.5" text-anchor="end">LTB</text>
<text transform="translate(1654.0,1478) rotate(-90) scale(0.9,1)" font-size="16.5" text-anchor="end">NFKBIZ</text>
<text transform="translate(1666.1,1478) rotate(-90) scale(0.9,1)" font-size="16.5" text-anchor="end">PSMB9</text>
<text transform="translate(1678.3,1478) rotate(-90) scale(0.9,1)" font-size="16.5" text-anchor="end">SQSTM1</text>
<text transform="translate(1690.5,1478) rotate(-90) scale(0.9,1)" font-size="16.5" text-anchor="end">STAT1</text>
<text transform="translate(1702.6,1478) rotate(-90) scale(0.9,1)" font-size="16.5" text-anchor="end">TYMP</text>
<text transform="translate(1714.8,1478) rotate(-90) scale(0.9,1)" font-size="16.5" text-anchor="end">B2M</text>
<text transform="translate(1726.9,1478) rotate(-90) scale(0.9,1)" font-size="16.5" text-anchor="end">COQ10B</text>
<text transform="translate(1739.1,1478) rotate(-90) scale(0.9,1)" font-size="16.5" text-anchor="end">GADD45B</text>
<text transform="translate(1751.3,1478) rotate(-90) scale(0.9,1)" font-size="16.5" text-anchor="end">HLA-E</text>
<text transform="translate(1763.4,1478) rotate(-90) scale(0.9,1)" font-size="16.5" text-anchor="end">LRP10</text>
<text transform="translate(1775.6,1478) rotate(-90) scale(0.9,1)" font-size="16.5" text-anchor="end">PIM1</text>
<text transform="translate(1787.8,1478) rotate(-90) scale(0.9,1)" font-size="16.5" text-anchor="end">SERPINB1</text>
<text transform="translate(1799.9,1478) rotate(-90) scale(0.9,1)" font-size="16.5" text-anchor="end">SOCS3</text>
<text transform="translate(1812.1,1478) rotate(-90) scale(0.9,1)" font-size="16.5" text-anchor="end">MT1E</text>
<text transform="translate(1824.3,1478) rotate(-90) scale(0.9,1)" font-size="16.5" text-anchor="end">BAX</text>
<text transform="translate(1836.4,1478) rotate(-90) scale(0.9,1)" font-size="16.5" text-anchor="end">ENO1</text>
<text transform="translate(1848.6,1478) rotate(-90) scale(0.9,1)" font-size="16.5" text-anchor="end">FKBP5</text>
<text transform="translate(1860.8,1478) rotate(-90) scale(0.9,1)" font-size="16.5" text-anchor="end">GADD45A</text>
<text transform="translate(1872.9,1478) rotate(-90) scale(0.9,1)" font-size="16.5" text-anchor="end">GADD45G</text>
<text transform="translate(1885.1,1478) rotate(-90) scale(0.9,1)" font-size="16.5" text-anchor="end">GAPDH</text>
<text transform="translate(1897.3,1478) rotate(-90) scale(0.9,1)" font-size="16.5" text-anchor="end">PER1</text>
<text transform="translate(1909.4,1478) rotate(-90) scale(0.9,1)" font-size="16.5" text-anchor="end">ZFP36L1</text>
<text transform="translate(1921.6,1478) rotate(-90) scale(0.9,1)" font-size="16.5" text-anchor="end">CISH</text>
<text transform="translate(1933.8,1478) rotate(-90) scale(0.9,1)" font-size="16.5" text-anchor="end">FOXP3</text>
<text transform="translate(1945.9,1478) rotate(-90) scale(0.9,1)" font-size="16.5" text-anchor="end">CTSC</text>
<text transform="translate(1958.1,1478) rotate(-90) scale(0.9,1)" font-size="16.5" text-anchor="end">CXCL13</text>
<text transform="translate(1970.2,1478) rotate(-90) scale(0.9,1)" font-size="16.5" text-anchor="end">IFI6</text>
<text transform="translate(1982.4,1478) rotate(-90) scale(0.9,1)" font-size="16.5" text-anchor="end">LY6E</text>
<text transform="translate(1994.6,1478) rotate(-90) scale(0.9,1)" font-size="16.5" text-anchor="end">PHLDA1</text>
<text transform="translate(2006.7,1478) rotate(-90) scale(0.9,1)" font-size="16.5" text-anchor="end">CD70</text>
<text transform="translate(2018.9,1478) rotate(-90) scale(0.9,1)" font-size="16.5" text-anchor="end">LPXN</text>
<text transform="translate(2031.1,1478) rotate(-90) scale(0.9,1)" font-size="16.5" text-anchor="end">NR4A2</text>
<text transform="translate(2043.2,1478) rotate(-90) scale(0.9,1)" font-size="16.5" text-anchor="end">ACP5</text>
<text transform="translate(2055.4,1478) rotate(-90) scale(0.9,1)" font-size="16.5" text-anchor="end">GBP5</text>
<text transform="translate(2067.6,1478) rotate(-90) scale(0.9,1)" font-size="16.5" text-anchor="end">LCP2</text>
<text transform="translate(2079.7,1478) rotate(-90) scale(0.9,1)" font-size="16.5" text-anchor="end">BST2</text>
<text transform="translate(2091.9,1478) rotate(-90) scale(0.9,1)" font-size="16.5" text-anchor="end">RAP1A</text>
<text transform="translate(1829.4,1628.5)" font-size="20.9" text-anchor="middle" font-weight="bold">Predicted target genes</text>
<text transform="translate(2100.0,1178.7)" font-size="17.9">Score</text>
<defs><linearGradient id="pp" x1="0" y1="0" x2="0" y2="1"><stop offset="0" stop-color="#7B3F9E"/><stop offset="0.5" stop-color="#BC9ACD"/><stop offset="1" stop-color="#FFFFFF"/></linearGradient></defs>
<rect x="2104.2" y="1197.6" width="26" height="127.1" fill="url(#pp)"/>
<path d="M2104.2 1239.5h5M2130.2 1239.5h-5" stroke="#fff" stroke-width="1"/>
<text transform="translate(2139.9,1245.8)" font-size="17.8">0.2</text>
<path d="M2104.2 1280.2h5M2130.2 1280.2h-5" stroke="#fff" stroke-width="1"/>
<text transform="translate(2139.9,1286.5)" font-size="17.8">0.1</text>
<path d="M2104.2 1320.5h5M2130.2 1320.5h-5" stroke="#fff" stroke-width="1"/>
<text transform="translate(2139.9,1326.8)" font-size="17.8">0.0</text>
</g>
</svg>
</body></html>
